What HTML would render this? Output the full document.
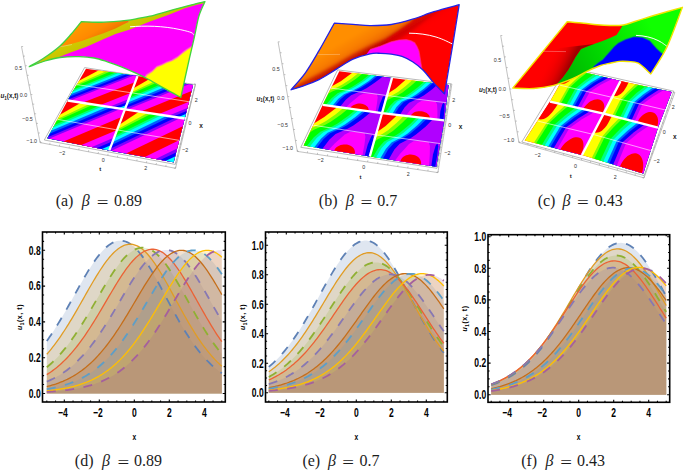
<!DOCTYPE html>
<html><head><meta charset="utf-8"><style>
html,body{margin:0;padding:0;background:#fff;}
svg{display:block;}
.tl{font-family:"Liberation Sans",sans-serif;font-weight:bold;font-size:12.2px;fill:#000;}
.al{font-family:"Liberation Sans",sans-serif;font-weight:bold;font-size:8.3px;fill:#000;}
.cap{font-family:"Liberation Serif",serif;font-size:16px;fill:#1c1c1c;}
.t3{font-family:"Liberation Sans",sans-serif;}
.t3b{font-family:"Liberation Sans",sans-serif;font-weight:bold;font-size:6.3px;fill:#222;}
</style></head><body>
<svg width="685" height="470" viewBox="0 0 685 470">
<defs><clipPath id="cb0"><rect x="42.50" y="232.00" width="182.80" height="170.00"/></clipPath>
<clipPath id="cb1"><rect x="265.50" y="232.00" width="181.80" height="170.00"/></clipPath>
<clipPath id="cb2"><rect x="488.00" y="234.70" width="181.70" height="167.60"/></clipPath></defs>
<g clip-path="url(#cb0)">
<polygon points="46.80,393.50 46.80,340.98 48.26,338.92 49.72,336.80 51.18,334.64 52.63,332.43 54.09,330.17 55.55,327.87 57.01,325.52 58.47,323.13 59.93,320.71 61.38,318.24 62.84,315.75 64.30,313.22 65.76,310.67 67.22,308.09 68.68,305.49 70.13,302.87 71.59,300.25 73.05,297.61 74.51,294.97 75.97,292.33 77.43,289.70 78.88,287.08 80.34,284.48 81.80,281.89 83.26,279.34 84.72,276.82 86.18,274.34 87.63,271.90 89.09,269.51 90.55,267.19 92.01,264.92 93.47,262.72 94.93,260.60 96.38,258.55 97.84,256.60 99.30,254.73 100.76,252.96 102.22,251.29 103.68,249.73 105.13,248.28 106.59,246.94 108.05,245.73 109.51,244.63 110.97,243.67 112.43,242.83 113.88,242.12 115.34,241.55 116.80,241.12 118.26,240.82 119.72,240.66 121.18,240.64 122.63,240.77 124.09,241.06 125.55,241.49 127.01,242.07 128.47,242.79 129.93,243.67 131.38,244.68 132.84,245.83 134.30,247.11 135.76,248.53 137.22,250.07 138.68,251.72 140.13,253.50 141.59,255.38 143.05,257.37 144.51,259.45 145.97,261.62 147.43,263.88 148.88,266.22 150.34,268.62 151.80,271.09 153.26,273.62 154.72,276.20 156.18,278.82 157.63,281.49 159.09,284.18 160.55,286.89 162.01,289.63 163.47,292.38 164.93,295.13 166.38,297.89 167.84,300.64 169.30,303.38 170.76,306.11 172.22,308.82 173.68,311.51 175.13,314.16 176.59,316.79 178.05,319.38 179.51,321.93 180.97,324.45 182.43,326.92 183.88,329.34 185.34,331.71 186.80,334.04 188.26,336.31 189.72,338.53 191.18,340.69 192.63,342.80 194.09,344.85 195.55,346.85 197.01,348.78 198.47,350.66 199.93,352.49 201.38,354.25 202.84,355.96 204.30,357.61 205.76,359.21 207.22,360.75 208.68,362.23 210.13,363.66 211.59,365.04 213.05,366.37 214.51,367.64 215.97,368.87 217.43,370.04 218.88,371.17 220.34,372.25 221.80,373.29 221.80,393.50" fill="#5E81B5" fill-opacity="0.2"/>
<polygon points="46.80,393.50 46.80,354.24 48.26,352.56 49.72,350.83 51.18,349.05 52.63,347.22 54.09,345.33 55.55,343.40 57.01,341.41 58.47,339.38 59.93,337.29 61.38,335.16 62.84,332.98 64.30,330.76 65.76,328.49 67.22,326.19 68.68,323.84 70.13,321.45 71.59,319.04 73.05,316.59 74.51,314.11 75.97,311.60 77.43,309.08 78.88,306.53 80.34,303.97 81.80,301.40 83.26,298.82 84.72,296.25 86.18,293.67 87.63,291.11 89.09,288.55 90.55,286.02 92.01,283.51 93.47,281.02 94.93,278.58 96.38,276.17 97.84,273.81 99.30,271.50 100.76,269.25 102.22,267.06 103.68,264.95 105.13,262.90 106.59,260.94 108.05,259.06 109.51,257.28 110.97,255.59 112.43,254.00 113.88,252.52 115.34,251.14 116.80,249.88 118.26,248.74 119.72,247.73 121.18,246.83 122.63,246.07 124.09,245.43 125.55,244.93 127.01,244.55 128.47,244.32 129.93,244.22 131.38,244.26 132.84,244.44 134.30,244.78 135.76,245.26 137.22,245.88 138.68,246.65 140.13,247.55 141.59,248.60 143.05,249.77 144.51,251.08 145.97,252.51 147.43,254.06 148.88,255.72 150.34,257.50 151.80,259.38 153.26,261.36 154.72,263.43 156.18,265.58 157.63,267.82 159.09,270.13 160.55,272.50 162.01,274.94 163.47,277.43 164.93,279.97 166.38,282.55 167.84,285.16 169.30,287.80 170.76,290.46 172.22,293.14 173.68,295.82 175.13,298.51 176.59,301.20 178.05,303.89 179.51,306.56 180.97,309.22 182.43,311.85 183.88,314.47 185.34,317.05 186.80,319.60 188.26,322.12 189.72,324.60 191.18,327.03 192.63,329.43 194.09,331.77 195.55,334.07 197.01,336.32 198.47,338.52 199.93,340.67 201.38,342.76 202.84,344.79 204.30,346.78 205.76,348.70 207.22,350.57 208.68,352.39 210.13,354.14 211.59,355.84 213.05,357.49 214.51,359.08 215.97,360.62 217.43,362.10 218.88,363.53 220.34,364.91 221.80,366.23 221.80,393.50" fill="#E19C24" fill-opacity="0.2"/>
<polygon points="46.80,393.50 46.80,367.27 48.26,366.05 49.72,364.78 51.18,363.46 52.63,362.10 54.09,360.69 55.55,359.23 57.01,357.72 58.47,356.16 59.93,354.55 61.38,352.89 62.84,351.18 64.30,349.42 65.76,347.61 67.22,345.75 68.68,343.85 70.13,341.89 71.59,339.88 73.05,337.83 74.51,335.73 75.97,333.58 77.43,331.40 78.88,329.17 80.34,326.90 81.80,324.59 83.26,322.25 84.72,319.87 86.18,317.47 87.63,315.04 89.09,312.58 90.55,310.11 92.01,307.61 93.47,305.11 94.93,302.59 96.38,300.07 97.84,297.56 99.30,295.04 100.76,292.54 102.22,290.05 103.68,287.58 105.13,285.14 106.59,282.72 108.05,280.34 109.51,278.01 110.97,275.72 112.43,273.48 113.88,271.30 115.34,269.19 116.80,267.15 118.26,265.18 119.72,263.29 121.18,261.49 122.63,259.77 124.09,258.16 125.55,256.64 127.01,255.23 128.47,253.93 129.93,252.74 131.38,251.67 132.84,250.72 134.30,249.89 135.76,249.19 137.22,248.61 138.68,248.16 140.13,247.85 141.59,247.67 143.05,247.62 144.51,247.71 145.97,247.94 147.43,248.32 148.88,248.84 150.34,249.50 151.80,250.30 153.26,251.23 154.72,252.30 156.18,253.49 157.63,254.81 159.09,256.25 160.55,257.81 162.01,259.48 163.47,261.25 164.93,263.12 166.38,265.09 167.84,267.14 169.30,269.28 170.76,271.49 172.22,273.77 173.68,276.11 175.13,278.51 176.59,280.96 178.05,283.46 179.51,285.99 180.97,288.55 182.43,291.14 183.88,293.75 185.34,296.37 186.80,298.99 188.26,301.62 189.72,304.25 191.18,306.87 192.63,309.48 194.09,312.07 195.55,314.64 197.01,317.18 198.47,319.69 199.93,322.18 201.38,324.62 202.84,327.03 204.30,329.40 205.76,331.72 207.22,334.00 208.68,336.22 210.13,338.40 211.59,340.53 213.05,342.61 214.51,344.64 215.97,346.61 217.43,348.52 218.88,350.39 220.34,352.19 221.80,353.95 221.80,393.50" fill="#8FB032" fill-opacity="0.2"/>
<polygon points="46.80,393.50 46.80,374.59 48.26,373.66 49.72,372.69 51.18,371.68 52.63,370.63 54.09,369.54 55.55,368.40 57.01,367.23 58.47,366.00 59.93,364.74 61.38,363.42 62.84,362.06 64.30,360.65 65.76,359.19 67.22,357.69 68.68,356.13 70.13,354.53 71.59,352.87 73.05,351.17 74.51,349.41 75.97,347.61 77.43,345.76 78.88,343.86 80.34,341.91 81.80,339.91 83.26,337.87 84.72,335.78 86.18,333.64 87.63,331.47 89.09,329.25 90.55,327.00 92.01,324.71 93.47,322.38 94.93,320.02 96.38,317.64 97.84,315.23 99.30,312.79 100.76,310.34 102.22,307.87 103.68,305.39 105.13,302.90 106.59,300.41 108.05,297.92 109.51,295.44 110.97,292.96 112.43,290.51 113.88,288.07 115.34,285.66 116.80,283.28 118.26,280.94 119.72,278.64 121.18,276.39 122.63,274.20 124.09,272.06 125.55,269.99 127.01,267.99 128.47,266.06 129.93,264.22 131.38,262.46 132.84,260.79 134.30,259.22 135.76,257.75 137.22,256.39 138.68,255.13 140.13,253.99 141.59,252.96 143.05,252.05 144.51,251.27 145.97,250.61 147.43,250.07 148.88,249.67 150.34,249.39 151.80,249.25 153.26,249.24 154.72,249.37 156.18,249.64 157.63,250.05 159.09,250.60 160.55,251.30 162.01,252.12 163.47,253.08 164.93,254.17 166.38,255.39 167.84,256.73 169.30,258.19 170.76,259.76 172.22,261.44 173.68,263.22 175.13,265.10 176.59,267.06 178.05,269.12 179.51,271.25 180.97,273.46 182.43,275.73 183.88,278.07 185.34,280.46 186.80,282.89 188.26,285.37 189.72,287.88 191.18,290.42 192.63,292.99 194.09,295.57 195.55,298.17 197.01,300.77 198.47,303.37 199.93,305.96 201.38,308.55 202.84,311.13 204.30,313.68 205.76,316.21 207.22,318.72 208.68,321.20 210.13,323.64 211.59,326.05 213.05,328.42 214.51,330.75 215.97,333.04 217.43,335.27 218.88,337.47 220.34,339.61 221.80,341.70 221.80,393.50" fill="#EB6235" fill-opacity="0.2"/>
<polygon points="46.80,393.50 46.80,381.60 48.26,380.98 49.72,380.33 51.18,379.65 52.63,378.94 54.09,378.20 55.55,377.43 57.01,376.62 58.47,375.78 59.93,374.90 61.38,373.98 62.84,373.03 64.30,372.03 65.76,371.00 67.22,369.92 68.68,368.80 70.13,367.64 71.59,366.44 73.05,365.18 74.51,363.89 75.97,362.54 77.43,361.15 78.88,359.72 80.34,358.23 81.80,356.69 83.26,355.11 84.72,353.47 86.18,351.79 87.63,350.06 89.09,348.27 90.55,346.44 92.01,344.56 93.47,342.63 94.93,340.66 96.38,338.63 97.84,336.57 99.30,334.45 100.76,332.30 102.22,330.10 103.68,327.87 105.13,325.60 106.59,323.29 108.05,320.95 109.51,318.59 110.97,316.19 112.43,313.77 113.88,311.34 115.34,308.88 116.80,306.42 118.26,303.94 119.72,301.47 121.18,298.99 122.63,296.51 124.09,294.05 125.55,291.60 127.01,289.17 128.47,286.77 129.93,284.39 131.38,282.06 132.84,279.76 134.30,277.51 135.76,275.31 137.22,273.17 138.68,271.09 140.13,269.08 141.59,267.15 143.05,265.29 144.51,263.52 145.97,261.84 147.43,260.26 148.88,258.77 150.34,257.38 151.80,256.11 153.26,254.94 154.72,253.89 156.18,252.96 157.63,252.15 159.09,251.46 160.55,250.90 162.01,250.47 163.47,250.16 164.93,249.99 166.38,249.94 167.84,250.04 169.30,250.27 170.76,250.65 172.22,251.17 173.68,251.82 175.13,252.62 176.59,253.54 178.05,254.59 179.51,255.78 180.97,257.08 182.43,258.50 183.88,260.04 185.34,261.68 186.80,263.43 188.26,265.28 189.72,267.21 191.18,269.24 192.63,271.34 194.09,273.52 195.55,275.77 197.01,278.08 198.47,280.44 199.93,282.86 201.38,285.31 202.84,287.80 204.30,290.33 205.76,292.87 207.22,295.44 208.68,298.02 210.13,300.61 211.59,303.19 213.05,305.78 214.51,308.36 215.97,310.92 217.43,313.47 218.88,316.00 220.34,318.50 221.80,320.97 221.80,393.50" fill="#8778B3" fill-opacity="0.2"/>
<polygon points="46.80,393.50 46.80,386.61 48.26,386.24 49.72,385.84 51.18,385.43 52.63,384.99 54.09,384.53 55.55,384.06 57.01,383.55 58.47,383.02 59.93,382.47 61.38,381.89 62.84,381.29 64.30,380.65 65.76,379.99 67.22,379.30 68.68,378.57 70.13,377.81 71.59,377.02 73.05,376.20 74.51,375.34 75.97,374.44 77.43,373.50 78.88,372.53 80.34,371.51 81.80,370.46 83.26,369.36 84.72,368.22 86.18,367.04 87.63,365.81 89.09,364.54 90.55,363.22 92.01,361.85 93.47,360.44 94.93,358.98 96.38,357.46 97.84,355.91 99.30,354.30 100.76,352.64 102.22,350.93 103.68,349.18 105.13,347.37 106.59,345.51 108.05,343.61 109.51,341.66 110.97,339.66 112.43,337.62 113.88,335.53 115.34,333.40 116.80,331.23 118.26,329.02 119.72,326.77 121.18,324.48 122.63,322.17 124.09,319.82 125.55,317.44 127.01,315.04 128.47,312.61 129.93,310.17 131.38,307.72 132.84,305.25 134.30,302.78 135.76,300.31 137.22,297.84 138.68,295.38 140.13,292.93 141.59,290.50 143.05,288.09 144.51,285.70 145.97,283.36 147.43,281.05 148.88,278.78 150.34,276.56 151.80,274.40 153.26,272.30 154.72,270.27 156.18,268.30 157.63,266.42 159.09,264.61 160.55,262.90 162.01,261.27 163.47,259.74 164.93,258.32 166.38,257.00 167.84,255.79 169.30,254.69 170.76,253.71 172.22,252.84 173.68,252.10 175.13,251.49 176.59,251.00 178.05,250.64 179.51,250.41 180.97,250.31 182.43,250.34 183.88,250.51 185.34,250.82 186.80,251.28 188.26,251.87 189.72,252.60 191.18,253.47 192.63,254.46 194.09,255.59 195.55,256.83 197.01,258.20 198.47,259.68 199.93,261.28 201.38,262.97 202.84,264.77 204.30,266.67 205.76,268.65 207.22,270.71 208.68,272.86 210.13,275.07 211.59,277.35 213.05,279.68 214.51,282.07 215.97,284.50 217.43,286.97 218.88,289.47 220.34,292.00 221.80,294.56 221.80,393.50" fill="#C56E1A" fill-opacity="0.2"/>
<polygon points="46.80,393.50 46.80,389.13 48.26,388.88 49.72,388.62 51.18,388.35 52.63,388.06 54.09,387.76 55.55,387.44 57.01,387.11 58.47,386.76 59.93,386.39 61.38,386.00 62.84,385.60 64.30,385.17 65.76,384.72 67.22,384.25 68.68,383.76 70.13,383.24 71.59,382.70 73.05,382.13 74.51,381.53 75.97,380.91 77.43,380.26 78.88,379.58 80.34,378.86 81.80,378.12 83.26,377.34 84.72,376.53 86.18,375.68 87.63,374.80 89.09,373.88 90.55,372.92 92.01,371.92 93.47,370.88 94.93,369.80 96.38,368.68 97.84,367.52 99.30,366.31 100.76,365.05 102.22,363.75 103.68,362.40 105.13,361.01 106.59,359.57 108.05,358.07 109.51,356.54 110.97,354.95 112.43,353.31 113.88,351.62 115.34,349.88 116.80,348.10 118.26,346.26 119.72,344.38 121.18,342.45 122.63,340.47 124.09,338.44 125.55,336.37 127.01,334.26 128.47,332.10 129.93,329.91 131.38,327.67 132.84,325.40 134.30,323.10 135.76,320.76 137.22,318.39 138.68,316.00 140.13,313.59 141.59,311.15 143.05,308.70 144.51,306.24 145.97,303.77 147.43,301.30 148.88,298.83 150.34,296.36 151.80,293.91 153.26,291.47 154.72,289.05 156.18,286.65 157.63,284.29 159.09,281.96 160.55,279.68 162.01,277.44 163.47,275.26 164.93,273.13 166.38,271.07 167.84,269.08 169.30,267.16 170.76,265.32 172.22,263.57 173.68,261.91 175.13,260.34 176.59,258.88 178.05,257.51 179.51,256.26 180.97,255.11 182.43,254.08 183.88,253.17 185.34,252.38 186.80,251.72 188.26,251.18 189.72,250.77 191.18,250.48 192.63,250.33 194.09,250.31 195.55,250.42 197.01,250.68 198.47,251.08 199.93,251.62 201.38,252.29 202.84,253.11 204.30,254.05 205.76,255.12 207.22,256.32 208.68,257.64 210.13,259.08 211.59,260.63 213.05,262.28 214.51,264.04 215.97,265.90 217.43,267.85 218.88,269.88 220.34,271.99 221.80,274.18 221.80,393.50" fill="#5D9EC7" fill-opacity="0.2"/>
<polygon points="46.80,393.50 46.80,390.90 48.26,390.75 49.72,390.59 51.18,390.42 52.63,390.25 54.09,390.06 55.55,389.87 57.01,389.66 58.47,389.44 59.93,389.21 61.38,388.97 62.84,388.72 64.30,388.45 65.76,388.17 67.22,387.87 68.68,387.56 70.13,387.23 71.59,386.89 73.05,386.53 74.51,386.15 75.97,385.75 77.43,385.33 78.88,384.88 80.34,384.42 81.80,383.94 83.26,383.43 84.72,382.89 86.18,382.34 87.63,381.75 89.09,381.14 90.55,380.50 92.01,379.83 93.47,379.12 94.93,378.39 96.38,377.63 97.84,376.83 99.30,375.99 100.76,375.12 102.22,374.22 103.68,373.27 105.13,372.29 106.59,371.26 108.05,370.20 109.51,369.09 110.97,367.94 112.43,366.75 113.88,365.51 115.34,364.22 116.80,362.89 118.26,361.52 119.72,360.09 121.18,358.62 122.63,357.10 124.09,355.52 125.55,353.90 127.01,352.23 128.47,350.51 129.93,348.75 131.38,346.93 132.84,345.06 134.30,343.15 135.76,341.19 137.22,339.18 138.68,337.12 140.13,335.03 141.59,332.89 143.05,330.70 144.51,328.48 145.97,326.22 147.43,323.93 148.88,321.60 150.34,319.25 151.80,316.86 153.26,314.46 154.72,312.03 156.18,309.59 157.63,307.13 159.09,304.66 160.55,302.19 162.01,299.72 163.47,297.25 164.93,294.79 166.38,292.34 167.84,289.92 169.30,287.51 170.76,285.14 172.22,282.80 173.68,280.50 175.13,278.24 176.59,276.04 178.05,273.89 179.51,271.81 180.97,269.79 182.43,267.84 183.88,265.98 185.34,264.19 186.80,262.50 188.26,260.90 189.72,259.39 191.18,257.99 192.63,256.70 194.09,255.51 195.55,254.44 197.01,253.49 198.47,252.65 199.93,251.94 201.38,251.36 202.84,250.90 204.30,250.57 205.76,250.37 207.22,250.30 208.68,250.37 210.13,250.57 211.59,250.92 213.05,251.41 214.51,252.04 215.97,252.80 217.43,253.69 218.88,254.72 220.34,255.87 221.80,257.15 221.80,393.50" fill="#FFBF00" fill-opacity="0.2"/>
<polygon points="46.80,393.50 46.80,391.93 48.26,391.83 49.72,391.74 51.18,391.63 52.63,391.53 54.09,391.41 55.55,391.29 57.01,391.16 58.47,391.03 59.93,390.88 61.38,390.73 62.84,390.57 64.30,390.40 65.76,390.23 67.22,390.04 68.68,389.84 70.13,389.64 71.59,389.42 73.05,389.19 74.51,388.94 75.97,388.69 77.43,388.42 78.88,388.13 80.34,387.84 81.80,387.52 83.26,387.19 84.72,386.85 86.18,386.48 87.63,386.10 89.09,385.70 90.55,385.27 92.01,384.83 93.47,384.36 94.93,383.88 96.38,383.37 97.84,382.83 99.30,382.27 100.76,381.68 102.22,381.06 103.68,380.42 105.13,379.74 106.59,379.04 108.05,378.30 109.51,377.53 110.97,376.73 112.43,375.89 113.88,375.02 115.34,374.10 116.80,373.16 118.26,372.17 119.72,371.14 121.18,370.07 122.63,368.96 124.09,367.80 125.55,366.60 127.01,365.36 128.47,364.07 129.93,362.73 131.38,361.35 132.84,359.92 134.30,358.44 135.76,356.91 137.22,355.33 138.68,353.71 140.13,352.03 141.59,350.31 143.05,348.53 144.51,346.71 145.97,344.84 147.43,342.92 148.88,340.95 150.34,338.93 151.80,336.88 153.26,334.77 154.72,332.63 156.18,330.44 157.63,328.21 159.09,325.95 160.55,323.65 162.01,321.32 163.47,318.96 164.93,316.58 166.38,314.17 167.84,311.74 169.30,309.29 170.76,306.83 172.22,304.36 173.68,301.89 175.13,299.42 176.59,296.95 178.05,294.49 179.51,292.05 180.97,289.63 182.43,287.23 183.88,284.85 185.34,282.52 186.80,280.22 188.26,277.98 189.72,275.78 191.18,273.64 192.63,271.56 194.09,269.55 195.55,267.62 197.01,265.76 198.47,263.98 199.93,262.30 201.38,260.71 202.84,259.22 204.30,257.83 205.76,256.55 207.22,255.38 208.68,254.32 210.13,253.38 211.59,252.56 213.05,251.87 214.51,251.30 215.97,250.85 217.43,250.54 218.88,250.36 220.34,250.30 221.80,250.38 221.80,393.50" fill="#A5609D" fill-opacity="0.2"/>
<polyline points="46.80,340.98 48.26,338.92 49.72,336.80 51.18,334.64 52.63,332.43 54.09,330.17 55.55,327.87 57.01,325.52 58.47,323.13 59.93,320.71 61.38,318.24 62.84,315.75 64.30,313.22 65.76,310.67 67.22,308.09 68.68,305.49 70.13,302.87 71.59,300.25 73.05,297.61 74.51,294.97 75.97,292.33 77.43,289.70 78.88,287.08 80.34,284.48 81.80,281.89 83.26,279.34 84.72,276.82 86.18,274.34 87.63,271.90 89.09,269.51 90.55,267.19 92.01,264.92 93.47,262.72 94.93,260.60 96.38,258.55 97.84,256.60 99.30,254.73 100.76,252.96 102.22,251.29 103.68,249.73 105.13,248.28 106.59,246.94 108.05,245.73 109.51,244.63 110.97,243.67 112.43,242.83 113.88,242.12 115.34,241.55 116.80,241.12 118.26,240.82 119.72,240.66 121.18,240.64 122.63,240.77 124.09,241.06 125.55,241.49 127.01,242.07 128.47,242.79 129.93,243.67 131.38,244.68 132.84,245.83 134.30,247.11 135.76,248.53 137.22,250.07 138.68,251.72 140.13,253.50 141.59,255.38 143.05,257.37 144.51,259.45 145.97,261.62 147.43,263.88 148.88,266.22 150.34,268.62 151.80,271.09 153.26,273.62 154.72,276.20 156.18,278.82 157.63,281.49 159.09,284.18 160.55,286.89 162.01,289.63 163.47,292.38 164.93,295.13 166.38,297.89 167.84,300.64 169.30,303.38 170.76,306.11 172.22,308.82 173.68,311.51 175.13,314.16 176.59,316.79 178.05,319.38 179.51,321.93 180.97,324.45 182.43,326.92 183.88,329.34 185.34,331.71 186.80,334.04 188.26,336.31 189.72,338.53 191.18,340.69 192.63,342.80 194.09,344.85 195.55,346.85 197.01,348.78 198.47,350.66 199.93,352.49 201.38,354.25 202.84,355.96 204.30,357.61 205.76,359.21 207.22,360.75 208.68,362.23 210.13,363.66 211.59,365.04 213.05,366.37 214.51,367.64 215.97,368.87 217.43,370.04 218.88,371.17 220.34,372.25 221.80,373.29" fill="none" stroke="#5E81B5" stroke-width="1.8" stroke-dasharray="9,9.5"/>
<polyline points="46.80,354.24 48.26,352.56 49.72,350.83 51.18,349.05 52.63,347.22 54.09,345.33 55.55,343.40 57.01,341.41 58.47,339.38 59.93,337.29 61.38,335.16 62.84,332.98 64.30,330.76 65.76,328.49 67.22,326.19 68.68,323.84 70.13,321.45 71.59,319.04 73.05,316.59 74.51,314.11 75.97,311.60 77.43,309.08 78.88,306.53 80.34,303.97 81.80,301.40 83.26,298.82 84.72,296.25 86.18,293.67 87.63,291.11 89.09,288.55 90.55,286.02 92.01,283.51 93.47,281.02 94.93,278.58 96.38,276.17 97.84,273.81 99.30,271.50 100.76,269.25 102.22,267.06 103.68,264.95 105.13,262.90 106.59,260.94 108.05,259.06 109.51,257.28 110.97,255.59 112.43,254.00 113.88,252.52 115.34,251.14 116.80,249.88 118.26,248.74 119.72,247.73 121.18,246.83 122.63,246.07 124.09,245.43 125.55,244.93 127.01,244.55 128.47,244.32 129.93,244.22 131.38,244.26 132.84,244.44 134.30,244.78 135.76,245.26 137.22,245.88 138.68,246.65 140.13,247.55 141.59,248.60 143.05,249.77 144.51,251.08 145.97,252.51 147.43,254.06 148.88,255.72 150.34,257.50 151.80,259.38 153.26,261.36 154.72,263.43 156.18,265.58 157.63,267.82 159.09,270.13 160.55,272.50 162.01,274.94 163.47,277.43 164.93,279.97 166.38,282.55 167.84,285.16 169.30,287.80 170.76,290.46 172.22,293.14 173.68,295.82 175.13,298.51 176.59,301.20 178.05,303.89 179.51,306.56 180.97,309.22 182.43,311.85 183.88,314.47 185.34,317.05 186.80,319.60 188.26,322.12 189.72,324.60 191.18,327.03 192.63,329.43 194.09,331.77 195.55,334.07 197.01,336.32 198.47,338.52 199.93,340.67 201.38,342.76 202.84,344.79 204.30,346.78 205.76,348.70 207.22,350.57 208.68,352.39 210.13,354.14 211.59,355.84 213.05,357.49 214.51,359.08 215.97,360.62 217.43,362.10 218.88,363.53 220.34,364.91 221.80,366.23" fill="none" stroke="#E19C24" stroke-width="1.3"/>
<polyline points="46.80,367.27 48.26,366.05 49.72,364.78 51.18,363.46 52.63,362.10 54.09,360.69 55.55,359.23 57.01,357.72 58.47,356.16 59.93,354.55 61.38,352.89 62.84,351.18 64.30,349.42 65.76,347.61 67.22,345.75 68.68,343.85 70.13,341.89 71.59,339.88 73.05,337.83 74.51,335.73 75.97,333.58 77.43,331.40 78.88,329.17 80.34,326.90 81.80,324.59 83.26,322.25 84.72,319.87 86.18,317.47 87.63,315.04 89.09,312.58 90.55,310.11 92.01,307.61 93.47,305.11 94.93,302.59 96.38,300.07 97.84,297.56 99.30,295.04 100.76,292.54 102.22,290.05 103.68,287.58 105.13,285.14 106.59,282.72 108.05,280.34 109.51,278.01 110.97,275.72 112.43,273.48 113.88,271.30 115.34,269.19 116.80,267.15 118.26,265.18 119.72,263.29 121.18,261.49 122.63,259.77 124.09,258.16 125.55,256.64 127.01,255.23 128.47,253.93 129.93,252.74 131.38,251.67 132.84,250.72 134.30,249.89 135.76,249.19 137.22,248.61 138.68,248.16 140.13,247.85 141.59,247.67 143.05,247.62 144.51,247.71 145.97,247.94 147.43,248.32 148.88,248.84 150.34,249.50 151.80,250.30 153.26,251.23 154.72,252.30 156.18,253.49 157.63,254.81 159.09,256.25 160.55,257.81 162.01,259.48 163.47,261.25 164.93,263.12 166.38,265.09 167.84,267.14 169.30,269.28 170.76,271.49 172.22,273.77 173.68,276.11 175.13,278.51 176.59,280.96 178.05,283.46 179.51,285.99 180.97,288.55 182.43,291.14 183.88,293.75 185.34,296.37 186.80,298.99 188.26,301.62 189.72,304.25 191.18,306.87 192.63,309.48 194.09,312.07 195.55,314.64 197.01,317.18 198.47,319.69 199.93,322.18 201.38,324.62 202.84,327.03 204.30,329.40 205.76,331.72 207.22,334.00 208.68,336.22 210.13,338.40 211.59,340.53 213.05,342.61 214.51,344.64 215.97,346.61 217.43,348.52 218.88,350.39 220.34,352.19 221.80,353.95" fill="none" stroke="#8FB032" stroke-width="1.8" stroke-dasharray="9,9.5"/>
<polyline points="46.80,374.59 48.26,373.66 49.72,372.69 51.18,371.68 52.63,370.63 54.09,369.54 55.55,368.40 57.01,367.23 58.47,366.00 59.93,364.74 61.38,363.42 62.84,362.06 64.30,360.65 65.76,359.19 67.22,357.69 68.68,356.13 70.13,354.53 71.59,352.87 73.05,351.17 74.51,349.41 75.97,347.61 77.43,345.76 78.88,343.86 80.34,341.91 81.80,339.91 83.26,337.87 84.72,335.78 86.18,333.64 87.63,331.47 89.09,329.25 90.55,327.00 92.01,324.71 93.47,322.38 94.93,320.02 96.38,317.64 97.84,315.23 99.30,312.79 100.76,310.34 102.22,307.87 103.68,305.39 105.13,302.90 106.59,300.41 108.05,297.92 109.51,295.44 110.97,292.96 112.43,290.51 113.88,288.07 115.34,285.66 116.80,283.28 118.26,280.94 119.72,278.64 121.18,276.39 122.63,274.20 124.09,272.06 125.55,269.99 127.01,267.99 128.47,266.06 129.93,264.22 131.38,262.46 132.84,260.79 134.30,259.22 135.76,257.75 137.22,256.39 138.68,255.13 140.13,253.99 141.59,252.96 143.05,252.05 144.51,251.27 145.97,250.61 147.43,250.07 148.88,249.67 150.34,249.39 151.80,249.25 153.26,249.24 154.72,249.37 156.18,249.64 157.63,250.05 159.09,250.60 160.55,251.30 162.01,252.12 163.47,253.08 164.93,254.17 166.38,255.39 167.84,256.73 169.30,258.19 170.76,259.76 172.22,261.44 173.68,263.22 175.13,265.10 176.59,267.06 178.05,269.12 179.51,271.25 180.97,273.46 182.43,275.73 183.88,278.07 185.34,280.46 186.80,282.89 188.26,285.37 189.72,287.88 191.18,290.42 192.63,292.99 194.09,295.57 195.55,298.17 197.01,300.77 198.47,303.37 199.93,305.96 201.38,308.55 202.84,311.13 204.30,313.68 205.76,316.21 207.22,318.72 208.68,321.20 210.13,323.64 211.59,326.05 213.05,328.42 214.51,330.75 215.97,333.04 217.43,335.27 218.88,337.47 220.34,339.61 221.80,341.70" fill="none" stroke="#EB6235" stroke-width="1.3"/>
<polyline points="46.80,381.60 48.26,380.98 49.72,380.33 51.18,379.65 52.63,378.94 54.09,378.20 55.55,377.43 57.01,376.62 58.47,375.78 59.93,374.90 61.38,373.98 62.84,373.03 64.30,372.03 65.76,371.00 67.22,369.92 68.68,368.80 70.13,367.64 71.59,366.44 73.05,365.18 74.51,363.89 75.97,362.54 77.43,361.15 78.88,359.72 80.34,358.23 81.80,356.69 83.26,355.11 84.72,353.47 86.18,351.79 87.63,350.06 89.09,348.27 90.55,346.44 92.01,344.56 93.47,342.63 94.93,340.66 96.38,338.63 97.84,336.57 99.30,334.45 100.76,332.30 102.22,330.10 103.68,327.87 105.13,325.60 106.59,323.29 108.05,320.95 109.51,318.59 110.97,316.19 112.43,313.77 113.88,311.34 115.34,308.88 116.80,306.42 118.26,303.94 119.72,301.47 121.18,298.99 122.63,296.51 124.09,294.05 125.55,291.60 127.01,289.17 128.47,286.77 129.93,284.39 131.38,282.06 132.84,279.76 134.30,277.51 135.76,275.31 137.22,273.17 138.68,271.09 140.13,269.08 141.59,267.15 143.05,265.29 144.51,263.52 145.97,261.84 147.43,260.26 148.88,258.77 150.34,257.38 151.80,256.11 153.26,254.94 154.72,253.89 156.18,252.96 157.63,252.15 159.09,251.46 160.55,250.90 162.01,250.47 163.47,250.16 164.93,249.99 166.38,249.94 167.84,250.04 169.30,250.27 170.76,250.65 172.22,251.17 173.68,251.82 175.13,252.62 176.59,253.54 178.05,254.59 179.51,255.78 180.97,257.08 182.43,258.50 183.88,260.04 185.34,261.68 186.80,263.43 188.26,265.28 189.72,267.21 191.18,269.24 192.63,271.34 194.09,273.52 195.55,275.77 197.01,278.08 198.47,280.44 199.93,282.86 201.38,285.31 202.84,287.80 204.30,290.33 205.76,292.87 207.22,295.44 208.68,298.02 210.13,300.61 211.59,303.19 213.05,305.78 214.51,308.36 215.97,310.92 217.43,313.47 218.88,316.00 220.34,318.50 221.80,320.97" fill="none" stroke="#8778B3" stroke-width="1.8" stroke-dasharray="9,9.5"/>
<polyline points="46.80,386.61 48.26,386.24 49.72,385.84 51.18,385.43 52.63,384.99 54.09,384.53 55.55,384.06 57.01,383.55 58.47,383.02 59.93,382.47 61.38,381.89 62.84,381.29 64.30,380.65 65.76,379.99 67.22,379.30 68.68,378.57 70.13,377.81 71.59,377.02 73.05,376.20 74.51,375.34 75.97,374.44 77.43,373.50 78.88,372.53 80.34,371.51 81.80,370.46 83.26,369.36 84.72,368.22 86.18,367.04 87.63,365.81 89.09,364.54 90.55,363.22 92.01,361.85 93.47,360.44 94.93,358.98 96.38,357.46 97.84,355.91 99.30,354.30 100.76,352.64 102.22,350.93 103.68,349.18 105.13,347.37 106.59,345.51 108.05,343.61 109.51,341.66 110.97,339.66 112.43,337.62 113.88,335.53 115.34,333.40 116.80,331.23 118.26,329.02 119.72,326.77 121.18,324.48 122.63,322.17 124.09,319.82 125.55,317.44 127.01,315.04 128.47,312.61 129.93,310.17 131.38,307.72 132.84,305.25 134.30,302.78 135.76,300.31 137.22,297.84 138.68,295.38 140.13,292.93 141.59,290.50 143.05,288.09 144.51,285.70 145.97,283.36 147.43,281.05 148.88,278.78 150.34,276.56 151.80,274.40 153.26,272.30 154.72,270.27 156.18,268.30 157.63,266.42 159.09,264.61 160.55,262.90 162.01,261.27 163.47,259.74 164.93,258.32 166.38,257.00 167.84,255.79 169.30,254.69 170.76,253.71 172.22,252.84 173.68,252.10 175.13,251.49 176.59,251.00 178.05,250.64 179.51,250.41 180.97,250.31 182.43,250.34 183.88,250.51 185.34,250.82 186.80,251.28 188.26,251.87 189.72,252.60 191.18,253.47 192.63,254.46 194.09,255.59 195.55,256.83 197.01,258.20 198.47,259.68 199.93,261.28 201.38,262.97 202.84,264.77 204.30,266.67 205.76,268.65 207.22,270.71 208.68,272.86 210.13,275.07 211.59,277.35 213.05,279.68 214.51,282.07 215.97,284.50 217.43,286.97 218.88,289.47 220.34,292.00 221.80,294.56" fill="none" stroke="#C56E1A" stroke-width="1.3"/>
<polyline points="46.80,389.13 48.26,388.88 49.72,388.62 51.18,388.35 52.63,388.06 54.09,387.76 55.55,387.44 57.01,387.11 58.47,386.76 59.93,386.39 61.38,386.00 62.84,385.60 64.30,385.17 65.76,384.72 67.22,384.25 68.68,383.76 70.13,383.24 71.59,382.70 73.05,382.13 74.51,381.53 75.97,380.91 77.43,380.26 78.88,379.58 80.34,378.86 81.80,378.12 83.26,377.34 84.72,376.53 86.18,375.68 87.63,374.80 89.09,373.88 90.55,372.92 92.01,371.92 93.47,370.88 94.93,369.80 96.38,368.68 97.84,367.52 99.30,366.31 100.76,365.05 102.22,363.75 103.68,362.40 105.13,361.01 106.59,359.57 108.05,358.07 109.51,356.54 110.97,354.95 112.43,353.31 113.88,351.62 115.34,349.88 116.80,348.10 118.26,346.26 119.72,344.38 121.18,342.45 122.63,340.47 124.09,338.44 125.55,336.37 127.01,334.26 128.47,332.10 129.93,329.91 131.38,327.67 132.84,325.40 134.30,323.10 135.76,320.76 137.22,318.39 138.68,316.00 140.13,313.59 141.59,311.15 143.05,308.70 144.51,306.24 145.97,303.77 147.43,301.30 148.88,298.83 150.34,296.36 151.80,293.91 153.26,291.47 154.72,289.05 156.18,286.65 157.63,284.29 159.09,281.96 160.55,279.68 162.01,277.44 163.47,275.26 164.93,273.13 166.38,271.07 167.84,269.08 169.30,267.16 170.76,265.32 172.22,263.57 173.68,261.91 175.13,260.34 176.59,258.88 178.05,257.51 179.51,256.26 180.97,255.11 182.43,254.08 183.88,253.17 185.34,252.38 186.80,251.72 188.26,251.18 189.72,250.77 191.18,250.48 192.63,250.33 194.09,250.31 195.55,250.42 197.01,250.68 198.47,251.08 199.93,251.62 201.38,252.29 202.84,253.11 204.30,254.05 205.76,255.12 207.22,256.32 208.68,257.64 210.13,259.08 211.59,260.63 213.05,262.28 214.51,264.04 215.97,265.90 217.43,267.85 218.88,269.88 220.34,271.99 221.80,274.18" fill="none" stroke="#5D9EC7" stroke-width="1.8" stroke-dasharray="9,9.5"/>
<polyline points="46.80,390.90 48.26,390.75 49.72,390.59 51.18,390.42 52.63,390.25 54.09,390.06 55.55,389.87 57.01,389.66 58.47,389.44 59.93,389.21 61.38,388.97 62.84,388.72 64.30,388.45 65.76,388.17 67.22,387.87 68.68,387.56 70.13,387.23 71.59,386.89 73.05,386.53 74.51,386.15 75.97,385.75 77.43,385.33 78.88,384.88 80.34,384.42 81.80,383.94 83.26,383.43 84.72,382.89 86.18,382.34 87.63,381.75 89.09,381.14 90.55,380.50 92.01,379.83 93.47,379.12 94.93,378.39 96.38,377.63 97.84,376.83 99.30,375.99 100.76,375.12 102.22,374.22 103.68,373.27 105.13,372.29 106.59,371.26 108.05,370.20 109.51,369.09 110.97,367.94 112.43,366.75 113.88,365.51 115.34,364.22 116.80,362.89 118.26,361.52 119.72,360.09 121.18,358.62 122.63,357.10 124.09,355.52 125.55,353.90 127.01,352.23 128.47,350.51 129.93,348.75 131.38,346.93 132.84,345.06 134.30,343.15 135.76,341.19 137.22,339.18 138.68,337.12 140.13,335.03 141.59,332.89 143.05,330.70 144.51,328.48 145.97,326.22 147.43,323.93 148.88,321.60 150.34,319.25 151.80,316.86 153.26,314.46 154.72,312.03 156.18,309.59 157.63,307.13 159.09,304.66 160.55,302.19 162.01,299.72 163.47,297.25 164.93,294.79 166.38,292.34 167.84,289.92 169.30,287.51 170.76,285.14 172.22,282.80 173.68,280.50 175.13,278.24 176.59,276.04 178.05,273.89 179.51,271.81 180.97,269.79 182.43,267.84 183.88,265.98 185.34,264.19 186.80,262.50 188.26,260.90 189.72,259.39 191.18,257.99 192.63,256.70 194.09,255.51 195.55,254.44 197.01,253.49 198.47,252.65 199.93,251.94 201.38,251.36 202.84,250.90 204.30,250.57 205.76,250.37 207.22,250.30 208.68,250.37 210.13,250.57 211.59,250.92 213.05,251.41 214.51,252.04 215.97,252.80 217.43,253.69 218.88,254.72 220.34,255.87 221.80,257.15" fill="none" stroke="#FFBF00" stroke-width="1.3"/>
<polyline points="46.80,391.93 48.26,391.83 49.72,391.74 51.18,391.63 52.63,391.53 54.09,391.41 55.55,391.29 57.01,391.16 58.47,391.03 59.93,390.88 61.38,390.73 62.84,390.57 64.30,390.40 65.76,390.23 67.22,390.04 68.68,389.84 70.13,389.64 71.59,389.42 73.05,389.19 74.51,388.94 75.97,388.69 77.43,388.42 78.88,388.13 80.34,387.84 81.80,387.52 83.26,387.19 84.72,386.85 86.18,386.48 87.63,386.10 89.09,385.70 90.55,385.27 92.01,384.83 93.47,384.36 94.93,383.88 96.38,383.37 97.84,382.83 99.30,382.27 100.76,381.68 102.22,381.06 103.68,380.42 105.13,379.74 106.59,379.04 108.05,378.30 109.51,377.53 110.97,376.73 112.43,375.89 113.88,375.02 115.34,374.10 116.80,373.16 118.26,372.17 119.72,371.14 121.18,370.07 122.63,368.96 124.09,367.80 125.55,366.60 127.01,365.36 128.47,364.07 129.93,362.73 131.38,361.35 132.84,359.92 134.30,358.44 135.76,356.91 137.22,355.33 138.68,353.71 140.13,352.03 141.59,350.31 143.05,348.53 144.51,346.71 145.97,344.84 147.43,342.92 148.88,340.95 150.34,338.93 151.80,336.88 153.26,334.77 154.72,332.63 156.18,330.44 157.63,328.21 159.09,325.95 160.55,323.65 162.01,321.32 163.47,318.96 164.93,316.58 166.38,314.17 167.84,311.74 169.30,309.29 170.76,306.83 172.22,304.36 173.68,301.89 175.13,299.42 176.59,296.95 178.05,294.49 179.51,292.05 180.97,289.63 182.43,287.23 183.88,284.85 185.34,282.52 186.80,280.22 188.26,277.98 189.72,275.78 191.18,273.64 192.63,271.56 194.09,269.55 195.55,267.62 197.01,265.76 198.47,263.98 199.93,262.30 201.38,260.71 202.84,259.22 204.30,257.83 205.76,256.55 207.22,255.38 208.68,254.32 210.13,253.38 211.59,252.56 213.05,251.87 214.51,251.30 215.97,250.85 217.43,250.54 218.88,250.36 220.34,250.30 221.80,250.38" fill="none" stroke="#A5609D" stroke-width="1.8" stroke-dasharray="9,9.5"/>
</g>
<rect x="42.50" y="232.00" width="182.80" height="170.00" fill="none" stroke="#000" stroke-width="1.6"/>
<path d="M46.80,402.00v-1.60M46.80,232.00v1.60M55.55,402.00v-1.60M55.55,232.00v1.60M64.30,402.00v-2.60M64.30,232.00v2.60M73.05,402.00v-1.60M73.05,232.00v1.60M81.80,402.00v-1.60M81.80,232.00v1.60M90.55,402.00v-1.60M90.55,232.00v1.60M99.30,402.00v-2.60M99.30,232.00v2.60M108.05,402.00v-1.60M108.05,232.00v1.60M116.80,402.00v-1.60M116.80,232.00v1.60M125.55,402.00v-1.60M125.55,232.00v1.60M134.30,402.00v-2.60M134.30,232.00v2.60M143.05,402.00v-1.60M143.05,232.00v1.60M151.80,402.00v-1.60M151.80,232.00v1.60M160.55,402.00v-1.60M160.55,232.00v1.60M169.30,402.00v-2.60M169.30,232.00v2.60M178.05,402.00v-1.60M178.05,232.00v1.60M186.80,402.00v-1.60M186.80,232.00v1.60M195.55,402.00v-1.60M195.55,232.00v1.60M204.30,402.00v-2.60M204.30,232.00v2.60M213.05,402.00v-1.60M213.05,232.00v1.60M221.80,402.00v-1.60M221.80,232.00v1.60M42.50,393.50h2.60M225.30,393.50h-2.60M42.50,384.55h1.60M225.30,384.55h-1.60M42.50,375.60h1.60M225.30,375.60h-1.60M42.50,366.65h1.60M225.30,366.65h-1.60M42.50,357.70h2.60M225.30,357.70h-2.60M42.50,348.75h1.60M225.30,348.75h-1.60M42.50,339.80h1.60M225.30,339.80h-1.60M42.50,330.85h1.60M225.30,330.85h-1.60M42.50,321.90h2.60M225.30,321.90h-2.60M42.50,312.95h1.60M225.30,312.95h-1.60M42.50,304.00h1.60M225.30,304.00h-1.60M42.50,295.05h1.60M225.30,295.05h-1.60M42.50,286.10h2.60M225.30,286.10h-2.60M42.50,277.15h1.60M225.30,277.15h-1.60M42.50,268.20h1.60M225.30,268.20h-1.60M42.50,259.25h1.60M225.30,259.25h-1.60M42.50,250.30h2.60M225.30,250.30h-2.60M42.50,241.35h1.60M225.30,241.35h-1.60" stroke="#000" stroke-width="1.1" fill="none"/>
<text x="0" y="417.3" class="tl" text-anchor="middle" transform="translate(62.80,0) scale(0.7,1)">−4</text>
<text x="0" y="417.3" class="tl" text-anchor="middle" transform="translate(97.80,0) scale(0.7,1)">−2</text>
<text x="0" y="417.3" class="tl" text-anchor="middle" transform="translate(134.30,0) scale(0.7,1)">0</text>
<text x="0" y="417.3" class="tl" text-anchor="middle" transform="translate(169.30,0) scale(0.7,1)">2</text>
<text x="0" y="417.3" class="tl" text-anchor="middle" transform="translate(204.30,0) scale(0.7,1)">4</text>
<text x="0" y="397.80" class="tl" text-anchor="end" transform="translate(40.70,0) scale(0.7,1)">0.0</text>
<text x="0" y="362.00" class="tl" text-anchor="end" transform="translate(40.70,0) scale(0.7,1)">0.2</text>
<text x="0" y="326.20" class="tl" text-anchor="end" transform="translate(40.70,0) scale(0.7,1)">0.4</text>
<text x="0" y="290.40" class="tl" text-anchor="end" transform="translate(40.70,0) scale(0.7,1)">0.6</text>
<text x="0" y="254.60" class="tl" text-anchor="end" transform="translate(40.70,0) scale(0.7,1)">0.8</text>
<text x="0" y="439.7" class="al" text-anchor="middle" transform="translate(134.30,0) scale(0.8,1)">x</text>
<text class="al" text-anchor="middle" style="font-size:7px;letter-spacing:0.55px" transform="translate(21.90,317.00) rotate(-90)"><tspan font-style="italic">u</tspan><tspan font-size="4.8" dy="1.6">1</tspan><tspan dy="-1.6">(x, t)</tspan></text>
<text x="74.80" y="466.00" class="cap">(d)</text>
<text x="102.10" y="466.00" class="cap" font-style="italic">β</text>
<text x="0" y="467.70" class="cap" transform="translate(117.40,0) scale(1.3,1)">=</text>
<text x="133.90" y="466.00" class="cap">0.89</text>
<g clip-path="url(#cb1)">
<polygon points="268.80,392.80 268.80,366.92 270.26,365.68 271.72,364.40 273.18,363.07 274.63,361.69 276.09,360.26 277.55,358.78 279.01,357.25 280.47,355.66 281.93,354.03 283.38,352.33 284.84,350.59 286.30,348.79 287.76,346.94 289.22,345.03 290.68,343.07 292.13,341.06 293.59,339.00 295.05,336.88 296.51,334.72 297.97,332.50 299.43,330.24 300.88,327.93 302.34,325.58 303.80,323.18 305.26,320.75 306.72,318.27 308.18,315.76 309.63,313.22 311.09,310.66 312.55,308.06 314.01,305.45 315.47,302.82 316.93,300.17 318.38,297.52 319.84,294.86 321.30,292.21 322.76,289.55 324.22,286.92 325.68,284.29 327.13,281.69 328.59,279.12 330.05,276.59 331.51,274.09 332.97,271.64 334.43,269.24 335.88,266.89 337.34,264.62 338.80,262.41 340.26,260.28 341.72,258.23 343.18,256.27 344.63,254.40 346.09,252.63 347.55,250.96 349.01,249.41 350.47,247.96 351.93,246.64 353.38,245.44 354.84,244.36 356.30,243.41 357.76,242.60 359.22,241.92 360.68,241.38 362.13,240.97 363.59,240.71 365.05,240.59 366.51,240.61 367.97,240.79 369.43,241.13 370.88,241.62 372.34,242.26 373.80,243.06 375.26,244.01 376.72,245.10 378.18,246.33 379.63,247.70 381.09,249.20 382.55,250.83 384.01,252.58 385.47,254.44 386.93,256.42 388.38,258.50 389.84,260.67 391.30,262.94 392.76,265.29 394.22,267.71 395.68,270.21 397.13,272.76 398.59,275.37 400.05,278.03 401.51,280.73 402.97,283.46 404.43,286.22 405.88,289.00 407.34,291.79 408.80,294.59 410.26,297.40 411.72,300.20 413.18,302.98 414.63,305.76 416.09,308.51 417.55,311.24 419.01,313.94 420.47,316.61 421.93,319.24 423.38,321.84 424.84,324.39 426.30,326.89 427.76,329.34 429.22,331.75 430.68,334.10 432.13,336.40 433.59,338.64 435.05,340.82 436.51,342.95 437.97,345.02 439.43,347.03 440.88,348.98 442.34,350.87 443.80,352.70 443.80,392.80" fill="#5E81B5" fill-opacity="0.2"/>
<polygon points="268.80,392.80 268.80,371.77 270.26,370.74 271.72,369.68 273.18,368.57 274.63,367.42 276.09,366.22 277.55,364.98 279.01,363.70 280.47,362.36 281.93,360.98 283.38,359.55 284.84,358.08 286.30,356.55 287.76,354.98 289.22,353.35 290.68,351.68 292.13,349.96 293.59,348.19 295.05,346.36 296.51,344.50 297.97,342.58 299.43,340.61 300.88,338.60 302.34,336.55 303.80,334.45 305.26,332.31 306.72,330.13 308.18,327.91 309.63,325.66 311.09,323.37 312.55,321.05 314.01,318.70 315.47,316.33 316.93,313.93 318.38,311.52 319.84,309.09 321.30,306.65 322.76,304.21 324.22,301.76 325.68,299.32 327.13,296.88 328.59,294.46 330.05,292.05 331.51,289.67 332.97,287.31 334.43,284.99 335.88,282.70 337.34,280.46 338.80,278.27 340.26,276.14 341.72,274.06 343.18,272.05 344.63,270.12 346.09,268.26 347.55,266.48 349.01,264.80 350.47,263.20 351.93,261.70 353.38,260.31 354.84,259.02 356.30,257.84 357.76,256.77 359.22,255.83 360.68,255.00 362.13,254.29 363.59,253.71 365.05,253.26 366.51,252.94 367.97,252.74 369.43,252.68 370.88,252.75 372.34,252.96 373.80,253.33 375.26,253.83 376.72,254.47 378.18,255.26 379.63,256.18 381.09,257.23 382.55,258.41 384.01,259.71 385.47,261.14 386.93,262.68 388.38,264.33 389.84,266.08 391.30,267.93 392.76,269.88 394.22,271.91 395.68,274.03 397.13,276.22 398.59,278.47 400.05,280.79 401.51,283.16 402.97,285.58 404.43,288.04 405.88,290.54 407.34,293.06 408.80,295.61 410.26,298.17 411.72,300.75 413.18,303.33 414.63,305.91 416.09,308.48 417.55,311.04 419.01,313.59 420.47,316.12 421.93,318.62 423.38,321.10 424.84,323.54 426.30,325.95 427.76,328.33 429.22,330.66 430.68,332.95 432.13,335.19 433.59,337.39 435.05,339.53 436.51,341.63 437.97,343.67 439.43,345.67 440.88,347.60 442.34,349.49 443.80,351.32 443.80,392.80" fill="#E19C24" fill-opacity="0.2"/>
<polygon points="268.80,392.80 268.80,376.93 270.26,376.13 271.72,375.30 273.18,374.43 274.63,373.53 276.09,372.59 277.55,371.61 279.01,370.59 280.47,369.53 281.93,368.43 283.38,367.29 284.84,366.11 286.30,364.88 287.76,363.61 289.22,362.29 290.68,360.93 292.13,359.53 293.59,358.08 295.05,356.58 296.51,355.04 297.97,353.45 299.43,351.82 300.88,350.14 302.34,348.41 303.80,346.64 305.26,344.83 306.72,342.97 308.18,341.07 309.63,339.13 311.09,337.15 312.55,335.14 314.01,333.08 315.47,330.99 316.93,328.88 318.38,326.73 319.84,324.55 321.30,322.35 322.76,320.13 324.22,317.89 325.68,315.63 327.13,313.36 328.59,311.09 330.05,308.82 331.51,306.54 332.97,304.27 334.43,302.01 335.88,299.77 337.34,297.54 338.80,295.34 340.26,293.17 341.72,291.03 343.18,288.93 344.63,286.87 346.09,284.87 347.55,282.92 349.01,281.03 350.47,279.21 351.93,277.46 353.38,275.78 354.84,274.18 356.30,272.67 357.76,271.25 359.22,269.92 360.68,268.69 362.13,267.56 363.59,266.53 365.05,265.61 366.51,264.81 367.97,264.11 369.43,263.54 370.88,263.08 372.34,262.74 373.80,262.52 375.26,262.42 376.72,262.44 378.18,262.60 379.63,262.89 381.09,263.32 382.55,263.88 384.01,264.57 385.47,265.38 386.93,266.32 388.38,267.38 389.84,268.56 391.30,269.85 392.76,271.25 394.22,272.75 395.68,274.35 397.13,276.05 398.59,277.83 400.05,279.70 401.51,281.64 402.97,283.66 404.43,285.74 405.88,287.88 407.34,290.07 408.80,292.30 410.26,294.58 411.72,296.90 413.18,299.24 414.63,301.60 416.09,303.98 417.55,306.38 419.01,308.77 420.47,311.17 421.93,313.57 423.38,315.96 424.84,318.34 426.30,320.69 427.76,323.03 429.22,325.34 430.68,327.63 432.13,329.88 433.59,332.10 435.05,334.28 436.51,336.43 437.97,338.53 439.43,340.59 440.88,342.60 442.34,344.56 443.80,346.48 443.80,392.80" fill="#8FB032" fill-opacity="0.2"/>
<polygon points="268.80,392.80 268.80,379.96 270.26,379.30 271.72,378.62 273.18,377.90 274.63,377.15 276.09,376.36 277.55,375.55 279.01,374.70 280.47,373.81 281.93,372.89 283.38,371.94 284.84,370.94 286.30,369.91 287.76,368.83 289.22,367.72 290.68,366.57 292.13,365.37 293.59,364.14 295.05,362.86 296.51,361.54 297.97,360.17 299.43,358.76 300.88,357.31 302.34,355.82 303.80,354.28 305.26,352.70 306.72,351.07 308.18,349.40 309.63,347.70 311.09,345.95 312.55,344.16 314.01,342.33 315.47,340.46 316.93,338.56 318.38,336.63 319.84,334.66 321.30,332.66 322.76,330.63 324.22,328.58 325.68,326.50 327.13,324.41 328.59,322.29 330.05,320.16 331.51,318.03 332.97,315.88 334.43,313.73 335.88,311.58 337.34,309.43 338.80,307.30 340.26,305.18 341.72,303.07 343.18,300.99 344.63,298.93 346.09,296.91 347.55,294.92 349.01,292.98 350.47,291.08 351.93,289.23 353.38,287.44 354.84,285.71 356.30,284.05 357.76,282.45 359.22,280.93 360.68,279.50 362.13,278.14 363.59,276.88 365.05,275.70 366.51,274.62 367.97,273.64 369.43,272.76 370.88,271.99 372.34,271.32 373.80,270.76 375.26,270.31 376.72,269.98 378.18,269.76 379.63,269.65 381.09,269.66 382.55,269.79 384.01,270.05 385.47,270.44 386.93,270.95 388.38,271.59 389.84,272.34 391.30,273.22 392.76,274.20 394.22,275.30 395.68,276.51 397.13,277.82 398.59,279.23 400.05,280.73 401.51,282.32 402.97,284.00 404.43,285.75 405.88,287.58 407.34,289.48 408.80,291.43 410.26,293.45 411.72,295.51 413.18,297.62 414.63,299.77 416.09,301.95 417.55,304.16 419.01,306.39 420.47,308.63 421.93,310.89 423.38,313.16 424.84,315.43 426.30,317.69 427.76,319.95 429.22,322.19 430.68,324.42 432.13,326.64 433.59,328.82 435.05,330.98 436.51,333.12 437.97,335.22 439.43,337.28 440.88,339.31 442.34,341.30 443.80,343.25 443.80,392.80" fill="#EB6235" fill-opacity="0.2"/>
<polygon points="268.80,392.80 268.80,384.15 270.26,383.69 271.72,383.21 273.18,382.70 274.63,382.17 276.09,381.62 277.55,381.04 279.01,380.43 280.47,379.80 281.93,379.13 283.38,378.44 284.84,377.72 286.30,376.96 287.76,376.18 289.22,375.36 290.68,374.51 292.13,373.62 293.59,372.70 295.05,371.74 296.51,370.74 297.97,369.71 299.43,368.64 300.88,367.53 302.34,366.38 303.80,365.19 305.26,363.95 306.72,362.68 308.18,361.37 309.63,360.01 311.09,358.61 312.55,357.17 314.01,355.69 315.47,354.17 316.93,352.61 318.38,351.00 319.84,349.36 321.30,347.67 322.76,345.95 324.22,344.19 325.68,342.40 327.13,340.57 328.59,338.71 330.05,336.81 331.51,334.89 332.97,332.94 334.43,330.96 335.88,328.96 337.34,326.95 338.80,324.91 340.26,322.87 341.72,320.81 343.18,318.74 344.63,316.68 346.09,314.61 347.55,312.55 349.01,310.49 350.47,308.45 351.93,306.43 353.38,304.43 354.84,302.45 356.30,300.51 357.76,298.60 359.22,296.73 360.68,294.90 362.13,293.13 363.59,291.41 365.05,289.75 366.51,288.15 367.97,286.62 369.43,285.17 370.88,283.79 372.34,282.49 373.80,281.27 375.26,280.15 376.72,279.11 378.18,278.17 379.63,277.33 381.09,276.59 382.55,275.95 384.01,275.42 385.47,274.99 386.93,274.67 388.38,274.47 389.84,274.37 391.30,274.38 392.76,274.51 394.22,274.77 395.68,275.15 397.13,275.65 398.59,276.26 400.05,276.99 401.51,277.84 402.97,278.79 404.43,279.85 405.88,281.01 407.34,282.28 408.80,283.64 410.26,285.08 411.72,286.62 413.18,288.23 414.63,289.92 416.09,291.68 417.55,293.51 419.01,295.39 420.47,297.33 421.93,299.32 423.38,301.35 424.84,303.42 426.30,305.51 427.76,307.64 429.22,309.78 430.68,311.95 432.13,314.12 433.59,316.30 435.05,318.48 436.51,320.66 437.97,322.83 439.43,324.99 440.88,327.13 442.34,329.26 443.80,331.36 443.80,392.80" fill="#8778B3" fill-opacity="0.2"/>
<polygon points="268.80,392.80 268.80,387.75 270.26,387.47 271.72,387.17 273.18,386.86 274.63,386.53 276.09,386.19 277.55,385.83 279.01,385.45 280.47,385.05 281.93,384.63 283.38,384.19 284.84,383.73 286.30,383.25 287.76,382.74 289.22,382.22 290.68,381.66 292.13,381.08 293.59,380.48 295.05,379.84 296.51,379.18 297.97,378.49 299.43,377.77 300.88,377.02 302.34,376.24 303.80,375.42 305.26,374.57 306.72,373.68 308.18,372.76 309.63,371.80 311.09,370.81 312.55,369.78 314.01,368.71 315.47,367.60 316.93,366.45 318.38,365.26 319.84,364.03 321.30,362.75 322.76,361.44 324.22,360.08 325.68,358.69 327.13,357.25 328.59,355.76 330.05,354.24 331.51,352.67 332.97,351.07 334.43,349.42 335.88,347.74 337.34,346.01 338.80,344.25 340.26,342.45 341.72,340.61 343.18,338.75 344.63,336.85 346.09,334.92 347.55,332.96 349.01,330.98 350.47,328.97 351.93,326.94 353.38,324.90 354.84,322.84 356.30,320.77 357.76,318.70 359.22,316.62 360.68,314.54 362.13,312.46 363.59,310.39 365.05,308.34 366.51,306.30 367.97,304.28 369.43,302.28 370.88,300.32 372.34,298.39 373.80,296.50 375.26,294.66 376.72,292.86 378.18,291.12 379.63,289.44 381.09,287.82 382.55,286.26 384.01,284.78 385.47,283.38 386.93,282.05 388.38,280.81 389.84,279.66 391.30,278.60 392.76,277.64 394.22,276.77 395.68,276.01 397.13,275.34 398.59,274.79 400.05,274.34 401.51,273.99 402.97,273.76 404.43,273.64 405.88,273.63 407.34,273.74 408.80,273.97 410.26,274.33 411.72,274.81 413.18,275.40 414.63,276.11 416.09,276.94 417.55,277.88 419.01,278.93 420.47,280.08 421.93,281.33 423.38,282.68 424.84,284.12 426.30,285.64 427.76,287.25 429.22,288.94 430.68,290.69 432.13,292.52 433.59,294.40 435.05,296.34 436.51,298.33 437.97,300.37 439.43,302.44 440.88,304.55 442.34,306.68 443.80,308.83 443.80,392.80" fill="#C56E1A" fill-opacity="0.2"/>
<polygon points="268.80,392.80 268.80,388.74 270.26,388.51 271.72,388.27 273.18,388.01 274.63,387.74 276.09,387.46 277.55,387.17 279.01,386.85 280.47,386.53 281.93,386.18 283.38,385.82 284.84,385.44 286.30,385.04 287.76,384.62 289.22,384.18 290.68,383.72 292.13,383.24 293.59,382.74 295.05,382.21 296.51,381.65 297.97,381.07 299.43,380.47 300.88,379.83 302.34,379.17 303.80,378.48 305.26,377.76 306.72,377.01 308.18,376.22 309.63,375.41 311.09,374.56 312.55,373.67 314.01,372.75 315.47,371.79 316.93,370.80 318.38,369.76 319.84,368.69 321.30,367.58 322.76,366.43 324.22,365.24 325.68,364.01 327.13,362.74 328.59,361.42 330.05,360.07 331.51,358.67 332.97,357.23 334.43,355.75 335.88,354.23 337.34,352.66 338.80,351.05 340.26,349.41 341.72,347.72 343.18,346.00 344.63,344.24 346.09,342.44 347.55,340.60 349.01,338.74 350.47,336.84 351.93,334.91 353.38,332.95 354.84,330.97 356.30,328.97 357.76,326.94 359.22,324.90 360.68,322.85 362.13,320.78 363.59,318.71 365.05,316.63 366.51,314.55 367.97,312.48 369.43,310.41 370.88,308.36 372.34,306.32 373.80,304.31 375.26,302.32 376.72,300.36 378.18,298.43 379.63,296.55 381.09,294.71 382.55,292.91 384.01,291.18 385.47,289.50 386.93,287.88 388.38,286.33 389.84,284.86 391.30,283.46 392.76,282.14 394.22,280.91 395.68,279.76 397.13,278.70 398.59,277.74 400.05,276.88 401.51,276.12 402.97,275.46 404.43,274.91 405.88,274.47 407.34,274.13 408.80,273.90 410.26,273.78 411.72,273.78 413.18,273.90 414.63,274.13 416.09,274.49 417.55,274.97 419.01,275.57 420.47,276.29 421.93,277.12 423.38,278.06 424.84,279.11 426.30,280.26 427.76,281.52 429.22,282.87 430.68,284.31 432.13,285.84 433.59,287.45 435.05,289.13 436.51,290.89 437.97,292.72 439.43,294.60 440.88,296.54 442.34,298.53 443.80,300.56 443.80,392.80" fill="#5D9EC7" fill-opacity="0.2"/>
<polygon points="268.80,392.80 268.80,390.17 270.26,390.01 271.72,389.85 273.18,389.68 274.63,389.50 276.09,389.32 277.55,389.12 279.01,388.91 280.47,388.69 281.93,388.46 283.38,388.21 284.84,387.95 286.30,387.68 287.76,387.40 289.22,387.10 290.68,386.78 292.13,386.45 293.59,386.10 295.05,385.74 296.51,385.35 297.97,384.95 299.43,384.53 300.88,384.08 302.34,383.62 303.80,383.13 305.26,382.62 306.72,382.08 308.18,381.53 309.63,380.94 311.09,380.33 312.55,379.69 314.01,379.02 315.47,378.32 316.93,377.59 318.38,376.83 319.84,376.04 321.30,375.22 322.76,374.36 324.22,373.47 325.68,372.54 327.13,371.57 328.59,370.57 330.05,369.52 331.51,368.44 332.97,367.33 334.43,366.17 335.88,364.97 337.34,363.72 338.80,362.44 340.26,361.12 341.72,359.75 343.18,358.34 344.63,356.89 346.09,355.40 347.55,353.87 349.01,352.29 350.47,350.68 351.93,349.02 353.38,347.32 354.84,345.59 356.30,343.82 357.76,342.01 359.22,340.17 360.68,338.29 362.13,336.39 363.59,334.45 365.05,332.49 366.51,330.50 367.97,328.49 369.43,326.46 370.88,324.41 372.34,322.35 373.80,320.28 375.26,318.20 376.72,316.12 378.18,314.04 379.63,311.96 381.09,309.90 382.55,307.85 384.01,305.81 385.47,303.80 386.93,301.81 388.38,299.85 389.84,297.93 391.30,296.06 392.76,294.22 394.22,292.44 395.68,290.71 397.13,289.04 398.59,287.44 400.05,285.90 401.51,284.44 402.97,283.05 404.43,281.75 405.88,280.53 407.34,279.40 408.80,278.36 410.26,277.42 411.72,276.58 413.18,275.84 414.63,275.20 416.09,274.67 417.55,274.24 419.01,273.93 420.47,273.72 421.93,273.63 423.38,273.65 424.84,273.79 426.30,274.05 427.76,274.43 429.22,274.94 430.68,275.56 432.13,276.30 433.59,277.16 435.05,278.12 436.51,279.19 437.97,280.37 439.43,281.64 440.88,283.01 442.34,284.47 443.80,286.02 443.80,392.80" fill="#FFBF00" fill-opacity="0.2"/>
<polygon points="268.80,392.80 268.80,390.80 270.26,390.68 271.72,390.56 273.18,390.43 274.63,390.29 276.09,390.14 277.55,389.99 279.01,389.83 280.47,389.66 281.93,389.48 283.38,389.29 284.84,389.09 286.30,388.88 287.76,388.66 289.22,388.42 290.68,388.18 292.13,387.92 293.59,387.64 295.05,387.36 296.51,387.06 297.97,386.74 299.43,386.40 300.88,386.05 302.34,385.69 303.80,385.30 305.26,384.89 306.72,384.47 308.18,384.02 309.63,383.56 311.09,383.07 312.55,382.55 314.01,382.02 315.47,381.45 316.93,380.87 318.38,380.25 319.84,379.61 321.30,378.94 322.76,378.24 324.22,377.51 325.68,376.74 327.13,375.95 328.59,375.12 330.05,374.26 331.51,373.37 332.97,372.43 334.43,371.47 335.88,370.46 337.34,369.42 338.80,368.34 340.26,367.21 341.72,366.05 343.18,364.85 344.63,363.61 346.09,362.33 347.55,361.00 349.01,359.64 350.47,358.23 351.93,356.78 353.38,355.29 354.84,353.76 356.30,352.19 357.76,350.57 359.22,348.92 360.68,347.23 362.13,345.50 363.59,343.73 365.05,341.93 366.51,340.10 367.97,338.23 369.43,336.33 370.88,334.41 372.34,332.45 373.80,330.48 375.26,328.48 376.72,326.47 378.18,324.43 379.63,322.39 381.09,320.34 382.55,318.28 384.01,316.22 385.47,314.16 386.93,312.11 388.38,310.07 389.84,308.04 391.30,306.03 392.76,304.05 394.22,302.09 395.68,300.16 397.13,298.27 398.59,296.43 400.05,294.63 401.51,292.88 402.97,291.19 404.43,289.55 405.88,287.99 407.34,286.49 408.80,285.06 410.26,283.72 411.72,282.45 413.18,281.27 414.63,280.18 416.09,279.19 417.55,278.29 419.01,277.48 420.47,276.78 421.93,276.18 423.38,275.69 424.84,275.31 426.30,275.03 427.76,274.86 429.22,274.80 430.68,274.86 432.13,275.03 433.59,275.33 435.05,275.75 436.51,276.29 437.97,276.95 439.43,277.71 440.88,278.60 442.34,279.58 443.80,280.68 443.80,392.80" fill="#A5609D" fill-opacity="0.2"/>
<polyline points="268.80,366.92 270.26,365.68 271.72,364.40 273.18,363.07 274.63,361.69 276.09,360.26 277.55,358.78 279.01,357.25 280.47,355.66 281.93,354.03 283.38,352.33 284.84,350.59 286.30,348.79 287.76,346.94 289.22,345.03 290.68,343.07 292.13,341.06 293.59,339.00 295.05,336.88 296.51,334.72 297.97,332.50 299.43,330.24 300.88,327.93 302.34,325.58 303.80,323.18 305.26,320.75 306.72,318.27 308.18,315.76 309.63,313.22 311.09,310.66 312.55,308.06 314.01,305.45 315.47,302.82 316.93,300.17 318.38,297.52 319.84,294.86 321.30,292.21 322.76,289.55 324.22,286.92 325.68,284.29 327.13,281.69 328.59,279.12 330.05,276.59 331.51,274.09 332.97,271.64 334.43,269.24 335.88,266.89 337.34,264.62 338.80,262.41 340.26,260.28 341.72,258.23 343.18,256.27 344.63,254.40 346.09,252.63 347.55,250.96 349.01,249.41 350.47,247.96 351.93,246.64 353.38,245.44 354.84,244.36 356.30,243.41 357.76,242.60 359.22,241.92 360.68,241.38 362.13,240.97 363.59,240.71 365.05,240.59 366.51,240.61 367.97,240.79 369.43,241.13 370.88,241.62 372.34,242.26 373.80,243.06 375.26,244.01 376.72,245.10 378.18,246.33 379.63,247.70 381.09,249.20 382.55,250.83 384.01,252.58 385.47,254.44 386.93,256.42 388.38,258.50 389.84,260.67 391.30,262.94 392.76,265.29 394.22,267.71 395.68,270.21 397.13,272.76 398.59,275.37 400.05,278.03 401.51,280.73 402.97,283.46 404.43,286.22 405.88,289.00 407.34,291.79 408.80,294.59 410.26,297.40 411.72,300.20 413.18,302.98 414.63,305.76 416.09,308.51 417.55,311.24 419.01,313.94 420.47,316.61 421.93,319.24 423.38,321.84 424.84,324.39 426.30,326.89 427.76,329.34 429.22,331.75 430.68,334.10 432.13,336.40 433.59,338.64 435.05,340.82 436.51,342.95 437.97,345.02 439.43,347.03 440.88,348.98 442.34,350.87 443.80,352.70" fill="none" stroke="#5E81B5" stroke-width="1.8" stroke-dasharray="9,9.5"/>
<polyline points="268.80,371.77 270.26,370.74 271.72,369.68 273.18,368.57 274.63,367.42 276.09,366.22 277.55,364.98 279.01,363.70 280.47,362.36 281.93,360.98 283.38,359.55 284.84,358.08 286.30,356.55 287.76,354.98 289.22,353.35 290.68,351.68 292.13,349.96 293.59,348.19 295.05,346.36 296.51,344.50 297.97,342.58 299.43,340.61 300.88,338.60 302.34,336.55 303.80,334.45 305.26,332.31 306.72,330.13 308.18,327.91 309.63,325.66 311.09,323.37 312.55,321.05 314.01,318.70 315.47,316.33 316.93,313.93 318.38,311.52 319.84,309.09 321.30,306.65 322.76,304.21 324.22,301.76 325.68,299.32 327.13,296.88 328.59,294.46 330.05,292.05 331.51,289.67 332.97,287.31 334.43,284.99 335.88,282.70 337.34,280.46 338.80,278.27 340.26,276.14 341.72,274.06 343.18,272.05 344.63,270.12 346.09,268.26 347.55,266.48 349.01,264.80 350.47,263.20 351.93,261.70 353.38,260.31 354.84,259.02 356.30,257.84 357.76,256.77 359.22,255.83 360.68,255.00 362.13,254.29 363.59,253.71 365.05,253.26 366.51,252.94 367.97,252.74 369.43,252.68 370.88,252.75 372.34,252.96 373.80,253.33 375.26,253.83 376.72,254.47 378.18,255.26 379.63,256.18 381.09,257.23 382.55,258.41 384.01,259.71 385.47,261.14 386.93,262.68 388.38,264.33 389.84,266.08 391.30,267.93 392.76,269.88 394.22,271.91 395.68,274.03 397.13,276.22 398.59,278.47 400.05,280.79 401.51,283.16 402.97,285.58 404.43,288.04 405.88,290.54 407.34,293.06 408.80,295.61 410.26,298.17 411.72,300.75 413.18,303.33 414.63,305.91 416.09,308.48 417.55,311.04 419.01,313.59 420.47,316.12 421.93,318.62 423.38,321.10 424.84,323.54 426.30,325.95 427.76,328.33 429.22,330.66 430.68,332.95 432.13,335.19 433.59,337.39 435.05,339.53 436.51,341.63 437.97,343.67 439.43,345.67 440.88,347.60 442.34,349.49 443.80,351.32" fill="none" stroke="#E19C24" stroke-width="1.3"/>
<polyline points="268.80,376.93 270.26,376.13 271.72,375.30 273.18,374.43 274.63,373.53 276.09,372.59 277.55,371.61 279.01,370.59 280.47,369.53 281.93,368.43 283.38,367.29 284.84,366.11 286.30,364.88 287.76,363.61 289.22,362.29 290.68,360.93 292.13,359.53 293.59,358.08 295.05,356.58 296.51,355.04 297.97,353.45 299.43,351.82 300.88,350.14 302.34,348.41 303.80,346.64 305.26,344.83 306.72,342.97 308.18,341.07 309.63,339.13 311.09,337.15 312.55,335.14 314.01,333.08 315.47,330.99 316.93,328.88 318.38,326.73 319.84,324.55 321.30,322.35 322.76,320.13 324.22,317.89 325.68,315.63 327.13,313.36 328.59,311.09 330.05,308.82 331.51,306.54 332.97,304.27 334.43,302.01 335.88,299.77 337.34,297.54 338.80,295.34 340.26,293.17 341.72,291.03 343.18,288.93 344.63,286.87 346.09,284.87 347.55,282.92 349.01,281.03 350.47,279.21 351.93,277.46 353.38,275.78 354.84,274.18 356.30,272.67 357.76,271.25 359.22,269.92 360.68,268.69 362.13,267.56 363.59,266.53 365.05,265.61 366.51,264.81 367.97,264.11 369.43,263.54 370.88,263.08 372.34,262.74 373.80,262.52 375.26,262.42 376.72,262.44 378.18,262.60 379.63,262.89 381.09,263.32 382.55,263.88 384.01,264.57 385.47,265.38 386.93,266.32 388.38,267.38 389.84,268.56 391.30,269.85 392.76,271.25 394.22,272.75 395.68,274.35 397.13,276.05 398.59,277.83 400.05,279.70 401.51,281.64 402.97,283.66 404.43,285.74 405.88,287.88 407.34,290.07 408.80,292.30 410.26,294.58 411.72,296.90 413.18,299.24 414.63,301.60 416.09,303.98 417.55,306.38 419.01,308.77 420.47,311.17 421.93,313.57 423.38,315.96 424.84,318.34 426.30,320.69 427.76,323.03 429.22,325.34 430.68,327.63 432.13,329.88 433.59,332.10 435.05,334.28 436.51,336.43 437.97,338.53 439.43,340.59 440.88,342.60 442.34,344.56 443.80,346.48" fill="none" stroke="#8FB032" stroke-width="1.8" stroke-dasharray="9,9.5"/>
<polyline points="268.80,379.96 270.26,379.30 271.72,378.62 273.18,377.90 274.63,377.15 276.09,376.36 277.55,375.55 279.01,374.70 280.47,373.81 281.93,372.89 283.38,371.94 284.84,370.94 286.30,369.91 287.76,368.83 289.22,367.72 290.68,366.57 292.13,365.37 293.59,364.14 295.05,362.86 296.51,361.54 297.97,360.17 299.43,358.76 300.88,357.31 302.34,355.82 303.80,354.28 305.26,352.70 306.72,351.07 308.18,349.40 309.63,347.70 311.09,345.95 312.55,344.16 314.01,342.33 315.47,340.46 316.93,338.56 318.38,336.63 319.84,334.66 321.30,332.66 322.76,330.63 324.22,328.58 325.68,326.50 327.13,324.41 328.59,322.29 330.05,320.16 331.51,318.03 332.97,315.88 334.43,313.73 335.88,311.58 337.34,309.43 338.80,307.30 340.26,305.18 341.72,303.07 343.18,300.99 344.63,298.93 346.09,296.91 347.55,294.92 349.01,292.98 350.47,291.08 351.93,289.23 353.38,287.44 354.84,285.71 356.30,284.05 357.76,282.45 359.22,280.93 360.68,279.50 362.13,278.14 363.59,276.88 365.05,275.70 366.51,274.62 367.97,273.64 369.43,272.76 370.88,271.99 372.34,271.32 373.80,270.76 375.26,270.31 376.72,269.98 378.18,269.76 379.63,269.65 381.09,269.66 382.55,269.79 384.01,270.05 385.47,270.44 386.93,270.95 388.38,271.59 389.84,272.34 391.30,273.22 392.76,274.20 394.22,275.30 395.68,276.51 397.13,277.82 398.59,279.23 400.05,280.73 401.51,282.32 402.97,284.00 404.43,285.75 405.88,287.58 407.34,289.48 408.80,291.43 410.26,293.45 411.72,295.51 413.18,297.62 414.63,299.77 416.09,301.95 417.55,304.16 419.01,306.39 420.47,308.63 421.93,310.89 423.38,313.16 424.84,315.43 426.30,317.69 427.76,319.95 429.22,322.19 430.68,324.42 432.13,326.64 433.59,328.82 435.05,330.98 436.51,333.12 437.97,335.22 439.43,337.28 440.88,339.31 442.34,341.30 443.80,343.25" fill="none" stroke="#EB6235" stroke-width="1.3"/>
<polyline points="268.80,384.15 270.26,383.69 271.72,383.21 273.18,382.70 274.63,382.17 276.09,381.62 277.55,381.04 279.01,380.43 280.47,379.80 281.93,379.13 283.38,378.44 284.84,377.72 286.30,376.96 287.76,376.18 289.22,375.36 290.68,374.51 292.13,373.62 293.59,372.70 295.05,371.74 296.51,370.74 297.97,369.71 299.43,368.64 300.88,367.53 302.34,366.38 303.80,365.19 305.26,363.95 306.72,362.68 308.18,361.37 309.63,360.01 311.09,358.61 312.55,357.17 314.01,355.69 315.47,354.17 316.93,352.61 318.38,351.00 319.84,349.36 321.30,347.67 322.76,345.95 324.22,344.19 325.68,342.40 327.13,340.57 328.59,338.71 330.05,336.81 331.51,334.89 332.97,332.94 334.43,330.96 335.88,328.96 337.34,326.95 338.80,324.91 340.26,322.87 341.72,320.81 343.18,318.74 344.63,316.68 346.09,314.61 347.55,312.55 349.01,310.49 350.47,308.45 351.93,306.43 353.38,304.43 354.84,302.45 356.30,300.51 357.76,298.60 359.22,296.73 360.68,294.90 362.13,293.13 363.59,291.41 365.05,289.75 366.51,288.15 367.97,286.62 369.43,285.17 370.88,283.79 372.34,282.49 373.80,281.27 375.26,280.15 376.72,279.11 378.18,278.17 379.63,277.33 381.09,276.59 382.55,275.95 384.01,275.42 385.47,274.99 386.93,274.67 388.38,274.47 389.84,274.37 391.30,274.38 392.76,274.51 394.22,274.77 395.68,275.15 397.13,275.65 398.59,276.26 400.05,276.99 401.51,277.84 402.97,278.79 404.43,279.85 405.88,281.01 407.34,282.28 408.80,283.64 410.26,285.08 411.72,286.62 413.18,288.23 414.63,289.92 416.09,291.68 417.55,293.51 419.01,295.39 420.47,297.33 421.93,299.32 423.38,301.35 424.84,303.42 426.30,305.51 427.76,307.64 429.22,309.78 430.68,311.95 432.13,314.12 433.59,316.30 435.05,318.48 436.51,320.66 437.97,322.83 439.43,324.99 440.88,327.13 442.34,329.26 443.80,331.36" fill="none" stroke="#8778B3" stroke-width="1.8" stroke-dasharray="9,9.5"/>
<polyline points="268.80,387.75 270.26,387.47 271.72,387.17 273.18,386.86 274.63,386.53 276.09,386.19 277.55,385.83 279.01,385.45 280.47,385.05 281.93,384.63 283.38,384.19 284.84,383.73 286.30,383.25 287.76,382.74 289.22,382.22 290.68,381.66 292.13,381.08 293.59,380.48 295.05,379.84 296.51,379.18 297.97,378.49 299.43,377.77 300.88,377.02 302.34,376.24 303.80,375.42 305.26,374.57 306.72,373.68 308.18,372.76 309.63,371.80 311.09,370.81 312.55,369.78 314.01,368.71 315.47,367.60 316.93,366.45 318.38,365.26 319.84,364.03 321.30,362.75 322.76,361.44 324.22,360.08 325.68,358.69 327.13,357.25 328.59,355.76 330.05,354.24 331.51,352.67 332.97,351.07 334.43,349.42 335.88,347.74 337.34,346.01 338.80,344.25 340.26,342.45 341.72,340.61 343.18,338.75 344.63,336.85 346.09,334.92 347.55,332.96 349.01,330.98 350.47,328.97 351.93,326.94 353.38,324.90 354.84,322.84 356.30,320.77 357.76,318.70 359.22,316.62 360.68,314.54 362.13,312.46 363.59,310.39 365.05,308.34 366.51,306.30 367.97,304.28 369.43,302.28 370.88,300.32 372.34,298.39 373.80,296.50 375.26,294.66 376.72,292.86 378.18,291.12 379.63,289.44 381.09,287.82 382.55,286.26 384.01,284.78 385.47,283.38 386.93,282.05 388.38,280.81 389.84,279.66 391.30,278.60 392.76,277.64 394.22,276.77 395.68,276.01 397.13,275.34 398.59,274.79 400.05,274.34 401.51,273.99 402.97,273.76 404.43,273.64 405.88,273.63 407.34,273.74 408.80,273.97 410.26,274.33 411.72,274.81 413.18,275.40 414.63,276.11 416.09,276.94 417.55,277.88 419.01,278.93 420.47,280.08 421.93,281.33 423.38,282.68 424.84,284.12 426.30,285.64 427.76,287.25 429.22,288.94 430.68,290.69 432.13,292.52 433.59,294.40 435.05,296.34 436.51,298.33 437.97,300.37 439.43,302.44 440.88,304.55 442.34,306.68 443.80,308.83" fill="none" stroke="#C56E1A" stroke-width="1.3"/>
<polyline points="268.80,388.74 270.26,388.51 271.72,388.27 273.18,388.01 274.63,387.74 276.09,387.46 277.55,387.17 279.01,386.85 280.47,386.53 281.93,386.18 283.38,385.82 284.84,385.44 286.30,385.04 287.76,384.62 289.22,384.18 290.68,383.72 292.13,383.24 293.59,382.74 295.05,382.21 296.51,381.65 297.97,381.07 299.43,380.47 300.88,379.83 302.34,379.17 303.80,378.48 305.26,377.76 306.72,377.01 308.18,376.22 309.63,375.41 311.09,374.56 312.55,373.67 314.01,372.75 315.47,371.79 316.93,370.80 318.38,369.76 319.84,368.69 321.30,367.58 322.76,366.43 324.22,365.24 325.68,364.01 327.13,362.74 328.59,361.42 330.05,360.07 331.51,358.67 332.97,357.23 334.43,355.75 335.88,354.23 337.34,352.66 338.80,351.05 340.26,349.41 341.72,347.72 343.18,346.00 344.63,344.24 346.09,342.44 347.55,340.60 349.01,338.74 350.47,336.84 351.93,334.91 353.38,332.95 354.84,330.97 356.30,328.97 357.76,326.94 359.22,324.90 360.68,322.85 362.13,320.78 363.59,318.71 365.05,316.63 366.51,314.55 367.97,312.48 369.43,310.41 370.88,308.36 372.34,306.32 373.80,304.31 375.26,302.32 376.72,300.36 378.18,298.43 379.63,296.55 381.09,294.71 382.55,292.91 384.01,291.18 385.47,289.50 386.93,287.88 388.38,286.33 389.84,284.86 391.30,283.46 392.76,282.14 394.22,280.91 395.68,279.76 397.13,278.70 398.59,277.74 400.05,276.88 401.51,276.12 402.97,275.46 404.43,274.91 405.88,274.47 407.34,274.13 408.80,273.90 410.26,273.78 411.72,273.78 413.18,273.90 414.63,274.13 416.09,274.49 417.55,274.97 419.01,275.57 420.47,276.29 421.93,277.12 423.38,278.06 424.84,279.11 426.30,280.26 427.76,281.52 429.22,282.87 430.68,284.31 432.13,285.84 433.59,287.45 435.05,289.13 436.51,290.89 437.97,292.72 439.43,294.60 440.88,296.54 442.34,298.53 443.80,300.56" fill="none" stroke="#5D9EC7" stroke-width="1.8" stroke-dasharray="9,9.5"/>
<polyline points="268.80,390.17 270.26,390.01 271.72,389.85 273.18,389.68 274.63,389.50 276.09,389.32 277.55,389.12 279.01,388.91 280.47,388.69 281.93,388.46 283.38,388.21 284.84,387.95 286.30,387.68 287.76,387.40 289.22,387.10 290.68,386.78 292.13,386.45 293.59,386.10 295.05,385.74 296.51,385.35 297.97,384.95 299.43,384.53 300.88,384.08 302.34,383.62 303.80,383.13 305.26,382.62 306.72,382.08 308.18,381.53 309.63,380.94 311.09,380.33 312.55,379.69 314.01,379.02 315.47,378.32 316.93,377.59 318.38,376.83 319.84,376.04 321.30,375.22 322.76,374.36 324.22,373.47 325.68,372.54 327.13,371.57 328.59,370.57 330.05,369.52 331.51,368.44 332.97,367.33 334.43,366.17 335.88,364.97 337.34,363.72 338.80,362.44 340.26,361.12 341.72,359.75 343.18,358.34 344.63,356.89 346.09,355.40 347.55,353.87 349.01,352.29 350.47,350.68 351.93,349.02 353.38,347.32 354.84,345.59 356.30,343.82 357.76,342.01 359.22,340.17 360.68,338.29 362.13,336.39 363.59,334.45 365.05,332.49 366.51,330.50 367.97,328.49 369.43,326.46 370.88,324.41 372.34,322.35 373.80,320.28 375.26,318.20 376.72,316.12 378.18,314.04 379.63,311.96 381.09,309.90 382.55,307.85 384.01,305.81 385.47,303.80 386.93,301.81 388.38,299.85 389.84,297.93 391.30,296.06 392.76,294.22 394.22,292.44 395.68,290.71 397.13,289.04 398.59,287.44 400.05,285.90 401.51,284.44 402.97,283.05 404.43,281.75 405.88,280.53 407.34,279.40 408.80,278.36 410.26,277.42 411.72,276.58 413.18,275.84 414.63,275.20 416.09,274.67 417.55,274.24 419.01,273.93 420.47,273.72 421.93,273.63 423.38,273.65 424.84,273.79 426.30,274.05 427.76,274.43 429.22,274.94 430.68,275.56 432.13,276.30 433.59,277.16 435.05,278.12 436.51,279.19 437.97,280.37 439.43,281.64 440.88,283.01 442.34,284.47 443.80,286.02" fill="none" stroke="#FFBF00" stroke-width="1.3"/>
<polyline points="268.80,390.80 270.26,390.68 271.72,390.56 273.18,390.43 274.63,390.29 276.09,390.14 277.55,389.99 279.01,389.83 280.47,389.66 281.93,389.48 283.38,389.29 284.84,389.09 286.30,388.88 287.76,388.66 289.22,388.42 290.68,388.18 292.13,387.92 293.59,387.64 295.05,387.36 296.51,387.06 297.97,386.74 299.43,386.40 300.88,386.05 302.34,385.69 303.80,385.30 305.26,384.89 306.72,384.47 308.18,384.02 309.63,383.56 311.09,383.07 312.55,382.55 314.01,382.02 315.47,381.45 316.93,380.87 318.38,380.25 319.84,379.61 321.30,378.94 322.76,378.24 324.22,377.51 325.68,376.74 327.13,375.95 328.59,375.12 330.05,374.26 331.51,373.37 332.97,372.43 334.43,371.47 335.88,370.46 337.34,369.42 338.80,368.34 340.26,367.21 341.72,366.05 343.18,364.85 344.63,363.61 346.09,362.33 347.55,361.00 349.01,359.64 350.47,358.23 351.93,356.78 353.38,355.29 354.84,353.76 356.30,352.19 357.76,350.57 359.22,348.92 360.68,347.23 362.13,345.50 363.59,343.73 365.05,341.93 366.51,340.10 367.97,338.23 369.43,336.33 370.88,334.41 372.34,332.45 373.80,330.48 375.26,328.48 376.72,326.47 378.18,324.43 379.63,322.39 381.09,320.34 382.55,318.28 384.01,316.22 385.47,314.16 386.93,312.11 388.38,310.07 389.84,308.04 391.30,306.03 392.76,304.05 394.22,302.09 395.68,300.16 397.13,298.27 398.59,296.43 400.05,294.63 401.51,292.88 402.97,291.19 404.43,289.55 405.88,287.99 407.34,286.49 408.80,285.06 410.26,283.72 411.72,282.45 413.18,281.27 414.63,280.18 416.09,279.19 417.55,278.29 419.01,277.48 420.47,276.78 421.93,276.18 423.38,275.69 424.84,275.31 426.30,275.03 427.76,274.86 429.22,274.80 430.68,274.86 432.13,275.03 433.59,275.33 435.05,275.75 436.51,276.29 437.97,276.95 439.43,277.71 440.88,278.60 442.34,279.58 443.80,280.68" fill="none" stroke="#A5609D" stroke-width="1.8" stroke-dasharray="9,9.5"/>
</g>
<rect x="265.50" y="232.00" width="181.80" height="170.00" fill="none" stroke="#000" stroke-width="1.6"/>
<path d="M268.80,402.00v-1.60M268.80,232.00v1.60M277.55,402.00v-1.60M277.55,232.00v1.60M286.30,402.00v-2.60M286.30,232.00v2.60M295.05,402.00v-1.60M295.05,232.00v1.60M303.80,402.00v-1.60M303.80,232.00v1.60M312.55,402.00v-1.60M312.55,232.00v1.60M321.30,402.00v-2.60M321.30,232.00v2.60M330.05,402.00v-1.60M330.05,232.00v1.60M338.80,402.00v-1.60M338.80,232.00v1.60M347.55,402.00v-1.60M347.55,232.00v1.60M356.30,402.00v-2.60M356.30,232.00v2.60M365.05,402.00v-1.60M365.05,232.00v1.60M373.80,402.00v-1.60M373.80,232.00v1.60M382.55,402.00v-1.60M382.55,232.00v1.60M391.30,402.00v-2.60M391.30,232.00v2.60M400.05,402.00v-1.60M400.05,232.00v1.60M408.80,402.00v-1.60M408.80,232.00v1.60M417.55,402.00v-1.60M417.55,232.00v1.60M426.30,402.00v-2.60M426.30,232.00v2.60M435.05,402.00v-1.60M435.05,232.00v1.60M443.80,402.00v-1.60M443.80,232.00v1.60M265.50,392.80h2.60M447.30,392.80h-2.60M265.50,385.43h1.60M447.30,385.43h-1.60M265.50,378.05h1.60M447.30,378.05h-1.60M265.50,370.68h1.60M447.30,370.68h-1.60M265.50,363.30h2.60M447.30,363.30h-2.60M265.50,355.93h1.60M447.30,355.93h-1.60M265.50,348.55h1.60M447.30,348.55h-1.60M265.50,341.18h1.60M447.30,341.18h-1.60M265.50,333.80h2.60M447.30,333.80h-2.60M265.50,326.43h1.60M447.30,326.43h-1.60M265.50,319.05h1.60M447.30,319.05h-1.60M265.50,311.68h1.60M447.30,311.68h-1.60M265.50,304.30h2.60M447.30,304.30h-2.60M265.50,296.93h1.60M447.30,296.93h-1.60M265.50,289.55h1.60M447.30,289.55h-1.60M265.50,282.18h1.60M447.30,282.18h-1.60M265.50,274.80h2.60M447.30,274.80h-2.60M265.50,267.43h1.60M447.30,267.43h-1.60M265.50,260.05h1.60M447.30,260.05h-1.60M265.50,252.68h1.60M447.30,252.68h-1.60M265.50,245.30h2.60M447.30,245.30h-2.60M265.50,237.93h1.60M447.30,237.93h-1.60" stroke="#000" stroke-width="1.1" fill="none"/>
<text x="0" y="417.3" class="tl" text-anchor="middle" transform="translate(284.80,0) scale(0.7,1)">−4</text>
<text x="0" y="417.3" class="tl" text-anchor="middle" transform="translate(319.80,0) scale(0.7,1)">−2</text>
<text x="0" y="417.3" class="tl" text-anchor="middle" transform="translate(356.30,0) scale(0.7,1)">0</text>
<text x="0" y="417.3" class="tl" text-anchor="middle" transform="translate(391.30,0) scale(0.7,1)">2</text>
<text x="0" y="417.3" class="tl" text-anchor="middle" transform="translate(426.30,0) scale(0.7,1)">4</text>
<text x="0" y="397.10" class="tl" text-anchor="end" transform="translate(263.70,0) scale(0.7,1)">0.0</text>
<text x="0" y="367.60" class="tl" text-anchor="end" transform="translate(263.70,0) scale(0.7,1)">0.2</text>
<text x="0" y="338.10" class="tl" text-anchor="end" transform="translate(263.70,0) scale(0.7,1)">0.4</text>
<text x="0" y="308.60" class="tl" text-anchor="end" transform="translate(263.70,0) scale(0.7,1)">0.6</text>
<text x="0" y="279.10" class="tl" text-anchor="end" transform="translate(263.70,0) scale(0.7,1)">0.8</text>
<text x="0" y="249.60" class="tl" text-anchor="end" transform="translate(263.70,0) scale(0.7,1)">1.0</text>
<text x="0" y="439.7" class="al" text-anchor="middle" transform="translate(356.30,0) scale(0.8,1)">x</text>
<text class="al" text-anchor="middle" style="font-size:7px;letter-spacing:0.55px" transform="translate(244.90,317.00) rotate(-90)"><tspan font-style="italic">u</tspan><tspan font-size="4.8" dy="1.6">1</tspan><tspan dy="-1.6">(x, t)</tspan></text>
<text x="302.40" y="466.00" class="cap">(e)</text>
<text x="328.10" y="466.00" class="cap" font-style="italic">β</text>
<text x="0" y="467.70" class="cap" transform="translate(342.20,0) scale(1.3,1)">=</text>
<text x="359.40" y="466.00" class="cap">0.7</text>
<g clip-path="url(#cb2)">
<polygon points="491.20,394.70 491.20,385.22 492.66,384.72 494.12,384.20 495.58,383.65 497.03,383.08 498.49,382.48 499.95,381.85 501.41,381.19 502.87,380.50 504.33,379.79 505.78,379.04 507.24,378.26 508.70,377.44 510.16,376.59 511.62,375.70 513.08,374.77 514.53,373.81 515.99,372.81 517.45,371.76 518.91,370.68 520.37,369.55 521.83,368.38 523.28,367.17 524.74,365.90 526.20,364.60 527.66,363.24 529.12,361.84 530.58,360.39 532.03,358.89 533.49,357.34 534.95,355.75 536.41,354.10 537.87,352.40 539.33,350.65 540.78,348.85 542.24,347.00 543.70,345.09 545.16,343.14 546.62,341.14 548.08,339.09 549.53,337.00 550.99,334.85 552.45,332.66 553.91,330.43 555.37,328.16 556.83,325.84 558.28,323.49 559.74,321.10 561.20,318.67 562.66,316.22 564.12,313.74 565.58,311.23 567.03,308.70 568.49,306.16 569.95,303.60 571.41,301.03 572.87,298.45 574.33,295.87 575.78,293.30 577.24,290.73 578.70,288.17 580.16,285.63 581.62,283.12 583.08,280.63 584.53,278.18 585.99,275.77 587.45,273.40 588.91,271.08 590.37,268.81 591.83,266.61 593.28,264.48 594.74,262.41 596.20,260.43 597.66,258.52 599.12,256.71 600.58,254.99 602.03,253.36 603.49,251.84 604.95,250.43 606.41,249.12 607.87,247.94 609.33,246.86 610.78,245.92 612.24,245.09 613.70,244.39 615.16,243.82 616.62,243.38 618.08,243.08 619.53,242.90 620.99,242.86 622.45,242.96 623.91,243.20 625.37,243.58 626.83,244.09 628.28,244.74 629.74,245.52 631.20,246.43 632.66,247.48 634.12,248.64 635.58,249.93 637.03,251.34 638.49,252.86 639.95,254.48 641.41,256.22 642.87,258.05 644.33,259.97 645.78,261.98 647.24,264.08 648.70,266.25 650.16,268.49 651.62,270.80 653.08,273.16 654.53,275.58 655.99,278.04 657.45,280.55 658.91,283.09 660.37,285.66 661.83,288.26 663.28,290.87 664.74,293.50 666.20,296.13 666.20,394.70" fill="#5E81B5" fill-opacity="0.2"/>
<polygon points="491.20,394.70 491.20,384.53 492.66,384.00 494.12,383.44 495.58,382.86 497.03,382.26 498.49,381.62 499.95,380.96 501.41,380.26 502.87,379.54 504.33,378.78 505.78,377.99 507.24,377.17 508.70,376.31 510.16,375.42 511.62,374.49 513.08,373.52 514.53,372.51 515.99,371.46 517.45,370.37 518.91,369.24 520.37,368.06 521.83,366.85 523.28,365.58 524.74,364.28 526.20,362.92 527.66,361.52 529.12,360.07 530.58,358.58 532.03,357.04 533.49,355.44 534.95,353.80 536.41,352.12 537.87,350.38 539.33,348.59 540.78,346.76 542.24,344.88 543.70,342.95 545.16,340.97 546.62,338.95 548.08,336.89 549.53,334.78 550.99,332.63 552.45,330.43 553.91,328.20 555.37,325.94 556.83,323.64 558.28,321.31 559.74,318.94 561.20,316.56 562.66,314.14 564.12,311.71 565.58,309.27 567.03,306.80 568.49,304.33 569.95,301.86 571.41,299.38 572.87,296.91 574.33,294.45 575.78,291.99 577.24,289.56 578.70,287.15 580.16,284.77 581.62,282.41 583.08,280.10 584.53,277.83 585.99,275.61 587.45,273.45 588.91,271.34 590.37,269.30 591.83,267.33 593.28,265.44 594.74,263.62 596.20,261.89 597.66,260.26 599.12,258.71 600.58,257.27 602.03,255.92 603.49,254.69 604.95,253.57 606.41,252.56 607.87,251.66 609.33,250.89 610.78,250.24 612.24,249.71 613.70,249.31 615.16,249.04 616.62,248.89 618.08,248.87 619.53,248.99 620.99,249.24 622.45,249.62 623.91,250.13 625.37,250.78 626.83,251.55 628.28,252.45 629.74,253.47 631.20,254.61 632.66,255.86 634.12,257.23 635.58,258.71 637.03,260.29 638.49,261.97 639.95,263.74 641.41,265.60 642.87,267.55 644.33,269.57 645.78,271.67 647.24,273.83 648.70,276.05 650.16,278.33 651.62,280.67 653.08,283.04 654.53,285.45 655.99,287.90 657.45,290.37 658.91,292.87 660.37,295.38 661.83,297.90 663.28,300.43 664.74,302.97 666.20,305.49 666.20,394.70" fill="#E19C24" fill-opacity="0.2"/>
<polygon points="491.20,394.70 491.20,384.51 492.66,383.98 494.12,383.43 495.58,382.85 497.03,382.24 498.49,381.61 499.95,380.95 501.41,380.26 502.87,379.54 504.33,378.78 505.78,378.00 507.24,377.18 508.70,376.33 510.16,375.44 511.62,374.52 513.08,373.56 514.53,372.56 515.99,371.52 517.45,370.44 518.91,369.32 520.37,368.16 521.83,366.96 523.28,365.71 524.74,364.42 526.20,363.09 527.66,361.71 529.12,360.28 530.58,358.81 532.03,357.29 533.49,355.73 534.95,354.12 536.41,352.46 537.87,350.76 539.33,349.01 540.78,347.22 542.24,345.38 543.70,343.49 545.16,341.57 546.62,339.60 548.08,337.58 549.53,335.53 550.99,333.44 552.45,331.32 553.91,329.15 555.37,326.96 556.83,324.74 558.28,322.48 559.74,320.20 561.20,317.90 562.66,315.58 564.12,313.25 565.58,310.90 567.03,308.54 568.49,306.18 569.95,303.81 571.41,301.45 572.87,299.10 574.33,296.76 575.78,294.44 577.24,292.13 578.70,289.86 580.16,287.61 581.62,285.40 583.08,283.24 584.53,281.12 585.99,279.05 587.45,277.04 588.91,275.09 590.37,273.20 591.83,271.39 593.28,269.66 594.74,268.00 596.20,266.43 597.66,264.96 599.12,263.57 600.58,262.29 602.03,261.11 603.49,260.03 604.95,259.06 606.41,258.20 607.87,257.46 609.33,256.84 610.78,256.33 612.24,255.94 613.70,255.67 615.16,255.53 616.62,255.51 618.08,255.61 619.53,255.85 620.99,256.21 622.45,256.69 623.91,257.30 625.37,258.03 626.83,258.88 628.28,259.85 629.74,260.94 631.20,262.13 632.66,263.43 634.12,264.84 635.58,266.34 637.03,267.94 638.49,269.63 639.95,271.40 641.41,273.26 642.87,275.19 644.33,277.18 645.78,279.25 647.24,281.37 648.70,283.54 650.16,285.76 651.62,288.03 653.08,290.33 654.53,292.66 655.99,295.02 657.45,297.41 658.91,299.80 660.37,302.21 661.83,304.63 663.28,307.04 664.74,309.46 666.20,311.86 666.20,394.70" fill="#8FB032" fill-opacity="0.2"/>
<polygon points="491.20,394.70 491.20,384.22 492.66,383.69 494.12,383.12 495.58,382.53 497.03,381.91 498.49,381.27 499.95,380.60 501.41,379.89 502.87,379.16 504.33,378.40 505.78,377.60 507.24,376.77 508.70,375.90 510.16,375.00 511.62,374.07 513.08,373.10 514.53,372.09 515.99,371.04 517.45,369.95 518.91,368.82 520.37,367.65 521.83,366.44 523.28,365.18 524.74,363.89 526.20,362.55 527.66,361.16 529.12,359.73 530.58,358.26 532.03,356.74 533.49,355.18 534.95,353.57 536.41,351.92 537.87,350.23 539.33,348.49 540.78,346.71 542.24,344.88 543.70,343.02 545.16,341.11 546.62,339.16 548.08,337.18 549.53,335.16 550.99,333.10 552.45,331.01 553.91,328.89 555.37,326.74 556.83,324.57 558.28,322.37 559.74,320.15 561.20,317.92 562.66,315.67 564.12,313.41 565.58,311.14 567.03,308.87 568.49,306.59 569.95,304.33 571.41,302.07 572.87,299.82 574.33,297.60 575.78,295.39 577.24,293.21 578.70,291.06 580.16,288.95 581.62,286.88 583.08,284.86 584.53,282.89 585.99,280.97 587.45,279.12 588.91,277.33 590.37,275.61 591.83,273.96 593.28,272.40 594.74,270.92 596.20,269.53 597.66,268.23 599.12,267.02 600.58,265.92 602.03,264.92 603.49,264.02 604.95,263.23 606.41,262.55 607.87,261.99 609.33,261.54 610.78,261.20 612.24,260.98 613.70,260.88 615.16,260.90 616.62,261.04 618.08,261.30 619.53,261.69 620.99,262.19 622.45,262.82 623.91,263.56 625.37,264.41 626.83,265.38 628.28,266.46 629.74,267.64 631.20,268.92 632.66,270.30 634.12,271.78 635.58,273.34 637.03,274.99 638.49,276.72 639.95,278.53 641.41,280.41 642.87,282.35 644.33,284.35 645.78,286.40 647.24,288.51 648.70,290.66 650.16,292.85 651.62,295.07 653.08,297.33 654.53,299.60 655.99,301.90 657.45,304.21 658.91,306.52 660.37,308.85 661.83,311.17 663.28,313.49 664.74,315.80 666.20,318.10 666.20,394.70" fill="#EB6235" fill-opacity="0.2"/>
<polygon points="491.20,394.70 491.20,384.27 492.66,383.73 494.12,383.17 495.58,382.59 497.03,381.98 498.49,381.34 499.95,380.67 501.41,379.98 502.87,379.25 504.33,378.50 505.78,377.71 507.24,376.89 508.70,376.04 510.16,375.15 511.62,374.23 513.08,373.27 514.53,372.28 515.99,371.25 517.45,370.18 518.91,369.07 520.37,367.92 521.83,366.73 523.28,365.50 524.74,364.23 526.20,362.92 527.66,361.56 529.12,360.17 530.58,358.73 532.03,357.25 533.49,355.72 534.95,354.16 536.41,352.55 537.87,350.90 539.33,349.21 540.78,347.48 542.24,345.71 543.70,343.90 545.16,342.06 546.62,340.17 548.08,338.26 549.53,336.31 550.99,334.33 552.45,332.31 553.91,330.28 555.37,328.21 556.83,326.13 558.28,324.02 559.74,321.90 561.20,319.77 562.66,317.62 564.12,315.47 565.58,313.31 567.03,311.15 568.49,309.00 569.95,306.86 571.41,304.72 572.87,302.61 574.33,300.51 575.78,298.44 577.24,296.40 578.70,294.40 580.16,292.43 581.62,290.51 583.08,288.64 584.53,286.82 585.99,285.05 587.45,283.35 588.91,281.72 590.37,280.15 591.83,278.67 593.28,277.26 594.74,275.93 596.20,274.70 597.66,273.55 599.12,272.50 600.58,271.54 602.03,270.69 603.49,269.93 604.95,269.29 606.41,268.74 607.87,268.31 609.33,267.99 610.78,267.78 612.24,267.68 613.70,267.69 615.16,267.82 616.62,268.06 618.08,268.42 619.53,268.90 620.99,269.49 622.45,270.18 623.91,270.99 625.37,271.91 626.83,272.92 628.28,274.04 629.74,275.26 631.20,276.56 632.66,277.96 634.12,279.44 635.58,281.01 637.03,282.65 638.49,284.36 639.95,286.14 641.41,287.98 642.87,289.87 644.33,291.82 645.78,293.82 647.24,295.86 648.70,297.94 650.16,300.05 651.62,302.18 653.08,304.34 654.53,306.52 655.99,308.71 657.45,310.91 658.91,313.12 660.37,315.32 661.83,317.52 663.28,319.72 664.74,321.90 666.20,324.07 666.20,394.70" fill="#8778B3" fill-opacity="0.2"/>
<polygon points="491.20,394.70 491.20,388.71 492.66,388.39 494.12,388.05 495.58,387.69 497.03,387.32 498.49,386.93 499.95,386.52 501.41,386.09 502.87,385.64 504.33,385.17 505.78,384.68 507.24,384.16 508.70,383.62 510.16,383.06 511.62,382.47 513.08,381.85 514.53,381.21 515.99,380.54 517.45,379.83 518.91,379.10 520.37,378.34 521.83,377.55 523.28,376.72 524.74,375.86 526.20,374.97 527.66,374.04 529.12,373.08 530.58,372.07 532.03,371.04 533.49,369.96 534.95,368.84 536.41,367.68 537.87,366.49 539.33,365.25 540.78,363.97 542.24,362.65 543.70,361.29 545.16,359.88 546.62,358.44 548.08,356.95 549.53,355.41 550.99,353.84 552.45,352.22 553.91,350.57 555.37,348.87 556.83,347.13 558.28,345.35 559.74,343.54 561.20,341.68 562.66,339.79 564.12,337.87 565.58,335.91 567.03,333.93 568.49,331.91 569.95,329.87 571.41,327.80 572.87,325.71 574.33,323.60 575.78,321.48 577.24,319.34 578.70,317.19 580.16,315.04 581.62,312.88 583.08,310.72 584.53,308.57 585.99,306.43 587.45,304.30 588.91,302.19 590.37,300.10 591.83,298.03 593.28,296.00 594.74,294.00 596.20,292.05 597.66,290.13 599.12,288.27 600.58,286.46 602.03,284.71 603.49,283.02 604.95,281.40 606.41,279.85 607.87,278.38 609.33,276.99 610.78,275.68 612.24,274.46 613.70,273.33 615.16,272.30 616.62,271.36 618.08,270.53 619.53,269.80 620.99,269.17 622.45,268.65 623.91,268.24 625.37,267.94 626.83,267.75 628.28,267.67 629.74,267.71 631.20,267.86 632.66,268.13 634.12,268.51 635.58,269.01 637.03,269.62 638.49,270.34 639.95,271.17 641.41,272.10 642.87,273.14 644.33,274.28 645.78,275.51 647.24,276.84 648.70,278.25 650.16,279.75 651.62,281.33 653.08,282.98 654.53,284.71 655.99,286.50 657.45,288.35 658.91,290.26 660.37,292.22 661.83,294.23 663.28,296.27 664.74,298.36 666.20,300.47 666.20,394.70" fill="#C56E1A" fill-opacity="0.2"/>
<polygon points="491.20,394.70 491.20,389.55 492.66,389.27 494.12,388.97 495.58,388.66 497.03,388.34 498.49,388.00 499.95,387.64 501.41,387.26 502.87,386.87 504.33,386.46 505.78,386.03 507.24,385.57 508.70,385.10 510.16,384.60 511.62,384.09 513.08,383.54 514.53,382.98 515.99,382.38 517.45,381.76 518.91,381.12 520.37,380.44 521.83,379.74 523.28,379.00 524.74,378.24 526.20,377.44 527.66,376.61 529.12,375.75 530.58,374.85 532.03,373.92 533.49,372.95 534.95,371.94 536.41,370.90 537.87,369.82 539.33,368.70 540.78,367.54 542.24,366.34 543.70,365.09 545.16,363.81 546.62,362.49 548.08,361.12 549.53,359.71 550.99,358.26 552.45,356.77 553.91,355.24 555.37,353.66 556.83,352.04 558.28,350.38 559.74,348.68 561.20,346.95 562.66,345.17 564.12,343.35 565.58,341.50 567.03,339.61 568.49,337.69 569.95,335.73 571.41,333.75 572.87,331.74 574.33,329.70 575.78,327.63 577.24,325.55 578.70,323.45 580.16,321.33 581.62,319.20 583.08,317.06 584.53,314.92 585.99,312.77 587.45,310.63 588.91,308.49 590.37,306.36 591.83,304.24 593.28,302.15 594.74,300.07 596.20,298.03 597.66,296.01 599.12,294.03 600.58,292.09 602.03,290.20 603.49,288.36 604.95,286.57 606.41,284.85 607.87,283.18 609.33,281.59 610.78,280.06 612.24,278.62 613.70,277.25 615.16,275.97 616.62,274.78 618.08,273.68 619.53,272.67 620.99,271.77 622.45,270.96 623.91,270.26 625.37,269.66 626.83,269.17 628.28,268.79 629.74,268.51 631.20,268.35 632.66,268.30 634.12,268.36 635.58,268.54 637.03,268.84 638.49,269.24 639.95,269.77 641.41,270.40 642.87,271.14 644.33,271.99 645.78,272.95 647.24,274.01 648.70,275.16 650.16,276.41 651.62,277.75 653.08,279.18 654.53,280.69 655.99,282.28 657.45,283.94 658.91,285.68 660.37,287.47 661.83,289.33 663.28,291.24 664.74,293.20 666.20,295.21 666.20,394.70" fill="#5D9EC7" fill-opacity="0.2"/>
<polygon points="491.20,394.70 491.20,390.60 492.66,390.38 494.12,390.14 495.58,389.89 497.03,389.63 498.49,389.35 499.95,389.06 501.41,388.76 502.87,388.44 504.33,388.10 505.78,387.75 507.24,387.38 508.70,386.99 510.16,386.58 511.62,386.16 513.08,385.71 514.53,385.24 515.99,384.75 517.45,384.24 518.91,383.70 520.37,383.14 521.83,382.56 523.28,381.94 524.74,381.30 526.20,380.64 527.66,379.94 529.12,379.21 530.58,378.46 532.03,377.67 533.49,376.85 534.95,375.99 536.41,375.10 537.87,374.18 539.33,373.22 540.78,372.22 542.24,371.19 543.70,370.12 545.16,369.00 546.62,367.85 548.08,366.66 549.53,365.43 550.99,364.15 552.45,362.84 553.91,361.48 555.37,360.08 556.83,358.64 558.28,357.15 559.74,355.63 561.20,354.06 562.66,352.45 564.12,350.79 565.58,349.10 567.03,347.36 568.49,345.59 569.95,343.78 571.41,341.93 572.87,340.04 574.33,338.12 575.78,336.16 577.24,334.18 578.70,332.16 580.16,330.12 581.62,328.05 583.08,325.96 584.53,323.85 585.99,321.72 587.45,319.58 588.91,317.43 590.37,315.27 591.83,313.11 593.28,310.95 594.74,308.79 596.20,306.64 597.66,304.50 599.12,302.38 600.58,300.28 602.03,298.21 603.49,296.16 604.95,294.15 606.41,292.18 607.87,290.25 609.33,288.37 610.78,286.55 612.24,284.78 613.70,283.07 615.16,281.44 616.62,279.87 618.08,278.38 619.53,276.97 620.99,275.64 622.45,274.40 623.91,273.25 625.37,272.19 626.83,271.24 628.28,270.38 629.74,269.62 631.20,268.97 632.66,268.43 634.12,268.00 635.58,267.67 637.03,267.46 638.49,267.36 639.95,267.37 641.41,267.50 642.87,267.75 644.33,268.11 645.78,268.58 647.24,269.17 648.70,269.87 650.16,270.68 651.62,271.60 653.08,272.62 654.53,273.74 655.99,274.96 657.45,276.27 658.91,277.67 660.37,279.16 661.83,280.72 663.28,282.37 664.74,284.08 666.20,285.87 666.20,394.70" fill="#FFBF00" fill-opacity="0.2"/>
<polygon points="491.20,394.70 491.20,391.01 492.66,390.80 494.12,390.59 495.58,390.36 497.03,390.12 498.49,389.87 499.95,389.61 501.41,389.33 502.87,389.04 504.33,388.74 505.78,388.42 507.24,388.08 508.70,387.73 510.16,387.36 511.62,386.97 513.08,386.56 514.53,386.13 515.99,385.69 517.45,385.22 518.91,384.73 520.37,384.21 521.83,383.68 523.28,383.11 524.74,382.53 526.20,381.91 527.66,381.27 529.12,380.61 530.58,379.91 532.03,379.18 533.49,378.42 534.95,377.64 536.41,376.81 537.87,375.96 539.33,375.07 540.78,374.14 542.24,373.18 543.70,372.19 545.16,371.15 546.62,370.08 548.08,368.97 549.53,367.82 550.99,366.63 552.45,365.40 553.91,364.12 555.37,362.81 556.83,361.45 558.28,360.06 559.74,358.62 561.20,357.13 562.66,355.61 564.12,354.04 565.58,352.44 567.03,350.79 568.49,349.10 569.95,347.37 571.41,345.60 572.87,343.79 574.33,341.95 575.78,340.07 577.24,338.15 578.70,336.21 580.16,334.23 581.62,332.22 583.08,330.19 584.53,328.13 585.99,326.05 587.45,323.95 588.91,321.84 590.37,319.71 591.83,317.58 593.28,315.43 594.74,313.29 596.20,311.14 597.66,309.00 599.12,306.87 600.58,304.75 602.03,302.65 603.49,300.57 604.95,298.51 606.41,296.49 607.87,294.50 609.33,292.56 610.78,290.65 612.24,288.80 613.70,287.00 615.16,285.25 616.62,283.58 618.08,281.96 619.53,280.42 620.99,278.96 622.45,277.57 623.91,276.27 625.37,275.06 626.83,273.94 628.28,272.91 629.74,271.98 631.20,271.15 632.66,270.42 634.12,269.79 635.58,269.28 637.03,268.87 638.49,268.57 639.95,268.38 641.41,268.30 642.87,268.34 644.33,268.49 645.78,268.75 647.24,269.14 648.70,269.63 650.16,270.24 651.62,270.96 653.08,271.78 654.53,272.71 655.99,273.74 657.45,274.88 658.91,276.10 660.37,277.42 661.83,278.83 663.28,280.32 664.74,281.89 666.20,283.54 666.20,394.70" fill="#A5609D" fill-opacity="0.2"/>
<polyline points="491.20,385.22 492.66,384.72 494.12,384.20 495.58,383.65 497.03,383.08 498.49,382.48 499.95,381.85 501.41,381.19 502.87,380.50 504.33,379.79 505.78,379.04 507.24,378.26 508.70,377.44 510.16,376.59 511.62,375.70 513.08,374.77 514.53,373.81 515.99,372.81 517.45,371.76 518.91,370.68 520.37,369.55 521.83,368.38 523.28,367.17 524.74,365.90 526.20,364.60 527.66,363.24 529.12,361.84 530.58,360.39 532.03,358.89 533.49,357.34 534.95,355.75 536.41,354.10 537.87,352.40 539.33,350.65 540.78,348.85 542.24,347.00 543.70,345.09 545.16,343.14 546.62,341.14 548.08,339.09 549.53,337.00 550.99,334.85 552.45,332.66 553.91,330.43 555.37,328.16 556.83,325.84 558.28,323.49 559.74,321.10 561.20,318.67 562.66,316.22 564.12,313.74 565.58,311.23 567.03,308.70 568.49,306.16 569.95,303.60 571.41,301.03 572.87,298.45 574.33,295.87 575.78,293.30 577.24,290.73 578.70,288.17 580.16,285.63 581.62,283.12 583.08,280.63 584.53,278.18 585.99,275.77 587.45,273.40 588.91,271.08 590.37,268.81 591.83,266.61 593.28,264.48 594.74,262.41 596.20,260.43 597.66,258.52 599.12,256.71 600.58,254.99 602.03,253.36 603.49,251.84 604.95,250.43 606.41,249.12 607.87,247.94 609.33,246.86 610.78,245.92 612.24,245.09 613.70,244.39 615.16,243.82 616.62,243.38 618.08,243.08 619.53,242.90 620.99,242.86 622.45,242.96 623.91,243.20 625.37,243.58 626.83,244.09 628.28,244.74 629.74,245.52 631.20,246.43 632.66,247.48 634.12,248.64 635.58,249.93 637.03,251.34 638.49,252.86 639.95,254.48 641.41,256.22 642.87,258.05 644.33,259.97 645.78,261.98 647.24,264.08 648.70,266.25 650.16,268.49 651.62,270.80 653.08,273.16 654.53,275.58 655.99,278.04 657.45,280.55 658.91,283.09 660.37,285.66 661.83,288.26 663.28,290.87 664.74,293.50 666.20,296.13" fill="none" stroke="#5E81B5" stroke-width="1.8" stroke-dasharray="9,9.5"/>
<polyline points="491.20,384.53 492.66,384.00 494.12,383.44 495.58,382.86 497.03,382.26 498.49,381.62 499.95,380.96 501.41,380.26 502.87,379.54 504.33,378.78 505.78,377.99 507.24,377.17 508.70,376.31 510.16,375.42 511.62,374.49 513.08,373.52 514.53,372.51 515.99,371.46 517.45,370.37 518.91,369.24 520.37,368.06 521.83,366.85 523.28,365.58 524.74,364.28 526.20,362.92 527.66,361.52 529.12,360.07 530.58,358.58 532.03,357.04 533.49,355.44 534.95,353.80 536.41,352.12 537.87,350.38 539.33,348.59 540.78,346.76 542.24,344.88 543.70,342.95 545.16,340.97 546.62,338.95 548.08,336.89 549.53,334.78 550.99,332.63 552.45,330.43 553.91,328.20 555.37,325.94 556.83,323.64 558.28,321.31 559.74,318.94 561.20,316.56 562.66,314.14 564.12,311.71 565.58,309.27 567.03,306.80 568.49,304.33 569.95,301.86 571.41,299.38 572.87,296.91 574.33,294.45 575.78,291.99 577.24,289.56 578.70,287.15 580.16,284.77 581.62,282.41 583.08,280.10 584.53,277.83 585.99,275.61 587.45,273.45 588.91,271.34 590.37,269.30 591.83,267.33 593.28,265.44 594.74,263.62 596.20,261.89 597.66,260.26 599.12,258.71 600.58,257.27 602.03,255.92 603.49,254.69 604.95,253.57 606.41,252.56 607.87,251.66 609.33,250.89 610.78,250.24 612.24,249.71 613.70,249.31 615.16,249.04 616.62,248.89 618.08,248.87 619.53,248.99 620.99,249.24 622.45,249.62 623.91,250.13 625.37,250.78 626.83,251.55 628.28,252.45 629.74,253.47 631.20,254.61 632.66,255.86 634.12,257.23 635.58,258.71 637.03,260.29 638.49,261.97 639.95,263.74 641.41,265.60 642.87,267.55 644.33,269.57 645.78,271.67 647.24,273.83 648.70,276.05 650.16,278.33 651.62,280.67 653.08,283.04 654.53,285.45 655.99,287.90 657.45,290.37 658.91,292.87 660.37,295.38 661.83,297.90 663.28,300.43 664.74,302.97 666.20,305.49" fill="none" stroke="#E19C24" stroke-width="1.3"/>
<polyline points="491.20,384.51 492.66,383.98 494.12,383.43 495.58,382.85 497.03,382.24 498.49,381.61 499.95,380.95 501.41,380.26 502.87,379.54 504.33,378.78 505.78,378.00 507.24,377.18 508.70,376.33 510.16,375.44 511.62,374.52 513.08,373.56 514.53,372.56 515.99,371.52 517.45,370.44 518.91,369.32 520.37,368.16 521.83,366.96 523.28,365.71 524.74,364.42 526.20,363.09 527.66,361.71 529.12,360.28 530.58,358.81 532.03,357.29 533.49,355.73 534.95,354.12 536.41,352.46 537.87,350.76 539.33,349.01 540.78,347.22 542.24,345.38 543.70,343.49 545.16,341.57 546.62,339.60 548.08,337.58 549.53,335.53 550.99,333.44 552.45,331.32 553.91,329.15 555.37,326.96 556.83,324.74 558.28,322.48 559.74,320.20 561.20,317.90 562.66,315.58 564.12,313.25 565.58,310.90 567.03,308.54 568.49,306.18 569.95,303.81 571.41,301.45 572.87,299.10 574.33,296.76 575.78,294.44 577.24,292.13 578.70,289.86 580.16,287.61 581.62,285.40 583.08,283.24 584.53,281.12 585.99,279.05 587.45,277.04 588.91,275.09 590.37,273.20 591.83,271.39 593.28,269.66 594.74,268.00 596.20,266.43 597.66,264.96 599.12,263.57 600.58,262.29 602.03,261.11 603.49,260.03 604.95,259.06 606.41,258.20 607.87,257.46 609.33,256.84 610.78,256.33 612.24,255.94 613.70,255.67 615.16,255.53 616.62,255.51 618.08,255.61 619.53,255.85 620.99,256.21 622.45,256.69 623.91,257.30 625.37,258.03 626.83,258.88 628.28,259.85 629.74,260.94 631.20,262.13 632.66,263.43 634.12,264.84 635.58,266.34 637.03,267.94 638.49,269.63 639.95,271.40 641.41,273.26 642.87,275.19 644.33,277.18 645.78,279.25 647.24,281.37 648.70,283.54 650.16,285.76 651.62,288.03 653.08,290.33 654.53,292.66 655.99,295.02 657.45,297.41 658.91,299.80 660.37,302.21 661.83,304.63 663.28,307.04 664.74,309.46 666.20,311.86" fill="none" stroke="#8FB032" stroke-width="1.8" stroke-dasharray="9,9.5"/>
<polyline points="491.20,384.22 492.66,383.69 494.12,383.12 495.58,382.53 497.03,381.91 498.49,381.27 499.95,380.60 501.41,379.89 502.87,379.16 504.33,378.40 505.78,377.60 507.24,376.77 508.70,375.90 510.16,375.00 511.62,374.07 513.08,373.10 514.53,372.09 515.99,371.04 517.45,369.95 518.91,368.82 520.37,367.65 521.83,366.44 523.28,365.18 524.74,363.89 526.20,362.55 527.66,361.16 529.12,359.73 530.58,358.26 532.03,356.74 533.49,355.18 534.95,353.57 536.41,351.92 537.87,350.23 539.33,348.49 540.78,346.71 542.24,344.88 543.70,343.02 545.16,341.11 546.62,339.16 548.08,337.18 549.53,335.16 550.99,333.10 552.45,331.01 553.91,328.89 555.37,326.74 556.83,324.57 558.28,322.37 559.74,320.15 561.20,317.92 562.66,315.67 564.12,313.41 565.58,311.14 567.03,308.87 568.49,306.59 569.95,304.33 571.41,302.07 572.87,299.82 574.33,297.60 575.78,295.39 577.24,293.21 578.70,291.06 580.16,288.95 581.62,286.88 583.08,284.86 584.53,282.89 585.99,280.97 587.45,279.12 588.91,277.33 590.37,275.61 591.83,273.96 593.28,272.40 594.74,270.92 596.20,269.53 597.66,268.23 599.12,267.02 600.58,265.92 602.03,264.92 603.49,264.02 604.95,263.23 606.41,262.55 607.87,261.99 609.33,261.54 610.78,261.20 612.24,260.98 613.70,260.88 615.16,260.90 616.62,261.04 618.08,261.30 619.53,261.69 620.99,262.19 622.45,262.82 623.91,263.56 625.37,264.41 626.83,265.38 628.28,266.46 629.74,267.64 631.20,268.92 632.66,270.30 634.12,271.78 635.58,273.34 637.03,274.99 638.49,276.72 639.95,278.53 641.41,280.41 642.87,282.35 644.33,284.35 645.78,286.40 647.24,288.51 648.70,290.66 650.16,292.85 651.62,295.07 653.08,297.33 654.53,299.60 655.99,301.90 657.45,304.21 658.91,306.52 660.37,308.85 661.83,311.17 663.28,313.49 664.74,315.80 666.20,318.10" fill="none" stroke="#EB6235" stroke-width="1.3"/>
<polyline points="491.20,384.27 492.66,383.73 494.12,383.17 495.58,382.59 497.03,381.98 498.49,381.34 499.95,380.67 501.41,379.98 502.87,379.25 504.33,378.50 505.78,377.71 507.24,376.89 508.70,376.04 510.16,375.15 511.62,374.23 513.08,373.27 514.53,372.28 515.99,371.25 517.45,370.18 518.91,369.07 520.37,367.92 521.83,366.73 523.28,365.50 524.74,364.23 526.20,362.92 527.66,361.56 529.12,360.17 530.58,358.73 532.03,357.25 533.49,355.72 534.95,354.16 536.41,352.55 537.87,350.90 539.33,349.21 540.78,347.48 542.24,345.71 543.70,343.90 545.16,342.06 546.62,340.17 548.08,338.26 549.53,336.31 550.99,334.33 552.45,332.31 553.91,330.28 555.37,328.21 556.83,326.13 558.28,324.02 559.74,321.90 561.20,319.77 562.66,317.62 564.12,315.47 565.58,313.31 567.03,311.15 568.49,309.00 569.95,306.86 571.41,304.72 572.87,302.61 574.33,300.51 575.78,298.44 577.24,296.40 578.70,294.40 580.16,292.43 581.62,290.51 583.08,288.64 584.53,286.82 585.99,285.05 587.45,283.35 588.91,281.72 590.37,280.15 591.83,278.67 593.28,277.26 594.74,275.93 596.20,274.70 597.66,273.55 599.12,272.50 600.58,271.54 602.03,270.69 603.49,269.93 604.95,269.29 606.41,268.74 607.87,268.31 609.33,267.99 610.78,267.78 612.24,267.68 613.70,267.69 615.16,267.82 616.62,268.06 618.08,268.42 619.53,268.90 620.99,269.49 622.45,270.18 623.91,270.99 625.37,271.91 626.83,272.92 628.28,274.04 629.74,275.26 631.20,276.56 632.66,277.96 634.12,279.44 635.58,281.01 637.03,282.65 638.49,284.36 639.95,286.14 641.41,287.98 642.87,289.87 644.33,291.82 645.78,293.82 647.24,295.86 648.70,297.94 650.16,300.05 651.62,302.18 653.08,304.34 654.53,306.52 655.99,308.71 657.45,310.91 658.91,313.12 660.37,315.32 661.83,317.52 663.28,319.72 664.74,321.90 666.20,324.07" fill="none" stroke="#8778B3" stroke-width="1.8" stroke-dasharray="9,9.5"/>
<polyline points="491.20,388.71 492.66,388.39 494.12,388.05 495.58,387.69 497.03,387.32 498.49,386.93 499.95,386.52 501.41,386.09 502.87,385.64 504.33,385.17 505.78,384.68 507.24,384.16 508.70,383.62 510.16,383.06 511.62,382.47 513.08,381.85 514.53,381.21 515.99,380.54 517.45,379.83 518.91,379.10 520.37,378.34 521.83,377.55 523.28,376.72 524.74,375.86 526.20,374.97 527.66,374.04 529.12,373.08 530.58,372.07 532.03,371.04 533.49,369.96 534.95,368.84 536.41,367.68 537.87,366.49 539.33,365.25 540.78,363.97 542.24,362.65 543.70,361.29 545.16,359.88 546.62,358.44 548.08,356.95 549.53,355.41 550.99,353.84 552.45,352.22 553.91,350.57 555.37,348.87 556.83,347.13 558.28,345.35 559.74,343.54 561.20,341.68 562.66,339.79 564.12,337.87 565.58,335.91 567.03,333.93 568.49,331.91 569.95,329.87 571.41,327.80 572.87,325.71 574.33,323.60 575.78,321.48 577.24,319.34 578.70,317.19 580.16,315.04 581.62,312.88 583.08,310.72 584.53,308.57 585.99,306.43 587.45,304.30 588.91,302.19 590.37,300.10 591.83,298.03 593.28,296.00 594.74,294.00 596.20,292.05 597.66,290.13 599.12,288.27 600.58,286.46 602.03,284.71 603.49,283.02 604.95,281.40 606.41,279.85 607.87,278.38 609.33,276.99 610.78,275.68 612.24,274.46 613.70,273.33 615.16,272.30 616.62,271.36 618.08,270.53 619.53,269.80 620.99,269.17 622.45,268.65 623.91,268.24 625.37,267.94 626.83,267.75 628.28,267.67 629.74,267.71 631.20,267.86 632.66,268.13 634.12,268.51 635.58,269.01 637.03,269.62 638.49,270.34 639.95,271.17 641.41,272.10 642.87,273.14 644.33,274.28 645.78,275.51 647.24,276.84 648.70,278.25 650.16,279.75 651.62,281.33 653.08,282.98 654.53,284.71 655.99,286.50 657.45,288.35 658.91,290.26 660.37,292.22 661.83,294.23 663.28,296.27 664.74,298.36 666.20,300.47" fill="none" stroke="#C56E1A" stroke-width="1.3"/>
<polyline points="491.20,389.55 492.66,389.27 494.12,388.97 495.58,388.66 497.03,388.34 498.49,388.00 499.95,387.64 501.41,387.26 502.87,386.87 504.33,386.46 505.78,386.03 507.24,385.57 508.70,385.10 510.16,384.60 511.62,384.09 513.08,383.54 514.53,382.98 515.99,382.38 517.45,381.76 518.91,381.12 520.37,380.44 521.83,379.74 523.28,379.00 524.74,378.24 526.20,377.44 527.66,376.61 529.12,375.75 530.58,374.85 532.03,373.92 533.49,372.95 534.95,371.94 536.41,370.90 537.87,369.82 539.33,368.70 540.78,367.54 542.24,366.34 543.70,365.09 545.16,363.81 546.62,362.49 548.08,361.12 549.53,359.71 550.99,358.26 552.45,356.77 553.91,355.24 555.37,353.66 556.83,352.04 558.28,350.38 559.74,348.68 561.20,346.95 562.66,345.17 564.12,343.35 565.58,341.50 567.03,339.61 568.49,337.69 569.95,335.73 571.41,333.75 572.87,331.74 574.33,329.70 575.78,327.63 577.24,325.55 578.70,323.45 580.16,321.33 581.62,319.20 583.08,317.06 584.53,314.92 585.99,312.77 587.45,310.63 588.91,308.49 590.37,306.36 591.83,304.24 593.28,302.15 594.74,300.07 596.20,298.03 597.66,296.01 599.12,294.03 600.58,292.09 602.03,290.20 603.49,288.36 604.95,286.57 606.41,284.85 607.87,283.18 609.33,281.59 610.78,280.06 612.24,278.62 613.70,277.25 615.16,275.97 616.62,274.78 618.08,273.68 619.53,272.67 620.99,271.77 622.45,270.96 623.91,270.26 625.37,269.66 626.83,269.17 628.28,268.79 629.74,268.51 631.20,268.35 632.66,268.30 634.12,268.36 635.58,268.54 637.03,268.84 638.49,269.24 639.95,269.77 641.41,270.40 642.87,271.14 644.33,271.99 645.78,272.95 647.24,274.01 648.70,275.16 650.16,276.41 651.62,277.75 653.08,279.18 654.53,280.69 655.99,282.28 657.45,283.94 658.91,285.68 660.37,287.47 661.83,289.33 663.28,291.24 664.74,293.20 666.20,295.21" fill="none" stroke="#5D9EC7" stroke-width="1.8" stroke-dasharray="9,9.5"/>
<polyline points="491.20,390.60 492.66,390.38 494.12,390.14 495.58,389.89 497.03,389.63 498.49,389.35 499.95,389.06 501.41,388.76 502.87,388.44 504.33,388.10 505.78,387.75 507.24,387.38 508.70,386.99 510.16,386.58 511.62,386.16 513.08,385.71 514.53,385.24 515.99,384.75 517.45,384.24 518.91,383.70 520.37,383.14 521.83,382.56 523.28,381.94 524.74,381.30 526.20,380.64 527.66,379.94 529.12,379.21 530.58,378.46 532.03,377.67 533.49,376.85 534.95,375.99 536.41,375.10 537.87,374.18 539.33,373.22 540.78,372.22 542.24,371.19 543.70,370.12 545.16,369.00 546.62,367.85 548.08,366.66 549.53,365.43 550.99,364.15 552.45,362.84 553.91,361.48 555.37,360.08 556.83,358.64 558.28,357.15 559.74,355.63 561.20,354.06 562.66,352.45 564.12,350.79 565.58,349.10 567.03,347.36 568.49,345.59 569.95,343.78 571.41,341.93 572.87,340.04 574.33,338.12 575.78,336.16 577.24,334.18 578.70,332.16 580.16,330.12 581.62,328.05 583.08,325.96 584.53,323.85 585.99,321.72 587.45,319.58 588.91,317.43 590.37,315.27 591.83,313.11 593.28,310.95 594.74,308.79 596.20,306.64 597.66,304.50 599.12,302.38 600.58,300.28 602.03,298.21 603.49,296.16 604.95,294.15 606.41,292.18 607.87,290.25 609.33,288.37 610.78,286.55 612.24,284.78 613.70,283.07 615.16,281.44 616.62,279.87 618.08,278.38 619.53,276.97 620.99,275.64 622.45,274.40 623.91,273.25 625.37,272.19 626.83,271.24 628.28,270.38 629.74,269.62 631.20,268.97 632.66,268.43 634.12,268.00 635.58,267.67 637.03,267.46 638.49,267.36 639.95,267.37 641.41,267.50 642.87,267.75 644.33,268.11 645.78,268.58 647.24,269.17 648.70,269.87 650.16,270.68 651.62,271.60 653.08,272.62 654.53,273.74 655.99,274.96 657.45,276.27 658.91,277.67 660.37,279.16 661.83,280.72 663.28,282.37 664.74,284.08 666.20,285.87" fill="none" stroke="#FFBF00" stroke-width="1.3"/>
<polyline points="491.20,391.01 492.66,390.80 494.12,390.59 495.58,390.36 497.03,390.12 498.49,389.87 499.95,389.61 501.41,389.33 502.87,389.04 504.33,388.74 505.78,388.42 507.24,388.08 508.70,387.73 510.16,387.36 511.62,386.97 513.08,386.56 514.53,386.13 515.99,385.69 517.45,385.22 518.91,384.73 520.37,384.21 521.83,383.68 523.28,383.11 524.74,382.53 526.20,381.91 527.66,381.27 529.12,380.61 530.58,379.91 532.03,379.18 533.49,378.42 534.95,377.64 536.41,376.81 537.87,375.96 539.33,375.07 540.78,374.14 542.24,373.18 543.70,372.19 545.16,371.15 546.62,370.08 548.08,368.97 549.53,367.82 550.99,366.63 552.45,365.40 553.91,364.12 555.37,362.81 556.83,361.45 558.28,360.06 559.74,358.62 561.20,357.13 562.66,355.61 564.12,354.04 565.58,352.44 567.03,350.79 568.49,349.10 569.95,347.37 571.41,345.60 572.87,343.79 574.33,341.95 575.78,340.07 577.24,338.15 578.70,336.21 580.16,334.23 581.62,332.22 583.08,330.19 584.53,328.13 585.99,326.05 587.45,323.95 588.91,321.84 590.37,319.71 591.83,317.58 593.28,315.43 594.74,313.29 596.20,311.14 597.66,309.00 599.12,306.87 600.58,304.75 602.03,302.65 603.49,300.57 604.95,298.51 606.41,296.49 607.87,294.50 609.33,292.56 610.78,290.65 612.24,288.80 613.70,287.00 615.16,285.25 616.62,283.58 618.08,281.96 619.53,280.42 620.99,278.96 622.45,277.57 623.91,276.27 625.37,275.06 626.83,273.94 628.28,272.91 629.74,271.98 631.20,271.15 632.66,270.42 634.12,269.79 635.58,269.28 637.03,268.87 638.49,268.57 639.95,268.38 641.41,268.30 642.87,268.34 644.33,268.49 645.78,268.75 647.24,269.14 648.70,269.63 650.16,270.24 651.62,270.96 653.08,271.78 654.53,272.71 655.99,273.74 657.45,274.88 658.91,276.10 660.37,277.42 661.83,278.83 663.28,280.32 664.74,281.89 666.20,283.54" fill="none" stroke="#A5609D" stroke-width="1.8" stroke-dasharray="9,9.5"/>
</g>
<rect x="488.00" y="234.70" width="181.70" height="167.60" fill="none" stroke="#000" stroke-width="1.6"/>
<path d="M491.20,402.30v-1.60M491.20,234.70v1.60M499.95,402.30v-1.60M499.95,234.70v1.60M508.70,402.30v-2.60M508.70,234.70v2.60M517.45,402.30v-1.60M517.45,234.70v1.60M526.20,402.30v-1.60M526.20,234.70v1.60M534.95,402.30v-1.60M534.95,234.70v1.60M543.70,402.30v-2.60M543.70,234.70v2.60M552.45,402.30v-1.60M552.45,234.70v1.60M561.20,402.30v-1.60M561.20,234.70v1.60M569.95,402.30v-1.60M569.95,234.70v1.60M578.70,402.30v-2.60M578.70,234.70v2.60M587.45,402.30v-1.60M587.45,234.70v1.60M596.20,402.30v-1.60M596.20,234.70v1.60M604.95,402.30v-1.60M604.95,234.70v1.60M613.70,402.30v-2.60M613.70,234.70v2.60M622.45,402.30v-1.60M622.45,234.70v1.60M631.20,402.30v-1.60M631.20,234.70v1.60M639.95,402.30v-1.60M639.95,234.70v1.60M648.70,402.30v-2.60M648.70,234.70v2.60M657.45,402.30v-1.60M657.45,234.70v1.60M666.20,402.30v-1.60M666.20,234.70v1.60M488.00,394.70h2.60M669.70,394.70h-2.60M488.00,386.80h1.60M669.70,386.80h-1.60M488.00,378.90h1.60M669.70,378.90h-1.60M488.00,371.00h1.60M669.70,371.00h-1.60M488.00,363.10h2.60M669.70,363.10h-2.60M488.00,355.20h1.60M669.70,355.20h-1.60M488.00,347.30h1.60M669.70,347.30h-1.60M488.00,339.40h1.60M669.70,339.40h-1.60M488.00,331.50h2.60M669.70,331.50h-2.60M488.00,323.60h1.60M669.70,323.60h-1.60M488.00,315.70h1.60M669.70,315.70h-1.60M488.00,307.80h1.60M669.70,307.80h-1.60M488.00,299.90h2.60M669.70,299.90h-2.60M488.00,292.00h1.60M669.70,292.00h-1.60M488.00,284.10h1.60M669.70,284.10h-1.60M488.00,276.20h1.60M669.70,276.20h-1.60M488.00,268.30h2.60M669.70,268.30h-2.60M488.00,260.40h1.60M669.70,260.40h-1.60M488.00,252.50h1.60M669.70,252.50h-1.60M488.00,244.60h1.60M669.70,244.60h-1.60M488.00,236.70h2.60M669.70,236.70h-2.60" stroke="#000" stroke-width="1.1" fill="none"/>
<text x="0" y="417.3" class="tl" text-anchor="middle" transform="translate(507.20,0) scale(0.7,1)">−4</text>
<text x="0" y="417.3" class="tl" text-anchor="middle" transform="translate(542.20,0) scale(0.7,1)">−2</text>
<text x="0" y="417.3" class="tl" text-anchor="middle" transform="translate(578.70,0) scale(0.7,1)">0</text>
<text x="0" y="417.3" class="tl" text-anchor="middle" transform="translate(613.70,0) scale(0.7,1)">2</text>
<text x="0" y="417.3" class="tl" text-anchor="middle" transform="translate(648.70,0) scale(0.7,1)">4</text>
<text x="0" y="399.00" class="tl" text-anchor="end" transform="translate(486.20,0) scale(0.7,1)">0.0</text>
<text x="0" y="367.40" class="tl" text-anchor="end" transform="translate(486.20,0) scale(0.7,1)">0.2</text>
<text x="0" y="335.80" class="tl" text-anchor="end" transform="translate(486.20,0) scale(0.7,1)">0.4</text>
<text x="0" y="304.20" class="tl" text-anchor="end" transform="translate(486.20,0) scale(0.7,1)">0.6</text>
<text x="0" y="272.60" class="tl" text-anchor="end" transform="translate(486.20,0) scale(0.7,1)">0.8</text>
<text x="0" y="241.00" class="tl" text-anchor="end" transform="translate(486.20,0) scale(0.7,1)">1.0</text>
<text x="0" y="439.7" class="al" text-anchor="middle" transform="translate(578.70,0) scale(0.8,1)">x</text>
<text class="al" text-anchor="middle" style="font-size:7px;letter-spacing:0.55px" transform="translate(467.40,318.50) rotate(-90)"><tspan font-style="italic">u</tspan><tspan font-size="4.8" dy="1.6">1</tspan><tspan dy="-1.6">(x, t)</tspan></text>
<text x="521.20" y="466.00" class="cap">(f)</text>
<text x="545.60" y="466.00" class="cap" font-style="italic">β</text>
<text x="0" y="467.70" class="cap" transform="translate(560.20,0) scale(1.3,1)">=</text>
<text x="577.10" y="466.00" class="cap">0.43</text>
<defs><filter id="bl1" x="-10%" y="-10%" width="120%" height="120%"><feGaussianBlur stdDeviation="0.7"/></filter><filter id="bl2" x="-10%" y="-10%" width="120%" height="120%"><feGaussianBlur stdDeviation="1.4"/></filter></defs>
<path d="M84.60,67.60 L195.30,84.60 L175.30,164.40 L44.30,140.00 Z" fill="#fff" stroke="#9a9a9a" stroke-width="0.7"/>
<path d="M86.0,68.7L137.5,76.1L124.9,109.4L67.6,100.5Z" fill="#FF0000"/>
<path d="M124.9,109.4L67.6,100.5L79.0,80.8L98.4,70.5L137.5,76.1L124.9,109.4Z" fill="#FFFF00"/>
<path d="M124.9,109.4L67.6,100.5L77.1,84.0L105.6,71.5L137.5,76.1L124.9,109.4Z" fill="#80FF00"/>
<path d="M124.9,109.4L67.6,100.5L76.0,85.9L109.2,72.0L137.5,76.1L124.9,109.4Z" fill="#00FF00"/>
<path d="M124.9,109.4L67.6,100.5L74.1,89.3L114.8,72.8L137.5,76.1L124.9,109.4Z" fill="#00FF80"/>
<path d="M124.9,109.4L67.6,100.5L72.9,91.4L117.9,73.3L137.5,76.1L124.9,109.4Z" fill="#00FFFF"/>
<path d="M124.9,109.4L67.6,100.5L71.3,94.1L122.1,73.9L137.5,76.1L124.9,109.4Z" fill="#0060FF"/>
<path d="M124.9,109.4L67.6,100.5L69.9,96.5L125.7,74.4L137.5,76.1L124.9,109.4Z" fill="#0000FF"/>
<path d="M124.9,109.4L67.6,100.5L68.2,99.5L130.3,75.1L137.5,76.1L124.9,109.4Z" fill="#8000FF"/>
<path d="M124.9,109.4L69.6,100.8L133.9,75.6L137.5,76.1L124.9,109.4Z" fill="#FF00FF"/>
<path d="M124.9,109.4L82.5,102.8L135.3,82.0L124.9,109.4Z" fill="#FF0000"/>
<path d="M124.9,109.4L99.1,105.4L131.2,92.8L124.9,109.4Z" fill="#FF00FF"/>
<path d="M124.9,109.4L108.9,106.9L128.8,99.0L124.9,109.4Z" fill="#8000FF"/>
<path d="M124.9,109.4L113.4,107.6L127.7,102.0L124.9,109.4Z" fill="#0000FF"/>
<path d="M124.9,109.4L118.0,108.3L126.6,105.0L124.9,109.4Z" fill="#00FFFF"/>
<path d="M76.80,84.60L131.20,92.75" stroke="#fff" stroke-width="0.8" stroke-opacity="0.75"/>
<path d="M137.5,76.1L193.0,84.9L184.7,118.5L124.9,109.4Z" fill="#FF0000"/>
<path d="M184.7,118.5L124.9,109.4L132.7,88.7L150.8,78.2L193.0,84.9L184.7,118.5Z" fill="#FFFF00"/>
<path d="M184.7,118.5L124.9,109.4L131.4,92.2L158.6,79.4L193.0,84.9L184.7,118.5Z" fill="#80FF00"/>
<path d="M184.7,118.5L124.9,109.4L130.7,94.1L162.5,80.1L193.0,84.9L184.7,118.5Z" fill="#00FF00"/>
<path d="M184.7,118.5L124.9,109.4L129.3,97.7L168.6,81.0L193.0,84.9L184.7,118.5Z" fill="#00FF80"/>
<path d="M184.7,118.5L124.9,109.4L128.5,99.8L171.9,81.6L193.0,84.9L184.7,118.5Z" fill="#00FFFF"/>
<path d="M184.7,118.5L124.9,109.4L127.4,102.7L176.3,82.3L193.0,84.9L184.7,118.5Z" fill="#0060FF"/>
<path d="M184.7,118.5L124.9,109.4L126.5,105.2L180.2,82.9L193.0,84.9L184.7,118.5Z" fill="#0000FF"/>
<path d="M184.7,118.5L124.9,109.4L125.3,108.3L185.2,83.7L193.0,84.9L184.7,118.5Z" fill="#8000FF"/>
<path d="M184.7,118.5L127.0,109.7L189.1,84.3L193.0,84.9L184.7,118.5Z" fill="#FF00FF"/>
<path d="M184.7,118.5L140.4,111.8L191.5,90.9L184.7,118.5Z" fill="#FF0000"/>
<path d="M184.7,118.5L157.8,114.4L188.9,101.7L184.7,118.5Z" fill="#FF00FF"/>
<path d="M184.7,118.5L168.0,116.0L187.3,108.0L184.7,118.5Z" fill="#8000FF"/>
<path d="M184.7,118.5L172.7,116.7L186.5,111.0L184.7,118.5Z" fill="#0000FF"/>
<path d="M184.7,118.5L177.5,117.4L185.8,114.0L184.7,118.5Z" fill="#00FFFF"/>
<path d="M131.20,92.75L188.85,101.70" stroke="#fff" stroke-width="0.8" stroke-opacity="0.75"/>
<path d="M67.6,100.5L124.9,109.4L109.3,150.4L47.4,138.2Z" fill="#FF0000"/>
<path d="M109.3,150.4L47.4,138.2L59.9,114.8L81.4,102.6L124.9,109.4L109.3,150.4Z" fill="#FFFF00"/>
<path d="M109.3,150.4L47.4,138.2L57.9,118.7L89.4,103.9L124.9,109.4L109.3,150.4Z" fill="#80FF00"/>
<path d="M109.3,150.4L47.4,138.2L56.7,120.9L93.4,104.5L124.9,109.4L109.3,150.4Z" fill="#00FF00"/>
<path d="M109.3,150.4L47.4,138.2L54.5,124.9L99.7,105.5L124.9,109.4L109.3,150.4Z" fill="#00FF80"/>
<path d="M109.3,150.4L47.4,138.2L53.2,127.4L103.1,106.0L124.9,109.4L109.3,150.4Z" fill="#00FFFF"/>
<path d="M109.3,150.4L47.4,138.2L51.5,130.6L107.7,106.7L124.9,109.4L109.3,150.4Z" fill="#0060FF"/>
<path d="M109.3,150.4L47.4,138.2L50.0,133.4L111.7,107.4L124.9,109.4L109.3,150.4Z" fill="#0000FF"/>
<path d="M109.3,150.4L47.4,138.2L48.1,137.0L116.9,108.2L124.9,109.4L109.3,150.4Z" fill="#8000FF"/>
<path d="M109.3,150.4L49.6,138.6L120.9,108.8L124.9,109.4L109.3,150.4Z" fill="#FF00FF"/>
<path d="M109.3,150.4L63.5,141.4L122.1,116.7L109.3,150.4Z" fill="#FF0000"/>
<path d="M109.3,150.4L81.4,144.9L117.1,129.9L109.3,150.4Z" fill="#FF00FF"/>
<path d="M109.3,150.4L92.0,147.0L114.2,137.6L109.3,150.4Z" fill="#8000FF"/>
<path d="M109.3,150.4L96.9,148.0L112.8,141.3L109.3,150.4Z" fill="#0000FF"/>
<path d="M109.3,150.4L101.9,148.9L111.4,144.9L109.3,150.4Z" fill="#00FFFF"/>
<path d="M57.50,119.35L117.10,129.90" stroke="#fff" stroke-width="0.8" stroke-opacity="0.75"/>
<path d="M124.9,109.4L184.7,118.5L173.6,162.2L109.3,150.4Z" fill="#FF0000"/>
<path d="M173.6,162.2L109.3,150.4L119.0,125.0L139.3,111.6L184.7,118.5L173.6,162.2Z" fill="#FFFF00"/>
<path d="M173.6,162.2L109.3,150.4L117.4,129.2L147.6,112.9L184.7,118.5L173.6,162.2Z" fill="#80FF00"/>
<path d="M173.6,162.2L109.3,150.4L116.5,131.6L151.8,113.5L184.7,118.5L173.6,162.2Z" fill="#00FF00"/>
<path d="M173.6,162.2L109.3,150.4L114.8,135.9L158.4,114.5L184.7,118.5L173.6,162.2Z" fill="#00FF80"/>
<path d="M173.6,162.2L109.3,150.4L113.8,138.6L162.0,115.0L184.7,118.5L173.6,162.2Z" fill="#00FFFF"/>
<path d="M173.6,162.2L109.3,150.4L112.4,142.2L166.8,115.8L184.7,118.5L173.6,162.2Z" fill="#0060FF"/>
<path d="M173.6,162.2L109.3,150.4L111.3,145.2L170.9,116.4L184.7,118.5L173.6,162.2Z" fill="#0000FF"/>
<path d="M173.6,162.2L109.3,150.4L109.8,149.1L176.3,117.2L184.7,118.5L173.6,162.2Z" fill="#8000FF"/>
<path d="M173.6,162.2L111.6,150.8L180.5,117.9L184.7,118.5L173.6,162.2Z" fill="#FF00FF"/>
<path d="M173.6,162.2L126.0,153.5L182.7,126.3L173.6,162.2Z" fill="#FF0000"/>
<path d="M173.6,162.2L144.7,156.9L179.1,140.3L173.6,162.2Z" fill="#FF00FF"/>
<path d="M173.6,162.2L155.6,158.9L177.1,148.6L173.6,162.2Z" fill="#8000FF"/>
<path d="M173.6,162.2L160.7,159.8L176.1,152.5L173.6,162.2Z" fill="#0000FF"/>
<path d="M173.6,162.2L165.9,160.8L175.1,156.4L173.6,162.2Z" fill="#00FFFF"/>
<path d="M117.10,129.90L179.15,140.35" stroke="#fff" stroke-width="0.8" stroke-opacity="0.75"/>
<path d="M137.50,76.10L124.90,109.40L109.30,150.40 M67.60,100.50L124.90,109.40L184.70,118.50" stroke="#fff" stroke-width="2.3" fill="none"/>
<path d="M21.50,46.50L40.10,142.60L175.50,168.30L195.60,84.00" stroke="#a0a0a0" stroke-width="0.65" fill="none"/>
<path d="M21.50,46.50l1.60,0.00M23.36,56.11l1.60,0.00M25.22,65.72l1.60,0.00M27.08,75.33l1.60,0.00M28.94,84.94l1.60,0.00M30.80,94.55l1.60,0.00M32.66,104.16l1.60,0.00M34.52,113.77l1.60,0.00M36.38,123.38l1.60,0.00M38.24,132.99l1.60,0.00M40.10,142.60l1.60,0.00M40.10,142.60l0.24,-1.60M49.77,144.44l0.24,-1.60M59.44,146.27l0.24,-1.60M69.11,148.11l0.24,-1.60M78.79,149.94l0.24,-1.60M88.46,151.78l0.24,-1.60M98.13,153.61l0.24,-1.60M107.80,155.45l0.24,-1.60M117.47,157.29l0.24,-1.60M127.14,159.12l0.24,-1.60M136.81,160.96l0.24,-1.60M146.49,162.79l0.24,-1.60M156.16,164.63l0.24,-1.60M165.83,166.46l0.24,-1.60M175.50,168.30l0.24,-1.60M175.50,168.30l-1.60,-0.16M176.94,162.28l-1.60,-0.16M178.37,156.26l-1.60,-0.16M179.81,150.24l-1.60,-0.16M181.24,144.21l-1.60,-0.16M182.68,138.19l-1.60,-0.16M184.11,132.17l-1.60,-0.16M185.55,126.15l-1.60,-0.16M186.99,120.13l-1.60,-0.16M188.42,114.11l-1.60,-0.16M189.86,108.09l-1.60,-0.16M191.29,102.06l-1.60,-0.16M192.73,96.04l-1.60,-0.16M194.16,90.02l-1.60,-0.16M195.60,84.00l-1.60,-0.16" stroke="#9a9a9a" stroke-width="0.6" fill="none"/>
<text x="0" y="69.60" font-size="6.1" fill="#333" text-anchor="middle" class="t3" transform="translate(18.50,0) scale(0.87,1)">0.5</text>
<text x="0" y="96.60" font-size="6.1" fill="#333" text-anchor="middle" class="t3" transform="translate(23.40,0) scale(0.87,1)">0.0</text>
<text x="0" y="120.60" font-size="6.1" fill="#333" text-anchor="end" class="t3" transform="translate(32.80,0) scale(0.87,1)">−0.5</text>
<text x="0" y="142.70" font-size="6.1" fill="#333" text-anchor="end" class="t3" transform="translate(37.00,0) scale(0.87,1)">−1.0</text>
<text x="0" y="155.00" font-size="6.1" fill="#333" text-anchor="middle" class="t3" transform="translate(62.20,0) scale(0.87,1)">−2</text>
<text x="0" y="162.00" font-size="6.1" fill="#333" text-anchor="middle" class="t3" transform="translate(103.30,0) scale(0.87,1)">0</text>
<text x="0" y="170.00" font-size="6.1" fill="#333" text-anchor="middle" class="t3" transform="translate(145.70,0) scale(0.87,1)">2</text>
<text x="0" y="102.40" font-size="6.1" fill="#333" text-anchor="middle" class="t3" transform="translate(196.30,0) scale(0.87,1)">2</text>
<text x="0" y="125.40" font-size="6.1" fill="#333" text-anchor="middle" class="t3" transform="translate(189.90,0) scale(0.87,1)">0</text>
<text x="0" y="152.30" font-size="6.1" fill="#333" text-anchor="middle" class="t3" transform="translate(185.30,0) scale(0.87,1)">−2</text>
<text x="9.40" y="98.20" class="t3b" text-anchor="middle"><tspan font-style="italic">u</tspan><tspan font-size="4.5" dy="1.3">1</tspan><tspan dy="-1.3">(x,t)</tspan></text>
<text x="100.20" y="171.20" class="t3b" style="font-size:6px" text-anchor="middle">t</text>
<text x="201.00" y="127.80" class="t3b" style="font-size:6.5px" text-anchor="middle">x</text>
<defs><clipPath id="sa"><path d="M29.20,66.70C31.83,65.12 39.87,60.67 45.00,57.20C50.13,53.73 55.67,49.72 60.00,45.90C64.33,42.08 67.45,38.35 71.00,34.30C74.55,30.25 79.58,23.72 81.30,21.60C85.05,21.70 96.30,22.40 103.80,22.20C111.30,22.00 120.37,21.07 126.30,20.40C132.23,19.73 135.45,18.90 139.40,18.20C143.35,17.50 145.32,17.33 150.00,16.20C154.68,15.07 161.67,13.00 167.50,11.40C173.33,9.80 179.88,7.98 185.00,6.60C190.12,5.22 194.87,3.93 198.20,3.10C201.53,2.27 203.87,1.85 205.00,1.60C204.00,3.97 200.73,10.07 199.00,15.80C197.27,21.53 196.18,28.97 194.60,36.00C193.02,43.03 191.80,47.78 189.50,58.00C187.20,68.22 182.25,90.75 180.80,97.30C178.07,95.82 169.67,91.32 164.40,88.40C159.13,85.48 153.95,82.33 149.20,79.80C144.45,77.27 140.65,75.40 135.90,73.20C131.15,71.00 125.45,68.50 120.70,66.60C115.95,64.70 111.82,63.23 107.40,61.80C102.98,60.37 98.93,58.85 94.20,58.00C89.47,57.15 84.70,56.78 79.00,56.70C73.30,56.62 65.67,56.78 60.00,57.50C54.33,58.22 50.13,59.47 45.00,61.00C39.87,62.53 31.83,65.75 29.20,66.70Z"/></clipPath>
<linearGradient id="ga_or" x1="84" y1="24" x2="94" y2="41" gradientUnits="userSpaceOnUse"><stop offset="0" stop-color="#FF9800"/><stop offset="0.6" stop-color="#FF8A00"/><stop offset="1" stop-color="#F07800"/></linearGradient>
<linearGradient id="ga_yb" x1="60" y1="40" x2="66" y2="55" gradientUnits="userSpaceOnUse"><stop offset="0" stop-color="#D8D000"/><stop offset="1" stop-color="#C8C400"/></linearGradient></defs>
<g clip-path="url(#sa)">
<path d="M29.20,66.70C31.83,65.12 39.87,60.67 45.00,57.20C50.13,53.73 55.67,49.72 60.00,45.90C64.33,42.08 67.45,38.35 71.00,34.30C74.55,30.25 79.58,23.72 81.30,21.60C85.05,21.70 96.30,22.40 103.80,22.20C111.30,22.00 120.37,21.07 126.30,20.40C132.23,19.73 135.45,18.90 139.40,18.20C143.35,17.50 145.32,17.33 150.00,16.20C154.68,15.07 161.67,13.00 167.50,11.40C173.33,9.80 179.88,7.98 185.00,6.60C190.12,5.22 194.87,3.93 198.20,3.10C201.53,2.27 203.87,1.85 205.00,1.60C204.00,3.97 200.73,10.07 199.00,15.80C197.27,21.53 196.18,28.97 194.60,36.00C193.02,43.03 191.80,47.78 189.50,58.00C187.20,68.22 182.25,90.75 180.80,97.30C178.07,95.82 169.67,91.32 164.40,88.40C159.13,85.48 153.95,82.33 149.20,79.80C144.45,77.27 140.65,75.40 135.90,73.20C131.15,71.00 125.45,68.50 120.70,66.60C115.95,64.70 111.82,63.23 107.40,61.80C102.98,60.37 98.93,58.85 94.20,58.00C89.47,57.15 84.70,56.78 79.00,56.70C73.30,56.62 65.67,56.78 60.00,57.50C54.33,58.22 50.13,59.47 45.00,61.00C39.87,62.53 31.83,65.75 29.20,66.70Z" fill="#FF00FF"/>
<path d="M20.0,75.0L60.4,46.8L128.3,22.0L128.3,0.0L210.0,-5.0L210.0,2.5L198.0,4.4L185.0,8.3L167.5,15.3L150.0,21.5L130.0,29.4L115.5,34.1L102.8,39.4L86.0,47.0L70.6,52.6L57.4,57.7L40.0,66.0L20.0,80.0Z" fill="url(#ga_yb)" filter="url(#bl1)"/>
<path d="M60.4,46.8L70.0,44.3L80.9,41.3L90.0,38.0L102.8,33.5L115.5,28.4L125.7,23.3L128.3,22.0L130.0,0.0L60.0,0.0L30.0,40.0Z" fill="url(#ga_or)" filter="url(#bl1)"/>
<path d="M143.5,80.0L146.5,75.0L152.0,71.5L156.8,66.8L162.0,64.8L166.3,62.6L172.0,60.5L177.7,57.0L183.0,52.5L187.1,49.4L192.0,46.5L200.0,42.0L210.0,42.0L210.0,110.0L140.0,110.0Z" fill="#FFFF00" stroke="#FF70C0" stroke-width="1.6" stroke-opacity="0.7" stroke-linejoin="round"/>
<path d="M145.5,80.0L148.0,76.2L153.0,72.5L157.8,67.8L162.5,65.8L167.0,63.6L172.5,61.5L178.2,58.0L183.5,53.5L187.6,50.4L192.5,47.5L200.0,43.5L210.0,43.0L210.0,110.0L140.0,110.0Z" fill="#FFFF00"/>
<path d="M130,26.8 C145,25.6 163,25.8 180.2,29.6 S191,33.5 194.5,35.3" stroke="#fff" stroke-width="1" fill="none"/>
<path d="M56,47.5 L72,44.5" stroke="#fff" stroke-width="0.6" stroke-opacity="0.5" fill="none"/>
</g>
<path d="M29.20,66.70C31.83,65.12 39.87,60.67 45.00,57.20C50.13,53.73 55.67,49.72 60.00,45.90C64.33,42.08 67.45,38.35 71.00,34.30C74.55,30.25 79.58,23.72 81.30,21.60C85.05,21.70 96.30,22.40 103.80,22.20C111.30,22.00 120.37,21.07 126.30,20.40C132.23,19.73 135.45,18.90 139.40,18.20C143.35,17.50 145.32,17.33 150.00,16.20C154.68,15.07 161.67,13.00 167.50,11.40C173.33,9.80 179.88,7.98 185.00,6.60C190.12,5.22 194.87,3.93 198.20,3.10C201.53,2.27 203.87,1.85 205.00,1.60C204.00,3.97 200.73,10.07 199.00,15.80C197.27,21.53 196.18,28.97 194.60,36.00C193.02,43.03 191.80,47.78 189.50,58.00C187.20,68.22 182.25,90.75 180.80,97.30C178.07,95.82 169.67,91.32 164.40,88.40C159.13,85.48 153.95,82.33 149.20,79.80C144.45,77.27 140.65,75.40 135.90,73.20C131.15,71.00 125.45,68.50 120.70,66.60C115.95,64.70 111.82,63.23 107.40,61.80C102.98,60.37 98.93,58.85 94.20,58.00C89.47,57.15 84.70,56.78 79.00,56.70C73.30,56.62 65.67,56.78 60.00,57.50C54.33,58.22 50.13,59.47 45.00,61.00C39.87,62.53 31.83,65.75 29.20,66.70Z" fill="none" stroke="#3FD43F" stroke-width="1.3" stroke-linejoin="round"/>
<path d="M337.60,69.90 L450.80,83.90 L437.00,168.30 L300.80,147.30 Z" fill="#fff" stroke="#9a9a9a" stroke-width="0.7"/>
<path d="M339.3,71.2L392.0,77.9L382.0,113.2L322.8,104.8Z" fill="#FF0000"/>
<path d="M382.0,113.2L322.8,104.8L331.9,86.3L340.8,81.2L352.3,72.8L392.0,77.9L382.0,113.2Z" fill="#FFFF00"/>
<path d="M382.0,113.2L322.8,104.8L330.1,90.0L336.8,87.5L342.4,84.6L350.9,78.9L357.9,73.6L392.0,77.9L382.0,113.2Z" fill="#80FF00"/>
<path d="M382.0,113.2L322.8,104.8L328.6,93.6L332.1,91.5L341.0,88.0L346.5,85.1L355.7,79.0L362.0,74.1L392.0,77.9L382.0,113.2Z" fill="#00FF00"/>
<path d="M382.0,113.2L325.6,105.2L331.5,98.2L337.5,93.3L347.9,89.0L352.7,86.5L362.0,80.4L368.8,75.0L392.0,77.9L382.0,113.2Z" fill="#00FF80"/>
<path d="M382.0,113.2L328.4,105.6L334.3,98.6L340.2,93.7L350.6,89.3L355.4,86.8L364.7,80.7L371.5,75.3L392.0,77.9L382.0,113.2Z" fill="#00FFFF"/>
<path d="M382.0,113.2L332.3,106.1L338.1,99.1L344.0,94.2L354.4,89.8L359.2,87.3L368.5,81.2L375.3,75.8L392.0,77.9L382.0,113.2Z" fill="#0060FF"/>
<path d="M382.0,113.2L334.5,106.5L340.3,99.4L346.2,94.5L356.6,90.1L361.4,87.6L370.7,81.5L377.5,76.1L392.0,77.9L382.0,113.2Z" fill="#0000FF"/>
<path d="M382.0,113.2L339.6,107.2L345.8,99.7L351.1,95.2L361.6,90.8L366.5,88.3L375.7,82.1L382.5,76.7L392.0,77.9L382.0,113.2Z" fill="#B000FF"/>
<path d="M345.3,108.0L350.4,102.9L355.0,99.2L359.4,95.5L363.7,93.5L370.2,93.3L376.9,94.2L377.7,97.2L377.0,103.3L375.5,112.3Z" fill="#FF00FF"/>
<path d="M368.4,111.3L368.3,111.3L367.9,111.2L367.4,111.1L366.6,111.0L365.7,110.9L364.6,110.7L363.4,110.6L362.0,110.4L360.6,110.2L359.2,110.0L357.8,109.8L356.4,109.6L355.0,109.4L353.8,109.2L352.7,109.0L351.8,108.9L351.0,108.8L350.5,108.7L350.1,108.7L350.0,108.7L350.5,107.7L351.2,106.8L352.1,106.0L353.2,105.3L354.4,104.7L355.7,104.2L357.1,103.8L358.6,103.6L360.0,103.6L361.5,103.7L362.8,104.0L364.1,104.4L365.3,105.0L366.3,105.7L367.2,106.5L367.9,107.3L368.3,108.3L368.6,109.3L368.6,110.3Z" fill="#FF0000"/>
<path d="M377.6,112.6L379.9,103.7L382.7,97.2L384.5,95.2L385.0,97.5L383.6,104.3L381.1,113.1Z" fill="#0000FF"/>
<path d="M331.05,88.00L387.00,95.55" stroke="#fff" stroke-width="0.8" stroke-opacity="0.75"/>
<path d="M392.0,77.9L448.6,85.0L444.2,120.4L382.0,113.2Z" fill="#FF0000"/>
<path d="M444.2,120.4L382.0,113.2L387.5,93.8L395.7,88.4L405.9,79.6L448.6,85.0L444.2,120.4Z" fill="#FFFF00"/>
<path d="M444.2,120.4L382.0,113.2L386.4,97.7L392.8,94.9L398.0,91.9L405.8,86.0L411.9,80.4L448.6,85.0L444.2,120.4Z" fill="#80FF00"/>
<path d="M444.2,120.4L382.0,113.2L385.7,101.5L388.8,99.2L397.3,95.5L402.5,92.4L410.8,86.0L416.4,81.0L448.6,85.0L444.2,120.4Z" fill="#00FF00"/>
<path d="M444.2,120.4L384.9,113.5L389.6,106.2L394.7,101.0L404.7,96.4L409.1,93.7L417.6,87.4L423.7,81.9L448.6,85.0L444.2,120.4Z" fill="#00FF80"/>
<path d="M444.2,120.4L387.9,113.9L392.5,106.5L397.6,101.3L407.5,96.7L412.0,94.1L420.5,87.8L426.6,82.2L448.6,85.0L444.2,120.4Z" fill="#00FFFF"/>
<path d="M444.2,120.4L392.0,114.4L396.5,107.0L401.6,101.8L411.6,97.2L416.1,94.6L424.5,88.3L430.7,82.8L448.6,85.0L444.2,120.4Z" fill="#0060FF"/>
<path d="M444.2,120.4L394.3,114.6L398.9,107.3L403.9,102.1L413.9,97.5L418.4,94.9L426.9,88.6L433.0,83.0L448.6,85.0L444.2,120.4Z" fill="#0000FF"/>
<path d="M444.2,120.4L399.7,115.2L404.5,107.4L409.2,102.7L419.2,98.1L423.8,95.5L432.3,89.2L438.4,83.7L448.6,85.0L444.2,120.4Z" fill="#B000FF"/>
<path d="M405.6,115.9L410.0,110.6L413.9,106.8L417.8,102.9L421.8,100.8L428.6,100.6L435.7,101.4L437.1,104.5L437.4,110.6L437.4,119.6Z" fill="#FF00FF"/>
<path d="M429.9,118.7L429.8,118.7L429.4,118.7L428.8,118.6L428.1,118.5L427.1,118.4L425.9,118.3L424.6,118.1L423.2,118.0L421.8,117.8L420.3,117.6L418.7,117.5L417.3,117.3L415.9,117.1L414.6,117.0L413.4,116.8L412.5,116.7L411.7,116.6L411.1,116.6L410.7,116.5L410.6,116.5L410.9,115.5L411.5,114.6L412.3,113.7L413.2,113.0L414.3,112.3L415.6,111.8L417.0,111.5L418.4,111.2L419.9,111.2L421.4,111.3L422.9,111.5L424.3,111.9L425.6,112.5L426.8,113.1L427.8,113.9L428.7,114.8L429.3,115.7L429.7,116.7L429.9,117.7Z" fill="#FF0000"/>
<path d="M439.5,119.9L440.4,111.0L442.3,104.4L443.7,102.4L444.6,104.6L444.4,111.4L443.3,120.3Z" fill="#0000FF"/>
<path d="M387.00,95.55L446.40,102.70" stroke="#fff" stroke-width="0.8" stroke-opacity="0.75"/>
<path d="M322.8,104.8L382.0,113.2L369.8,156.4L303.7,145.6Z" fill="#FF0000"/>
<path d="M369.8,156.4L303.7,145.6L314.2,123.2L324.3,117.0L337.4,106.9L382.0,113.2L369.8,156.4Z" fill="#FFFF00"/>
<path d="M369.8,156.4L303.7,145.6L312.1,127.7L319.7,124.6L326.0,121.1L335.8,114.3L343.6,107.8L382.0,113.2L369.8,156.4Z" fill="#80FF00"/>
<path d="M369.8,156.4L303.7,145.6L310.4,132.1L314.4,129.5L324.4,125.3L330.7,121.8L341.1,114.4L348.3,108.4L382.0,113.2L369.8,156.4Z" fill="#00FF00"/>
<path d="M369.8,156.4L306.8,146.1L313.6,137.6L320.4,131.7L332.2,126.5L337.6,123.5L348.1,116.1L356.0,109.5L382.0,113.2L369.8,156.4Z" fill="#00FF80"/>
<path d="M369.8,156.4L309.9,146.6L316.7,138.1L323.4,132.2L335.2,127.0L340.6,123.9L351.2,116.5L359.0,109.9L382.0,113.2L369.8,156.4Z" fill="#00FFFF"/>
<path d="M369.8,156.4L314.3,147.3L321.0,138.8L327.6,132.8L339.5,127.6L344.9,124.6L355.4,117.1L363.2,110.5L382.0,113.2L369.8,156.4Z" fill="#0060FF"/>
<path d="M369.8,156.4L316.8,147.7L323.4,139.2L330.1,133.2L341.9,128.0L347.4,125.0L357.9,117.5L365.7,110.9L382.0,113.2L369.8,156.4Z" fill="#0000FF"/>
<path d="M369.8,156.4L322.5,148.7L329.5,139.5L335.6,134.1L347.5,128.8L353.0,125.8L363.5,118.3L371.3,111.7L382.0,113.2L369.8,156.4Z" fill="#B000FF"/>
<path d="M328.8,149.7L334.7,143.6L339.8,139.0L344.9,134.5L349.8,132.1L357.1,131.9L364.6,133.1L365.4,136.8L364.5,144.3L362.5,155.2Z" fill="#FF00FF"/>
<path d="M354.6,153.9L354.5,153.9L354.1,153.8L353.5,153.7L352.6,153.6L351.6,153.4L350.4,153.2L349.0,153.0L347.5,152.8L346.0,152.5L344.4,152.2L342.7,152.0L341.2,151.7L339.7,151.5L338.3,151.3L337.1,151.1L336.1,150.9L335.2,150.8L334.6,150.6L334.2,150.6L334.1,150.6L334.7,149.4L335.5,148.3L336.5,147.3L337.7,146.4L339.1,145.7L340.6,145.1L342.2,144.7L343.8,144.5L345.4,144.5L347.0,144.6L348.6,145.0L350.0,145.5L351.3,146.2L352.4,147.0L353.4,148.0L354.1,149.1L354.6,150.3L354.9,151.5L354.9,152.7Z" fill="#FF0000"/>
<path d="M364.8,155.6L367.7,144.8L371.1,136.8L373.1,134.4L373.6,137.1L371.9,145.4L368.8,156.2Z" fill="#0000FF"/>
<path d="M313.25,125.20L375.90,134.80" stroke="#fff" stroke-width="0.8" stroke-opacity="0.75"/>
<path d="M382.0,113.2L444.2,120.4L436.3,166.8L369.8,156.4Z" fill="#FF0000"/>
<path d="M436.3,166.8L369.8,156.4L376.5,132.6L385.6,126.0L397.3,115.0L444.2,120.4L436.3,166.8Z" fill="#FFFF00"/>
<path d="M436.3,166.8L369.8,156.4L375.2,137.4L382.3,134.0L388.0,130.2L396.8,122.8L403.9,115.7L444.2,120.4L436.3,166.8Z" fill="#80FF00"/>
<path d="M436.3,166.8L369.8,156.4L374.2,142.1L377.7,139.3L387.1,134.7L392.9,130.9L402.3,122.8L408.8,116.3L444.2,120.4L436.3,166.8Z" fill="#00FF00"/>
<path d="M436.3,166.8L372.9,156.9L378.3,147.9L384.1,141.5L395.1,135.8L400.1,132.5L409.7,124.4L416.9,117.2L444.2,120.4L436.3,166.8Z" fill="#00FF80"/>
<path d="M436.3,166.8L376.1,157.4L381.4,148.3L387.2,141.9L398.2,136.2L403.3,132.9L412.9,124.8L420.0,117.6L444.2,120.4L436.3,166.8Z" fill="#00FFFF"/>
<path d="M436.3,166.8L380.5,158.1L385.8,149.0L391.5,142.5L402.6,136.8L407.7,133.5L417.3,125.3L424.5,118.1L444.2,120.4L436.3,166.8Z" fill="#0060FF"/>
<path d="M436.3,166.8L383.0,158.5L388.3,149.3L394.0,142.9L405.1,137.1L410.2,133.8L419.9,125.6L427.1,118.4L444.2,120.4L436.3,166.8Z" fill="#0000FF"/>
<path d="M436.3,166.8L388.7,159.4L394.4,149.6L399.7,143.7L410.9,137.9L416.0,134.6L425.8,126.4L433.0,119.1L444.2,120.4L436.3,166.8Z" fill="#B000FF"/>
<path d="M395.1,160.4L400.1,153.7L404.6,148.9L409.0,144.0L413.6,141.3L420.9,141.0L428.7,142.0L429.9,146.0L429.8,154.0L429.0,165.7Z" fill="#FF00FF"/>
<path d="M421.0,164.4L420.9,164.4L420.5,164.3L419.9,164.2L419.0,164.1L418.0,163.9L416.8,163.7L415.4,163.5L413.9,163.3L412.3,163.0L410.7,162.8L409.1,162.5L407.5,162.3L406.0,162.1L404.6,161.8L403.4,161.7L402.4,161.5L401.5,161.4L400.9,161.3L400.5,161.2L400.4,161.2L400.8,159.9L401.5,158.8L402.3,157.7L403.4,156.8L404.7,156.0L406.1,155.3L407.6,154.9L409.2,154.6L410.8,154.5L412.4,154.7L414.0,155.0L415.5,155.5L416.9,156.2L418.1,157.1L419.1,158.1L420.0,159.3L420.6,160.5L421.0,161.8L421.1,163.1Z" fill="#FF0000"/>
<path d="M431.3,166.0L433.0,154.4L435.6,145.8L437.4,143.2L438.2,146.2L437.3,155.1L435.3,166.6Z" fill="#0000FF"/>
<path d="M375.90,134.80L440.25,143.60" stroke="#fff" stroke-width="0.8" stroke-opacity="0.75"/>
<path d="M392.00,77.90L382.00,113.20L369.80,156.40 M322.80,104.80L382.00,113.20L444.20,120.40" stroke="#fff" stroke-width="2.3" fill="none"/>
<path d="M278.10,41.80L297.30,151.40L437.90,172.60L451.90,84.00" stroke="#a0a0a0" stroke-width="0.65" fill="none"/>
<path d="M278.10,41.80l1.60,0.00M280.02,52.76l1.60,0.00M281.94,63.72l1.60,0.00M283.86,74.68l1.60,0.00M285.78,85.64l1.60,0.00M287.70,96.60l1.60,0.00M289.62,107.56l1.60,0.00M291.54,118.52l1.60,0.00M293.46,129.48l1.60,0.00M295.38,140.44l1.60,0.00M297.30,151.40l1.60,0.00M297.30,151.40l0.24,-1.60M307.34,152.91l0.24,-1.60M317.39,154.43l0.24,-1.60M327.43,155.94l0.24,-1.60M337.47,157.46l0.24,-1.60M347.51,158.97l0.24,-1.60M357.56,160.49l0.24,-1.60M367.60,162.00l0.24,-1.60M377.64,163.51l0.24,-1.60M387.69,165.03l0.24,-1.60M397.73,166.54l0.24,-1.60M407.77,168.06l0.24,-1.60M417.81,169.57l0.24,-1.60M427.86,171.09l0.24,-1.60M437.90,172.60l0.24,-1.60M437.90,172.60l-1.60,-0.16M438.90,166.27l-1.60,-0.16M439.90,159.94l-1.60,-0.16M440.90,153.61l-1.60,-0.16M441.90,147.29l-1.60,-0.16M442.90,140.96l-1.60,-0.16M443.90,134.63l-1.60,-0.16M444.90,128.30l-1.60,-0.16M445.90,121.97l-1.60,-0.16M446.90,115.64l-1.60,-0.16M447.90,109.31l-1.60,-0.16M448.90,102.99l-1.60,-0.16M449.90,96.66l-1.60,-0.16M450.90,90.33l-1.60,-0.16M451.90,84.00l-1.60,-0.16" stroke="#9a9a9a" stroke-width="0.6" fill="none"/>
<text x="0" y="71.00" font-size="6.1" fill="#333" text-anchor="middle" class="t3" transform="translate(275.90,0) scale(0.87,1)">0.5</text>
<text x="0" y="100.00" font-size="6.1" fill="#333" text-anchor="middle" class="t3" transform="translate(280.70,0) scale(0.87,1)">0.0</text>
<text x="0" y="126.60" font-size="6.1" fill="#333" text-anchor="end" class="t3" transform="translate(288.00,0) scale(0.87,1)">−0.5</text>
<text x="0" y="150.20" font-size="6.1" fill="#333" text-anchor="end" class="t3" transform="translate(293.00,0) scale(0.87,1)">−1.0</text>
<text x="0" y="161.80" font-size="6.1" fill="#333" text-anchor="middle" class="t3" transform="translate(320.70,0) scale(0.87,1)">−2</text>
<text x="0" y="168.80" font-size="6.1" fill="#333" text-anchor="middle" class="t3" transform="translate(363.80,0) scale(0.87,1)">0</text>
<text x="0" y="175.60" font-size="6.1" fill="#333" text-anchor="middle" class="t3" transform="translate(408.10,0) scale(0.87,1)">2</text>
<text x="0" y="102.20" font-size="6.1" fill="#333" text-anchor="middle" class="t3" transform="translate(453.80,0) scale(0.87,1)">2</text>
<text x="0" y="127.10" font-size="6.1" fill="#333" text-anchor="middle" class="t3" transform="translate(449.60,0) scale(0.87,1)">0</text>
<text x="0" y="155.40" font-size="6.1" fill="#333" text-anchor="middle" class="t3" transform="translate(447.40,0) scale(0.87,1)">−2</text>
<text x="265.40" y="100.60" class="t3b" text-anchor="middle"><tspan font-style="italic">u</tspan><tspan font-size="4.5" dy="1.3">1</tspan><tspan dy="-1.3">(x,t)</tspan></text>
<text x="360.60" y="179.20" class="t3b" style="font-size:6px" text-anchor="middle">t</text>
<text x="460.60" y="129.00" class="t3b" style="font-size:6.5px" text-anchor="middle">x</text>
<defs><clipPath id="sb"><path d="M291.00,89.80C293.40,86.97 300.73,79.32 305.40,72.80C310.07,66.28 314.18,58.97 319.00,50.70C323.82,42.43 331.75,27.78 334.30,23.20C337.42,23.40 347.05,24.00 353.00,24.40C358.95,24.80 363.62,25.58 370.00,25.60C376.38,25.62 384.20,25.57 391.30,24.50C398.40,23.43 405.50,21.33 412.60,19.20C419.70,17.07 426.13,14.12 433.90,11.70C441.67,9.28 454.98,5.87 459.20,4.70C458.18,11.02 455.55,27.73 453.10,42.60C450.65,57.47 445.93,85.35 444.50,93.90C442.73,92.10 437.45,87.03 433.90,83.10C430.35,79.17 426.75,73.85 423.20,70.30C419.65,66.75 416.13,64.12 412.60,61.80C409.07,59.48 405.55,57.67 402.00,56.40C398.45,55.13 394.87,54.72 391.30,54.20C387.73,53.68 384.15,53.37 380.60,53.30C377.05,53.23 374.60,52.82 370.00,53.80C365.40,54.78 358.67,56.60 353.00,59.20C347.33,61.80 341.67,66.00 336.00,69.40C330.33,72.80 324.67,76.77 319.00,79.60C313.33,82.43 306.67,84.70 302.00,86.40C297.33,88.10 292.83,89.23 291.00,89.80Z"/></clipPath>
<linearGradient id="gb_or" x1="348" y1="38" x2="358.5" y2="56" gradientUnits="userSpaceOnUse"><stop offset="0" stop-color="#FF8E00"/><stop offset="0.55" stop-color="#F87C00"/><stop offset="1" stop-color="#E85800"/></linearGradient>
<linearGradient id="gb_dr" x1="357" y1="53" x2="364" y2="65" gradientUnits="userSpaceOnUse"><stop offset="0" stop-color="#D02800"/><stop offset="0.35" stop-color="#C00000"/><stop offset="1" stop-color="#F00000"/></linearGradient>
<linearGradient id="gb_dr2" x1="400" y1="24" x2="410" y2="40" gradientUnits="userSpaceOnUse"><stop offset="0" stop-color="#D00000" stop-opacity="0.9"/><stop offset="1" stop-color="#FF0000" stop-opacity="0"/></linearGradient></defs>
<g clip-path="url(#sb)">
<path d="M291.00,89.80C293.40,86.97 300.73,79.32 305.40,72.80C310.07,66.28 314.18,58.97 319.00,50.70C323.82,42.43 331.75,27.78 334.30,23.20C337.42,23.40 347.05,24.00 353.00,24.40C358.95,24.80 363.62,25.58 370.00,25.60C376.38,25.62 384.20,25.57 391.30,24.50C398.40,23.43 405.50,21.33 412.60,19.20C419.70,17.07 426.13,14.12 433.90,11.70C441.67,9.28 454.98,5.87 459.20,4.70C458.18,11.02 455.55,27.73 453.10,42.60C450.65,57.47 445.93,85.35 444.50,93.90C442.73,92.10 437.45,87.03 433.90,83.10C430.35,79.17 426.75,73.85 423.20,70.30C419.65,66.75 416.13,64.12 412.60,61.80C409.07,59.48 405.55,57.67 402.00,56.40C398.45,55.13 394.87,54.72 391.30,54.20C387.73,53.68 384.15,53.37 380.60,53.30C377.05,53.23 374.60,52.82 370.00,53.80C365.40,54.78 358.67,56.60 353.00,59.20C347.33,61.80 341.67,66.00 336.00,69.40C330.33,72.80 324.67,76.77 319.00,79.60C313.33,82.43 306.67,84.70 302.00,86.40C297.33,88.10 292.83,89.23 291.00,89.80Z" fill="#FF0000"/>
<path d="M280.0,104.0L300.0,92.0L319.0,82.0L336.0,73.0L353.0,63.0L370.0,55.0L385.0,48.0L398.0,40.0L413.0,30.0L428.0,18.0L445.0,5.0L420.0,0.0L300.0,0.0L270.0,60.0Z" fill="url(#gb_dr)" filter="url(#bl2)"/>
<path d="M385,40 L398,31 L412,21 L430,12 L452,2 L460,12 L440,28 L420,40 L400,48 Z" fill="url(#gb_dr2)"/>
<path d="M280.0,95.0L300.0,83.5L319.0,73.7L336.0,64.3L353.0,54.1L370.0,45.2L385.0,38.5L398.0,30.0L410.5,21.3L418.0,10.0L415.0,0.0L300.0,0.0L270.0,60.0Z" fill="url(#gb_or)" filter="url(#bl2)"/>
<path d="M362.0,60.0L370.0,49.5L380.6,46.0L391.3,41.8L399.0,40.0L406.2,39.6L411.0,40.8L414.7,42.8L417.0,46.5L419.0,51.1L420.0,57.0L421.1,63.9L422.2,70.3L420.0,80.0L360.0,80.0Z" fill="#FF00FF" filter="url(#bl1)"/>
<path d="M370.0,49.5L380.6,46.0L391.3,41.8L399.0,40.0L406.2,39.6L411.0,40.8L414.7,42.8L417.0,46.5L419.0,51.1L420.0,57.0L421.1,63.9L422.2,70.3" fill="none" stroke="#FF3080" stroke-width="1.2" stroke-opacity="0.6"/>
<path d="M409,33.2 C418,33.2 428,34.5 436,37 S447,41.5 452.5,44" stroke="#fff" stroke-width="1" fill="none"/>
<path d="M317,54.6 L340,54.4" stroke="#fff" stroke-width="0.6" stroke-opacity="0.45" fill="none"/>
</g>
<path d="M291.00,89.80C293.40,86.97 300.73,79.32 305.40,72.80C310.07,66.28 314.18,58.97 319.00,50.70C323.82,42.43 331.75,27.78 334.30,23.20C337.42,23.40 347.05,24.00 353.00,24.40C358.95,24.80 363.62,25.58 370.00,25.60C376.38,25.62 384.20,25.57 391.30,24.50C398.40,23.43 405.50,21.33 412.60,19.20C419.70,17.07 426.13,14.12 433.90,11.70C441.67,9.28 454.98,5.87 459.20,4.70C458.18,11.02 455.55,27.73 453.10,42.60C450.65,57.47 445.93,85.35 444.50,93.90C442.73,92.10 437.45,87.03 433.90,83.10C430.35,79.17 426.75,73.85 423.20,70.30C419.65,66.75 416.13,64.12 412.60,61.80C409.07,59.48 405.55,57.67 402.00,56.40C398.45,55.13 394.87,54.72 391.30,54.20C387.73,53.68 384.15,53.37 380.60,53.30C377.05,53.23 374.60,52.82 370.00,53.80C365.40,54.78 358.67,56.60 353.00,59.20C347.33,61.80 341.67,66.00 336.00,69.40C330.33,72.80 324.67,76.77 319.00,79.60C313.33,82.43 306.67,84.70 302.00,86.40C297.33,88.10 292.83,89.23 291.00,89.80Z" fill="none" stroke="#2222E6" stroke-width="1.3" stroke-linejoin="round"/>
<path d="M567.00,67.20 L673.80,91.20 L644.20,175.60 L521.80,142.00 Z" fill="#fff" stroke="#9a9a9a" stroke-width="0.7"/>
<path d="M568.7,68.5L620.5,81.1L603.6,113.6L550.0,101.6Z" fill="#FF0000"/>
<path d="M603.6,113.6L550.0,101.6L561.7,80.9L571.8,69.3L620.5,81.1L603.6,113.6Z" fill="#FFFF00"/>
<path d="M603.6,113.6L558.6,103.5L568.0,86.8L576.0,78.9L583.9,72.2L620.5,81.1L603.6,113.6Z" fill="#80FF00"/>
<path d="M603.6,113.6L560.7,104.0L570.1,87.3L578.4,79.5L586.7,72.9L620.5,81.1L603.6,113.6Z" fill="#00FF00"/>
<path d="M603.6,113.6L566.1,105.2L575.4,88.5L584.4,81.0L593.6,74.5L620.5,81.1L603.6,113.6Z" fill="#00FF80"/>
<path d="M603.6,113.6L568.8,105.8L578.0,89.1L587.4,81.7L597.0,75.4L620.5,81.1L603.6,113.6Z" fill="#00FFFF"/>
<path d="M603.6,113.6L572.0,106.5L581.2,89.9L591.0,82.5L601.2,76.4L620.5,81.1L603.6,113.6Z" fill="#0060FF"/>
<path d="M603.6,113.6L574.1,107.0L583.3,90.4L593.4,83.1L603.9,77.1L620.5,81.1L603.6,113.6Z" fill="#0000FF"/>
<path d="M603.6,113.6L577.3,107.7L586.5,91.1L597.1,84.0L608.1,78.1L620.5,81.1L603.6,113.6Z" fill="#B000FF"/>
<path d="M603.6,113.6L580.6,108.4L589.7,91.9L600.7,84.8L612.2,79.1L620.5,81.1L603.6,113.6Z" fill="#FF00FF"/>
<path d="M568.7,68.5L576.7,70.5L574.7,73.9L573.3,76.1L571.9,78.0L570.5,79.6L569.2,80.9L567.8,82.0L566.4,82.8L565.1,83.4L563.7,83.7L562.2,83.7L560.3,83.4Z" fill="#FF0000"/>
<path d="M602.5,113.4L602.4,113.3L602.1,113.3L601.5,113.1L600.7,112.9L599.7,112.7L598.6,112.5L597.3,112.2L595.9,111.9L594.4,111.5L592.9,111.2L591.4,110.9L589.9,110.5L588.5,110.2L587.2,109.9L586.1,109.7L585.1,109.5L584.3,109.3L583.7,109.1L583.4,109.1L583.2,109.0L584.3,107.2L585.7,105.5L587.2,103.9L588.8,102.5L590.5,101.3L592.3,100.4L594.1,99.7L595.8,99.4L597.5,99.3L599.1,99.5L600.5,99.9L601.7,100.7L602.7,101.7L603.5,103.0L604.0,104.4L604.3,106.1L604.3,107.8L603.9,109.6L603.4,111.5Z" fill="#FF0000"/>
<path d="M559.35,85.05L612.05,97.35" stroke="#fff" stroke-width="0.8" stroke-opacity="0.75"/>
<path d="M620.5,81.1L671.6,92.1L658.0,127.6L603.6,113.6Z" fill="#FF0000"/>
<path d="M658.0,127.6L603.6,113.6L614.2,93.3L623.6,81.8L671.6,92.1L658.0,127.6Z" fill="#FFFF00"/>
<path d="M658.0,127.6L612.3,115.8L620.7,99.1L628.1,91.2L635.5,84.3L671.6,92.1L658.0,127.6Z" fill="#80FF00"/>
<path d="M658.0,127.6L614.5,116.4L622.8,99.6L630.5,91.8L638.2,84.9L671.6,92.1L658.0,127.6Z" fill="#00FF00"/>
<path d="M658.0,127.6L619.9,117.8L628.1,100.9L636.5,93.1L645.0,86.4L671.6,92.1L658.0,127.6Z" fill="#00FF80"/>
<path d="M658.0,127.6L622.6,118.5L630.7,101.5L639.5,93.8L648.4,87.1L671.6,92.1L658.0,127.6Z" fill="#00FFFF"/>
<path d="M658.0,127.6L625.9,119.3L633.9,102.3L643.1,94.6L652.5,88.0L671.6,92.1L658.0,127.6Z" fill="#0060FF"/>
<path d="M658.0,127.6L628.1,119.9L636.0,102.8L645.5,95.1L655.2,88.6L671.6,92.1L658.0,127.6Z" fill="#0000FF"/>
<path d="M658.0,127.6L631.3,120.7L639.2,103.5L649.1,96.0L659.3,89.5L671.6,92.1L658.0,127.6Z" fill="#B000FF"/>
<path d="M658.0,127.6L634.6,121.6L642.4,104.3L652.7,96.8L663.4,90.3L671.6,92.1L658.0,127.6Z" fill="#FF00FF"/>
<path d="M620.5,81.1L628.4,82.8L626.7,86.2L625.3,88.5L624.1,90.4L622.8,91.9L621.5,93.3L620.2,94.3L618.9,95.1L617.6,95.7L616.3,96.0L614.8,96.1L612.9,95.7Z" fill="#FF0000"/>
<path d="M656.9,127.3L656.8,127.3L656.4,127.2L655.8,127.0L655.0,126.8L654.0,126.6L652.9,126.3L651.6,125.9L650.1,125.6L648.7,125.2L647.1,124.8L645.6,124.4L644.1,124.0L642.7,123.7L641.4,123.3L640.2,123.0L639.2,122.8L638.4,122.6L637.8,122.4L637.4,122.3L637.3,122.3L638.3,120.4L639.5,118.6L640.8,116.9L642.3,115.5L643.9,114.2L645.6,113.2L647.3,112.5L649.0,112.1L650.7,112.0L652.3,112.2L653.7,112.8L655.0,113.6L656.1,114.7L656.9,116.0L657.6,117.6L658.0,119.4L658.1,121.3L658.0,123.3L657.6,125.3Z" fill="#FF0000"/>
<path d="M612.05,97.35L664.80,109.85" stroke="#fff" stroke-width="0.8" stroke-opacity="0.75"/>
<path d="M550.0,101.6L603.6,113.6L582.0,155.0L524.7,140.4Z" fill="#FF0000"/>
<path d="M582.0,155.0L524.7,140.4L540.5,116.2L553.2,102.3L603.6,113.6L582.0,155.0Z" fill="#FFFF00"/>
<path d="M582.0,155.0L533.9,142.7L546.5,122.9L556.2,113.4L565.7,105.1L603.6,113.6L582.0,155.0Z" fill="#80FF00"/>
<path d="M582.0,155.0L536.2,143.3L548.7,123.4L558.7,114.0L568.6,105.8L603.6,113.6L582.0,155.0Z" fill="#00FF00"/>
<path d="M582.0,155.0L541.9,144.8L554.3,124.7L565.0,115.4L575.7,107.4L603.6,113.6L582.0,155.0Z" fill="#00FF80"/>
<path d="M582.0,155.0L544.8,145.5L557.1,125.4L568.2,116.2L579.3,108.2L603.6,113.6L582.0,155.0Z" fill="#00FFFF"/>
<path d="M582.0,155.0L548.2,146.4L560.4,126.2L571.9,117.0L583.6,109.1L603.6,113.6L582.0,155.0Z" fill="#0060FF"/>
<path d="M582.0,155.0L550.5,147.0L562.6,126.7L574.5,117.6L586.4,109.8L603.6,113.6L582.0,155.0Z" fill="#0000FF"/>
<path d="M582.0,155.0L553.9,147.8L566.0,127.5L578.2,118.5L590.7,110.7L603.6,113.6L582.0,155.0Z" fill="#B000FF"/>
<path d="M582.0,155.0L557.4,148.7L569.3,128.3L582.0,119.3L595.0,111.7L603.6,113.6L582.0,155.0Z" fill="#FF00FF"/>
<path d="M550.0,101.6L558.3,103.5L555.7,107.5L553.7,110.2L552.0,112.5L550.3,114.3L548.6,115.9L547.0,117.2L545.4,118.2L543.8,118.9L542.3,119.3L540.7,119.4L538.6,119.1Z" fill="#FF0000"/>
<path d="M580.9,154.7L580.7,154.7L580.3,154.6L579.7,154.4L578.9,154.2L577.8,153.9L576.6,153.6L575.2,153.3L573.7,152.9L572.2,152.5L570.5,152.1L568.9,151.7L567.4,151.3L565.9,150.9L564.5,150.5L563.2,150.2L562.2,150.0L561.4,149.7L560.7,149.6L560.4,149.5L560.2,149.5L561.6,147.2L563.3,145.1L565.1,143.1L567.0,141.4L569.1,139.9L571.1,138.7L573.1,137.8L575.1,137.3L576.9,137.2L578.6,137.4L580.1,137.9L581.3,138.8L582.3,140.1L583.0,141.6L583.4,143.4L583.5,145.5L583.3,147.7L582.8,150.0L581.9,152.3Z" fill="#FF0000"/>
<path d="M537.35,121.00L592.80,134.30" stroke="#fff" stroke-width="0.8" stroke-opacity="0.75"/>
<path d="M603.6,113.6L658.0,127.6L643.2,173.5L582.0,155.0Z" fill="#FF0000"/>
<path d="M643.2,173.5L582.0,155.0L595.5,129.1L606.9,114.4L658.0,127.6L643.2,173.5Z" fill="#FFFF00"/>
<path d="M643.2,173.5L591.8,158.0L602.3,136.6L611.0,126.5L619.6,117.7L658.0,127.6L643.2,173.5Z" fill="#80FF00"/>
<path d="M643.2,173.5L594.2,158.7L604.6,137.3L613.6,127.2L622.5,118.5L658.0,127.6L643.2,173.5Z" fill="#00FF00"/>
<path d="M643.2,173.5L600.4,160.6L610.4,138.9L620.1,129.0L629.7,120.3L658.0,127.6L643.2,173.5Z" fill="#00FF80"/>
<path d="M643.2,173.5L603.4,161.5L613.3,139.7L623.3,129.8L633.3,121.3L658.0,127.6L643.2,173.5Z" fill="#00FFFF"/>
<path d="M643.2,173.5L607.1,162.6L616.8,140.7L627.2,130.9L637.7,122.4L658.0,127.6L643.2,173.5Z" fill="#0060FF"/>
<path d="M643.2,173.5L609.5,163.3L619.1,141.3L629.8,131.6L640.6,123.1L658.0,127.6L643.2,173.5Z" fill="#0000FF"/>
<path d="M643.2,173.5L613.2,164.4L622.6,142.3L633.6,132.6L644.9,124.2L658.0,127.6L643.2,173.5Z" fill="#B000FF"/>
<path d="M643.2,173.5L616.9,165.5L626.0,143.3L637.5,133.6L649.3,125.4L658.0,127.6L643.2,173.5Z" fill="#FF00FF"/>
<path d="M603.6,113.6L612.0,115.8L609.8,120.1L608.2,123.0L606.7,125.4L605.1,127.4L603.6,129.1L602.1,130.5L600.6,131.5L599.1,132.2L597.6,132.6L596.0,132.7L593.9,132.2Z" fill="#FF0000"/>
<path d="M642.0,173.1L641.8,173.1L641.4,173.0L640.8,172.8L639.9,172.5L638.7,172.2L637.4,171.8L636.0,171.3L634.4,170.8L632.7,170.3L631.0,169.8L629.2,169.3L627.6,168.8L626.0,168.3L624.5,167.8L623.2,167.4L622.0,167.1L621.1,166.8L620.5,166.6L620.1,166.5L619.9,166.5L621.1,164.0L622.4,161.7L624.0,159.6L625.7,157.7L627.5,156.1L629.4,154.9L631.3,154.0L633.2,153.4L635.1,153.3L636.8,153.6L638.4,154.3L639.8,155.3L641.0,156.8L641.9,158.5L642.6,160.6L643.1,162.8L643.2,165.3L643.1,167.9L642.7,170.5Z" fill="#FF0000"/>
<path d="M592.80,134.30L650.60,150.55" stroke="#fff" stroke-width="0.8" stroke-opacity="0.75"/>
<path d="M620.50,81.10L603.60,113.60L582.00,155.00 M550.00,101.60L603.60,113.60L658.00,127.60" stroke="#fff" stroke-width="2.3" fill="none"/>
<path d="M500.70,35.50L518.90,142.50L644.00,177.90L674.90,92.50" stroke="#a0a0a0" stroke-width="0.65" fill="none"/>
<path d="M500.70,35.50l1.60,0.00M502.52,46.20l1.60,0.00M504.34,56.90l1.60,0.00M506.16,67.60l1.60,0.00M507.98,78.30l1.60,0.00M509.80,89.00l1.60,0.00M511.62,99.70l1.60,0.00M513.44,110.40l1.60,0.00M515.26,121.10l1.60,0.00M517.08,131.80l1.60,0.00M518.90,142.50l1.60,0.00M518.90,142.50l0.24,-1.60M527.84,145.03l0.24,-1.60M536.77,147.56l0.24,-1.60M545.71,150.09l0.24,-1.60M554.64,152.61l0.24,-1.60M563.58,155.14l0.24,-1.60M572.51,157.67l0.24,-1.60M581.45,160.20l0.24,-1.60M590.39,162.73l0.24,-1.60M599.32,165.26l0.24,-1.60M608.26,167.79l0.24,-1.60M617.19,170.31l0.24,-1.60M626.13,172.84l0.24,-1.60M635.06,175.37l0.24,-1.60M644.00,177.90l0.24,-1.60M644.00,177.90l-1.60,-0.16M646.21,171.80l-1.60,-0.16M648.41,165.70l-1.60,-0.16M650.62,159.60l-1.60,-0.16M652.83,153.50l-1.60,-0.16M655.04,147.40l-1.60,-0.16M657.24,141.30l-1.60,-0.16M659.45,135.20l-1.60,-0.16M661.66,129.10l-1.60,-0.16M663.86,123.00l-1.60,-0.16M666.07,116.90l-1.60,-0.16M668.28,110.80l-1.60,-0.16M670.49,104.70l-1.60,-0.16M672.69,98.60l-1.60,-0.16M674.90,92.50l-1.60,-0.16" stroke="#9a9a9a" stroke-width="0.6" fill="none"/>
<text x="0" y="61.70" font-size="6.1" fill="#333" text-anchor="middle" class="t3" transform="translate(497.50,0) scale(0.87,1)">0.5</text>
<text x="0" y="91.10" font-size="6.1" fill="#333" text-anchor="middle" class="t3" transform="translate(502.30,0) scale(0.87,1)">0.0</text>
<text x="0" y="118.30" font-size="6.1" fill="#333" text-anchor="end" class="t3" transform="translate(509.80,0) scale(0.87,1)">−0.5</text>
<text x="0" y="142.20" font-size="6.1" fill="#333" text-anchor="end" class="t3" transform="translate(514.30,0) scale(0.87,1)">−1.0</text>
<text x="0" y="157.10" font-size="6.1" fill="#333" text-anchor="middle" class="t3" transform="translate(537.80,0) scale(0.87,1)">−2</text>
<text x="0" y="168.40" font-size="6.1" fill="#333" text-anchor="middle" class="t3" transform="translate(575.40,0) scale(0.87,1)">0</text>
<text x="0" y="178.90" font-size="6.1" fill="#333" text-anchor="middle" class="t3" transform="translate(615.30,0) scale(0.87,1)">2</text>
<text x="0" y="109.20" font-size="6.1" fill="#333" text-anchor="middle" class="t3" transform="translate(673.30,0) scale(0.87,1)">2</text>
<text x="0" y="134.10" font-size="6.1" fill="#333" text-anchor="middle" class="t3" transform="translate(664.10,0) scale(0.87,1)">0</text>
<text x="0" y="162.90" font-size="6.1" fill="#333" text-anchor="middle" class="t3" transform="translate(656.70,0) scale(0.87,1)">−2</text>
<text x="487.90" y="92.00" class="t3b" text-anchor="middle"><tspan font-style="italic">u</tspan><tspan font-size="4.5" dy="1.3">1</tspan><tspan dy="-1.3">(x,t)</tspan></text>
<text x="570.70" y="178.00" class="t3b" style="font-size:6px" text-anchor="middle">t</text>
<text x="674.80" y="138.60" class="t3b" style="font-size:6.5px" text-anchor="middle">x</text>
<defs><clipPath id="sc"><path d="M512.70,88.10C517.25,82.58 530.92,66.07 540.00,55.00C549.08,43.93 562.67,27.25 567.20,21.70C569.97,21.95 578.83,22.68 583.80,23.20C588.77,23.72 592.62,24.42 597.00,24.80C601.38,25.18 605.73,25.47 610.10,25.50C614.47,25.53 618.82,25.75 623.20,25.00C627.58,24.25 630.70,22.75 636.40,21.00C642.10,19.25 649.73,16.78 657.40,14.50C665.07,12.22 678.23,8.50 682.40,7.30C679.83,13.90 672.27,35.78 667.00,46.90C661.73,58.02 653.50,69.48 650.80,74.00C648.72,72.20 642.10,65.28 638.30,63.20C634.50,61.12 631.18,61.80 628.00,61.50C624.82,61.20 622.20,61.12 619.20,61.40C616.20,61.68 613.08,62.52 610.00,63.20C606.92,63.88 604.48,64.17 600.70,65.50C596.92,66.83 592.08,68.97 587.30,71.20C582.52,73.43 577.75,76.50 572.00,78.90C566.25,81.30 559.18,84.00 552.80,85.60C546.42,87.20 540.38,88.08 533.70,88.50C527.02,88.92 516.20,88.17 512.70,88.10Z"/></clipPath>
<linearGradient id="gc_r" x1="546" y1="62" x2="566" y2="72" gradientUnits="userSpaceOnUse"><stop offset="0" stop-color="#FF0000" stop-opacity="0"/><stop offset="0.6" stop-color="#D00000" stop-opacity="0.6"/><stop offset="1" stop-color="#A00000" stop-opacity="1"/></linearGradient>
<linearGradient id="gc_g" x1="565" y1="70" x2="650" y2="25" gradientUnits="userSpaceOnUse"><stop offset="0" stop-color="#00B800"/><stop offset="0.35" stop-color="#00D400"/><stop offset="1" stop-color="#10FF00"/></linearGradient></defs>
<g clip-path="url(#sc)">
<path d="M512.70,88.10C517.25,82.58 530.92,66.07 540.00,55.00C549.08,43.93 562.67,27.25 567.20,21.70C569.97,21.95 578.83,22.68 583.80,23.20C588.77,23.72 592.62,24.42 597.00,24.80C601.38,25.18 605.73,25.47 610.10,25.50C614.47,25.53 618.82,25.75 623.20,25.00C627.58,24.25 630.70,22.75 636.40,21.00C642.10,19.25 649.73,16.78 657.40,14.50C665.07,12.22 678.23,8.50 682.40,7.30C679.83,13.90 672.27,35.78 667.00,46.90C661.73,58.02 653.50,69.48 650.80,74.00C648.72,72.20 642.10,65.28 638.30,63.20C634.50,61.12 631.18,61.80 628.00,61.50C624.82,61.20 622.20,61.12 619.20,61.40C616.20,61.68 613.08,62.52 610.00,63.20C606.92,63.88 604.48,64.17 600.70,65.50C596.92,66.83 592.08,68.97 587.30,71.20C582.52,73.43 577.75,76.50 572.00,78.90C566.25,81.30 559.18,84.00 552.80,85.60C546.42,87.20 540.38,88.08 533.70,88.50C527.02,88.92 516.20,88.17 512.70,88.10Z" fill="url(#gc_g)"/>
<path d="M500.0,100.0L553.5,88.0L557.5,83.3L563.0,77.0L568.3,69.7L572.0,63.5L575.5,57.0L581.0,48.9L587.0,46.5L594.0,44.0L602.6,41.0L610.0,38.0L616.5,34.9L620.5,29.0L623.6,23.5L626.0,10.0L560.0,0.0L500.0,40.0Z" fill="#FF0000" filter="url(#bl1)"/>
<path d="M530.0,100.0L553.5,88.0L557.5,83.3L563.0,77.0L568.3,69.7L572.0,63.5L575.5,57.0L581.0,48.9L587.0,46.5L594.0,44.0L560.0,48.0L530.0,60.0Z" fill="url(#gc_r)" filter="url(#bl1)"/>
<path d="M590.0,80.0L593.8,66.0L598.0,62.5L602.6,59.5L606.0,55.5L609.6,51.5L614.0,46.5L618.3,42.8L625.3,39.3L634.0,36.6L642.8,37.3L649.8,40.5L656.8,48.5L662.0,53.3L668.0,56.0L668.0,80.0Z" fill="#0000FF" filter="url(#bl1)"/>
<path d="M593.8,66.0L598.0,62.5L602.6,59.5L606.0,55.5L609.6,51.5L614.0,46.5L618.3,42.8L625.3,39.3L634.0,36.6L642.8,37.3L649.8,40.5L656.8,48.5L662.0,53.3" fill="none" stroke="#00C040" stroke-width="1.5" stroke-opacity="0.5"/>
<path d="M636,35.4 C644,35.6 652,37.4 658,40.5 S664,44.5 667.5,46.6" stroke="#fff" stroke-width="1" fill="none"/>
<path d="M543,51.3 L566,51.6" stroke="#fff" stroke-width="0.6" stroke-opacity="0.5" fill="none"/>
</g>
<path d="M512.70,88.10C517.25,82.58 530.92,66.07 540.00,55.00C549.08,43.93 562.67,27.25 567.20,21.70C569.97,21.95 578.83,22.68 583.80,23.20C588.77,23.72 592.62,24.42 597.00,24.80C601.38,25.18 605.73,25.47 610.10,25.50C614.47,25.53 618.82,25.75 623.20,25.00C627.58,24.25 630.70,22.75 636.40,21.00C642.10,19.25 649.73,16.78 657.40,14.50C665.07,12.22 678.23,8.50 682.40,7.30C679.83,13.90 672.27,35.78 667.00,46.90C661.73,58.02 653.50,69.48 650.80,74.00C648.72,72.20 642.10,65.28 638.30,63.20C634.50,61.12 631.18,61.80 628.00,61.50C624.82,61.20 622.20,61.12 619.20,61.40C616.20,61.68 613.08,62.52 610.00,63.20C606.92,63.88 604.48,64.17 600.70,65.50C596.92,66.83 592.08,68.97 587.30,71.20C582.52,73.43 577.75,76.50 572.00,78.90C566.25,81.30 559.18,84.00 552.80,85.60C546.42,87.20 540.38,88.08 533.70,88.50C527.02,88.92 516.20,88.17 512.70,88.10Z" fill="none" stroke="#F4E400" stroke-width="1.4" stroke-linejoin="round"/>
<text x="55.65" y="206.20" class="cap">(a)</text>
<text x="81.80" y="206.20" class="cap" font-style="italic">β</text>
<text x="0" y="207.90" class="cap" transform="translate(96.80,0) scale(1.3,1)">=</text>
<text x="114.00" y="206.20" class="cap">0.89</text>
<text x="318.80" y="206.20" class="cap">(b)</text>
<text x="345.70" y="206.20" class="cap" font-style="italic">β</text>
<text x="0" y="207.90" class="cap" transform="translate(360.40,0) scale(1.3,1)">=</text>
<text x="377.20" y="206.20" class="cap">0.7</text>
<text x="537.70" y="206.20" class="cap">(c)</text>
<text x="562.40" y="206.20" class="cap" font-style="italic">β</text>
<text x="0" y="207.90" class="cap" transform="translate(577.00,0) scale(1.3,1)">=</text>
<text x="594.70" y="206.20" class="cap">0.43</text>
</svg></body></html>
